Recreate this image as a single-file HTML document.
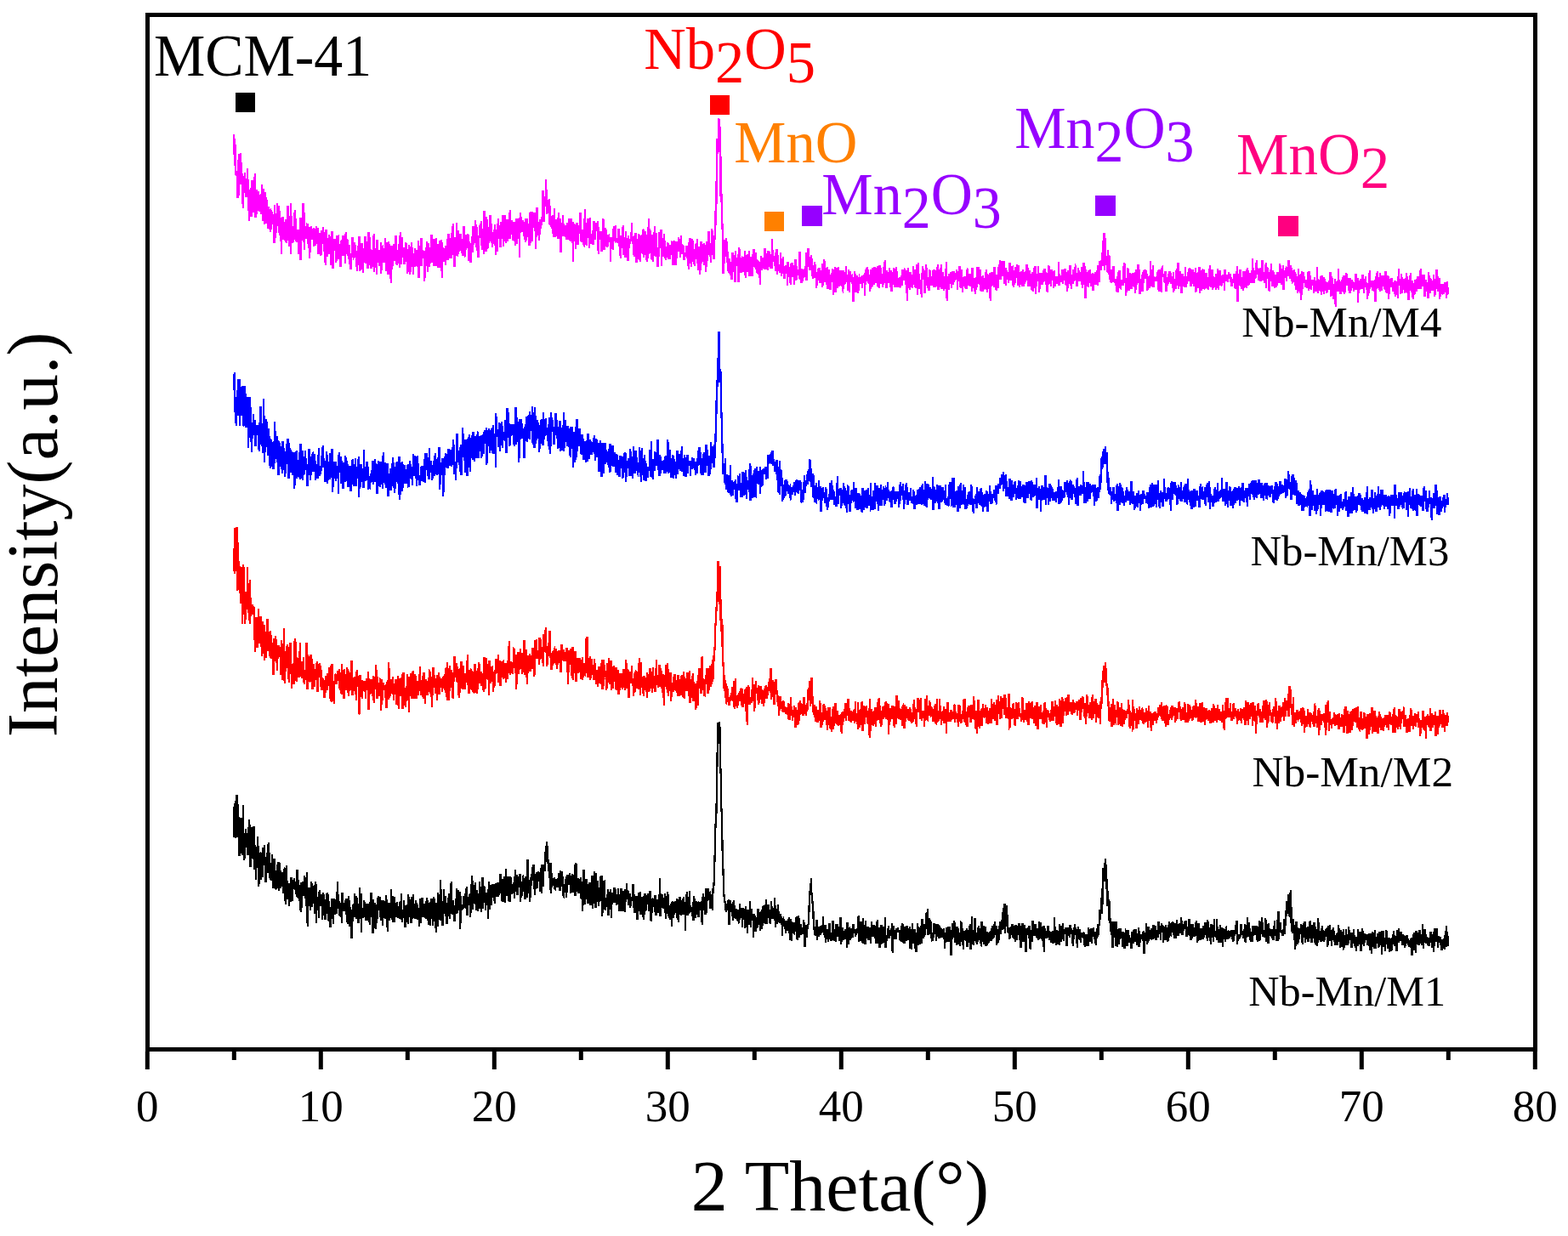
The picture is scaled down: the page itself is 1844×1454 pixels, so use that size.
<!DOCTYPE html>
<html><head><meta charset="utf-8"><title>XRD</title><style>html,body{margin:0;padding:0;background:#fff;}svg{display:block;}</style></head><body>
<svg width="1844" height="1454" viewBox="0 0 1844 1454">
<rect x="0" y="0" width="1844" height="1454" fill="#fff"/>
<polyline fill="none" stroke="#FF00FF" stroke-width="2.3" shape-rendering="crispEdges" points="275.3,158.0 275.7,184.5 276.1,194.8 276.5,192.9 276.9,169.7 277.3,205.5 277.7,201.2 278.2,203.1 278.6,205.5 279.0,213.1 279.4,233.4 279.8,188.2 280.2,200.7 280.6,230.2 281.0,181.5 281.4,210.2 281.8,195.3 282.2,207.7 282.6,217.1 283.1,179.8 283.5,196.2 283.9,190.9 284.3,210.7 284.7,204.4 285.1,240.2 285.5,207.4 285.9,244.6 286.3,211.9 286.7,223.1 287.1,220.1 287.5,220.2 287.9,203.0 288.4,226.2 288.8,227.4 289.2,225.6 289.6,231.9 290.0,210.3 290.4,218.7 290.8,213.6 291.2,198.2 291.6,230.2 292.0,215.4 292.4,224.3 292.8,259.8 293.3,229.8 293.7,228.4 294.1,243.2 294.5,246.1 294.9,254.9 295.3,220.6 295.7,255.2 296.1,227.2 296.5,212.5 296.9,216.3 297.3,246.4 297.7,241.8 298.1,249.7 298.6,218.2 299.0,227.0 299.4,215.1 299.8,204.5 300.2,233.0 300.6,256.3 301.0,250.0 301.4,223.5 301.8,251.7 302.2,227.4 302.6,240.6 303.0,248.4 303.5,231.4 303.9,225.1 304.3,247.4 304.7,236.2 305.1,231.5 305.5,248.8 305.9,237.3 306.3,246.3 306.7,227.8 307.1,252.2 307.5,229.2 307.9,237.6 308.3,217.3 308.8,260.3 309.2,245.9 309.6,251.6 310.0,221.8 310.4,248.3 310.8,241.1 311.2,263.8 311.6,225.7 312.0,252.9 312.4,263.1 312.8,232.4 313.2,250.9 313.7,234.8 314.1,250.9 314.5,255.4 314.9,269.4 315.3,254.0 315.7,242.7 316.1,260.6 316.5,253.1 316.9,268.4 317.3,245.7 317.7,272.8 318.1,257.2 318.5,258.6 319.0,269.5 319.4,248.9 319.8,249.6 320.2,263.9 320.6,256.2 321.0,258.4 321.4,252.6 321.8,254.3 322.2,270.6 322.6,285.8 323.0,240.9 323.4,280.4 323.9,270.2 324.3,276.8 324.7,263.2 325.1,251.1 325.5,258.6 325.9,249.1 326.3,239.3 326.7,261.0 327.1,265.8 327.5,258.7 327.9,265.3 328.3,242.2 328.7,277.2 329.2,261.2 329.6,264.1 330.0,273.3 330.4,256.4 330.8,298.6 331.2,280.9 331.6,280.8 332.0,266.7 332.4,255.4 332.8,271.6 333.2,255.6 333.6,268.5 334.1,268.7 334.5,282.0 334.9,271.7 335.3,268.1 335.7,284.5 336.1,265.0 336.5,259.7 336.9,260.2 337.3,286.1 337.7,267.7 338.1,259.9 338.5,242.1 338.9,254.2 339.4,272.1 339.8,275.8 340.2,290.0 340.6,259.5 341.0,275.2 341.4,285.7 341.8,239.5 342.2,299.1 342.6,254.8 343.0,254.9 343.4,281.8 343.8,275.3 344.3,285.8 344.7,278.7 345.1,274.4 345.5,269.0 345.9,260.9 346.3,278.5 346.7,246.6 347.1,269.0 347.5,281.5 347.9,257.0 348.3,282.5 348.7,284.5 349.1,273.1 349.6,270.4 350.0,279.5 350.4,280.8 350.8,269.7 351.2,299.0 351.6,292.4 352.0,286.0 352.4,291.1 352.8,290.1 353.2,256.3 353.6,305.8 354.0,255.9 354.5,276.8 354.9,260.4 355.3,282.4 355.7,280.1 356.1,277.7 356.5,239.0 356.9,285.0 357.3,278.3 357.7,249.7 358.1,294.2 358.5,273.7 358.9,266.3 359.3,281.3 359.8,269.4 360.2,281.1 360.6,271.9 361.0,265.5 361.4,262.6 361.8,286.9 362.2,278.4 362.6,268.0 363.0,270.4 363.4,266.9 363.8,304.4 364.2,282.9 364.7,280.7 365.1,297.3 365.5,271.1 365.9,265.9 366.3,273.4 366.7,281.9 367.1,277.6 367.5,276.1 367.9,282.4 368.3,275.5 368.7,267.8 369.1,290.3 369.5,278.3 370.0,278.3 370.4,288.3 370.8,287.4 371.2,269.1 371.6,274.0 372.0,266.3 372.4,268.8 372.8,287.2 373.2,277.9 373.6,272.7 374.0,268.2 374.4,299.4 374.9,279.5 375.3,287.5 375.7,283.9 376.1,273.7 376.5,290.3 376.9,286.9 377.3,301.0 377.7,292.8 378.1,271.1 378.5,284.5 378.9,284.9 379.3,285.4 379.7,271.9 380.2,267.0 380.6,285.3 381.0,291.0 381.4,273.2 381.8,309.0 382.2,295.1 382.6,282.0 383.0,311.7 383.4,270.3 383.8,276.4 384.2,275.8 384.6,302.1 385.1,280.0 385.5,297.3 385.9,291.8 386.3,282.3 386.7,290.7 387.1,275.8 387.5,299.2 387.9,278.4 388.3,279.8 388.7,297.8 389.1,284.7 389.5,311.7 389.9,306.3 390.4,271.8 390.8,292.5 391.2,289.3 391.6,315.5 392.0,285.0 392.4,284.3 392.8,289.2 393.2,289.2 393.6,281.5 394.0,294.8 394.4,286.0 394.8,282.6 395.3,309.3 395.7,294.1 396.1,280.7 396.5,277.1 396.9,289.0 397.3,279.0 397.7,278.5 398.1,305.4 398.5,291.6 398.9,287.1 399.3,295.5 399.7,287.4 400.1,294.6 400.6,313.9 401.0,293.6 401.4,287.4 401.8,281.6 402.2,301.4 402.6,292.6 403.0,299.1 403.4,276.9 403.8,290.6 404.2,296.1 404.6,301.0 405.0,298.1 405.5,292.4 405.9,309.6 406.3,295.4 406.7,272.8 407.1,281.8 407.5,295.5 407.9,298.7 408.3,281.5 408.7,283.0 409.1,300.6 409.5,299.6 409.9,300.9 410.3,304.8 410.8,297.7 411.2,288.5 411.6,311.4 412.0,309.0 412.4,316.7 412.8,303.1 413.2,299.7 413.6,301.0 414.0,302.2 414.4,278.6 414.8,297.4 415.2,295.3 415.7,303.5 416.1,302.9 416.5,296.1 416.9,294.8 417.3,285.0 417.7,302.9 418.1,294.7 418.5,296.1 418.9,312.0 419.3,311.7 419.7,296.7 420.1,319.0 420.5,308.2 421.0,300.8 421.4,290.3 421.8,290.4 422.2,310.6 422.6,278.5 423.0,319.1 423.4,307.8 423.8,296.2 424.2,318.0 424.6,302.7 425.0,286.1 425.4,292.5 425.9,287.7 426.3,286.4 426.7,321.4 427.1,300.9 427.5,297.7 427.9,308.5 428.3,306.1 428.7,292.0 429.1,288.5 429.5,277.7 429.9,309.8 430.3,296.7 430.7,309.5 431.2,299.7 431.6,284.3 432.0,292.6 432.4,316.1 432.8,292.7 433.2,305.1 433.6,273.2 434.0,290.8 434.4,310.4 434.8,278.6 435.2,311.6 435.6,294.3 436.1,293.1 436.5,316.0 436.9,294.4 437.3,312.4 437.7,296.0 438.1,304.7 438.5,312.2 438.9,312.8 439.3,298.0 439.7,275.4 440.1,320.2 440.5,294.7 440.9,315.2 441.4,292.0 441.8,296.2 442.2,302.2 442.6,300.7 443.0,322.9 443.4,281.9 443.8,295.0 444.2,304.2 444.6,306.0 445.0,301.5 445.4,303.3 445.8,312.5 446.3,295.0 446.7,294.9 447.1,299.9 447.5,308.8 447.9,285.0 448.3,322.0 448.7,297.0 449.1,293.9 449.5,297.1 449.9,288.7 450.3,290.5 450.7,297.3 451.1,306.1 451.6,309.0 452.0,296.5 452.4,297.5 452.8,305.9 453.2,279.7 453.6,298.9 454.0,312.5 454.4,319.1 454.8,298.5 455.2,285.4 455.6,294.0 456.0,314.6 456.5,323.3 456.9,298.9 457.3,284.0 457.7,302.4 458.1,309.4 458.5,310.8 458.9,304.9 459.3,328.1 459.7,300.7 460.1,332.6 460.5,288.8 460.9,317.1 461.3,313.2 461.8,309.9 462.2,292.2 462.6,299.2 463.0,287.5 463.4,301.2 463.8,303.9 464.2,307.1 464.6,287.2 465.0,292.6 465.4,276.6 465.8,301.4 466.2,289.1 466.7,312.3 467.1,294.5 467.5,306.2 467.9,296.3 468.3,300.2 468.7,298.2 469.1,287.2 469.5,310.0 469.9,290.7 470.3,314.6 470.7,273.0 471.1,294.8 471.5,309.6 472.0,309.8 472.4,278.6 472.8,302.4 473.2,302.2 473.6,303.2 474.0,295.9 474.4,291.4 474.8,302.2 475.2,306.3 475.6,311.0 476.0,299.1 476.4,290.8 476.9,308.1 477.3,284.7 477.7,292.1 478.1,292.8 478.5,299.8 478.9,301.8 479.3,321.9 479.7,307.0 480.1,310.5 480.5,295.5 480.9,288.0 481.3,295.8 481.7,294.2 482.2,322.9 482.6,316.2 483.0,309.4 483.4,299.0 483.8,285.5 484.2,296.3 484.6,292.8 485.0,291.3 485.4,304.4 485.8,319.2 486.2,322.5 486.6,297.6 487.1,300.8 487.5,303.2 487.9,292.2 488.3,314.4 488.7,305.4 489.1,300.6 489.5,305.7 489.9,294.4 490.3,297.0 490.7,313.6 491.1,310.5 491.5,301.3 491.9,283.5 492.4,327.0 492.8,304.6 493.2,310.1 493.6,288.7 494.0,306.0 494.4,306.2 494.8,303.1 495.2,312.7 495.6,280.2 496.0,313.0 496.4,295.3 496.8,294.0 497.3,299.3 497.7,304.2 498.1,301.7 498.5,295.2 498.9,306.0 499.3,331.1 499.7,306.9 500.1,295.3 500.5,312.9 500.9,309.3 501.3,290.7 501.7,313.2 502.1,284.1 502.6,304.7 503.0,320.0 503.4,285.9 503.8,294.0 504.2,290.1 504.6,314.0 505.0,291.1 505.4,297.8 505.8,303.3 506.2,309.6 506.6,306.5 507.0,288.0 507.5,276.1 507.9,308.9 508.3,298.7 508.7,305.1 509.1,291.2 509.5,297.8 509.9,313.2 510.3,281.5 510.7,295.6 511.1,280.6 511.5,312.5 511.9,299.6 512.3,287.2 512.8,279.6 513.2,298.8 513.6,299.4 514.0,295.9 514.4,312.6 514.8,286.8 515.2,306.3 515.6,314.5 516.0,291.3 516.4,307.4 516.8,314.7 517.2,282.7 517.7,290.8 518.1,283.8 518.5,303.5 518.9,318.6 519.3,282.2 519.7,297.9 520.1,327.4 520.5,290.9 520.9,304.7 521.3,304.3 521.7,292.1 522.1,307.8 522.5,301.8 523.0,296.5 523.4,294.6 523.8,311.9 524.2,299.2 524.6,289.1 525.0,291.7 525.4,300.4 525.8,301.5 526.2,280.7 526.6,305.8 527.0,282.0 527.4,274.8 527.9,290.7 528.3,297.6 528.7,304.1 529.1,280.1 529.5,288.2 529.9,303.3 530.3,290.9 530.7,303.6 531.1,297.9 531.5,273.8 531.9,281.2 532.3,299.8 532.7,263.0 533.2,299.0 533.6,287.7 534.0,279.5 534.4,314.3 534.8,279.2 535.2,281.7 535.6,285.3 536.0,285.0 536.4,294.5 536.8,292.9 537.2,261.7 537.6,301.1 538.1,300.0 538.5,298.2 538.9,293.2 539.3,270.8 539.7,296.0 540.1,282.4 540.5,275.5 540.9,287.8 541.3,294.5 541.7,276.0 542.1,275.1 542.5,293.5 542.9,298.2 543.4,280.6 543.8,288.9 544.2,286.6 544.6,301.2 545.0,289.4 545.4,266.2 545.8,276.8 546.2,299.7 546.6,301.0 547.0,300.5 547.4,283.4 547.8,275.8 548.3,293.5 548.7,284.0 549.1,282.6 549.5,277.6 549.9,288.9 550.3,275.0 550.7,280.3 551.1,306.5 551.5,283.7 551.9,298.2 552.3,286.8 552.7,288.9 553.1,286.2 553.6,308.8 554.0,288.0 554.4,286.9 554.8,285.6 555.2,278.1 555.6,296.7 556.0,274.3 556.4,266.3 556.8,285.9 557.2,288.0 557.6,269.6 558.0,285.8 558.5,282.4 558.9,264.6 559.3,258.7 559.7,286.0 560.1,282.1 560.5,291.2 560.9,266.9 561.3,294.8 561.7,282.9 562.1,286.5 562.5,302.9 562.9,281.0 563.3,279.2 563.8,276.2 564.2,264.8 564.6,279.8 565.0,264.3 565.4,268.6 565.8,260.3 566.2,288.9 566.6,278.9 567.0,293.5 567.4,273.6 567.8,275.4 568.2,271.7 568.7,269.0 569.1,298.7 569.5,248.1 569.9,293.3 570.3,292.1 570.7,273.8 571.1,280.4 571.5,296.1 571.9,278.7 572.3,255.5 572.7,270.5 573.1,292.5 573.5,267.2 574.0,291.6 574.4,273.0 574.8,285.8 575.2,271.8 575.6,269.8 576.0,273.8 576.4,253.5 576.8,283.5 577.2,252.9 577.6,276.1 578.0,264.3 578.4,280.4 578.9,290.5 579.3,276.5 579.7,272.7 580.1,279.2 580.5,281.1 580.9,285.5 581.3,270.3 581.7,288.5 582.1,263.9 582.5,273.4 582.9,299.9 583.3,277.3 583.7,283.1 584.2,279.3 584.6,277.9 585.0,296.3 585.4,274.9 585.8,257.0 586.2,271.7 586.6,276.1 587.0,267.5 587.4,267.1 587.8,287.5 588.2,279.6 588.6,291.0 589.1,276.0 589.5,260.6 589.9,270.3 590.3,269.4 590.7,268.8 591.1,280.8 591.5,252.6 591.9,270.5 592.3,289.5 592.7,259.3 593.1,280.0 593.5,271.9 593.9,253.1 594.4,261.1 594.8,286.3 595.2,263.6 595.6,271.9 596.0,270.1 596.4,258.3 596.8,283.6 597.2,281.1 597.6,275.2 598.0,268.9 598.4,261.2 598.8,259.8 599.3,280.6 599.7,247.1 600.1,281.0 600.5,273.8 600.9,275.2 601.3,269.9 601.7,258.8 602.1,260.2 602.5,268.0 602.9,274.5 603.3,283.3 603.7,272.6 604.1,275.4 604.6,260.6 605.0,278.9 605.4,274.9 605.8,289.3 606.2,280.0 606.6,269.6 607.0,256.8 607.4,286.5 607.8,258.9 608.2,272.5 608.6,280.2 609.0,277.8 609.5,256.9 609.9,257.9 610.3,281.4 610.7,276.2 611.1,302.7 611.5,259.7 611.9,250.2 612.3,255.1 612.7,258.5 613.1,263.6 613.5,271.4 613.9,271.4 614.3,264.8 614.8,259.5 615.2,271.1 615.6,262.2 616.0,278.1 616.4,263.9 616.8,260.9 617.2,280.9 617.6,280.9 618.0,285.4 618.4,257.2 618.8,278.5 619.2,282.9 619.7,270.1 620.1,257.3 620.5,265.9 620.9,274.2 621.3,268.7 621.7,268.6 622.1,278.1 622.5,288.7 622.9,284.4 623.3,257.4 623.7,249.2 624.1,285.7 624.5,282.8 625.0,266.4 625.4,249.3 625.8,283.6 626.2,261.7 626.6,258.3 627.0,264.8 627.4,268.2 627.8,249.7 628.2,253.1 628.6,266.8 629.0,267.6 629.4,250.2 629.9,292.5 630.3,279.8 630.7,273.0 631.1,274.0 631.5,244.0 631.9,267.7 632.3,272.6 632.7,267.8 633.1,270.1 633.5,272.6 633.9,282.7 634.3,277.3 634.7,258.9 635.2,276.0 635.6,258.0 636.0,264.3 636.4,264.3 636.8,259.0 637.2,255.3 637.6,258.6 638.0,257.2 638.4,223.6 638.8,247.7 639.2,237.4 639.6,261.4 640.1,243.7 640.5,231.2 640.9,243.2 641.3,237.9 641.7,241.6 642.1,210.8 642.5,230.2 642.9,223.2 643.3,251.8 643.7,245.0 644.1,235.1 644.5,238.6 644.9,240.7 645.4,238.3 645.8,235.6 646.2,234.2 646.6,264.1 647.0,242.1 647.4,260.5 647.8,267.0 648.2,265.5 648.6,260.2 649.0,268.6 649.4,256.7 649.8,253.2 650.3,275.0 650.7,272.6 651.1,278.7 651.5,266.6 651.9,245.2 652.3,261.8 652.7,259.6 653.1,278.5 653.5,258.1 653.9,277.9 654.3,270.3 654.7,271.0 655.1,270.7 655.6,274.7 656.0,255.9 656.4,281.2 656.8,250.0 657.2,260.0 657.6,259.8 658.0,276.2 658.4,258.8 658.8,287.4 659.2,257.3 659.6,297.4 660.0,275.4 660.5,277.9 660.9,272.4 661.3,278.4 661.7,260.4 662.1,253.1 662.5,278.2 662.9,275.9 663.3,266.7 663.7,265.7 664.1,266.8 664.5,270.5 664.9,278.7 665.3,265.0 665.8,272.4 666.2,282.3 666.6,266.9 667.0,275.7 667.4,262.3 667.8,269.8 668.2,266.3 668.6,282.3 669.0,265.3 669.4,256.6 669.8,272.1 670.2,263.5 670.7,284.4 671.1,274.1 671.5,264.7 671.9,257.2 672.3,269.9 672.7,267.2 673.1,268.2 673.5,270.9 673.9,307.6 674.3,261.2 674.7,272.4 675.1,279.3 675.5,283.6 676.0,268.7 676.4,273.6 676.8,267.6 677.2,293.2 677.6,263.7 678.0,273.8 678.4,262.4 678.8,278.9 679.2,263.0 679.6,288.3 680.0,264.7 680.4,269.7 680.9,270.1 681.3,274.5 681.7,264.1 682.1,251.3 682.5,250.3 682.9,268.5 683.3,283.4 683.7,283.5 684.1,276.6 684.5,282.6 684.9,271.6 685.3,270.2 685.7,277.7 686.2,287.3 686.6,287.8 687.0,277.1 687.4,257.3 687.8,265.7 688.2,245.8 688.6,284.2 689.0,272.0 689.4,287.4 689.8,287.6 690.2,270.9 690.6,280.3 691.1,272.4 691.5,256.7 691.9,278.0 692.3,275.4 692.7,275.7 693.1,291.6 693.5,263.1 693.9,256.5 694.3,284.1 694.7,287.2 695.1,281.0 695.5,275.3 695.9,277.4 696.4,277.0 696.8,275.9 697.2,271.2 697.6,288.2 698.0,268.6 698.4,260.2 698.8,275.1 699.2,267.1 699.6,264.9 700.0,281.5 700.4,262.2 700.8,264.4 701.3,268.6 701.7,265.6 702.1,270.8 702.5,271.7 702.9,261.6 703.3,260.6 703.7,298.7 704.1,278.2 704.5,271.6 704.9,281.9 705.3,278.6 705.7,277.9 706.1,272.4 706.6,273.7 707.0,271.8 707.4,295.5 707.8,273.7 708.2,282.1 708.6,283.0 709.0,256.9 709.4,290.0 709.8,280.2 710.2,258.1 710.6,294.2 711.0,288.7 711.5,281.4 711.9,271.1 712.3,268.4 712.7,276.8 713.1,273.6 713.5,289.9 713.9,286.0 714.3,291.2 714.7,281.6 715.1,277.8 715.5,277.0 715.9,276.7 716.3,278.2 716.8,284.0 717.2,282.7 717.6,280.4 718.0,307.6 718.4,282.2 718.8,284.8 719.2,279.0 719.6,292.6 720.0,291.2 720.4,282.9 720.8,293.5 721.2,289.2 721.7,268.0 722.1,268.5 722.5,272.0 722.9,284.2 723.3,274.6 723.7,265.3 724.1,276.3 724.5,282.9 724.9,282.5 725.3,285.1 725.7,281.9 726.1,285.8 726.5,281.8 727.0,275.2 727.4,269.3 727.8,283.6 728.2,290.4 728.6,277.7 729.0,278.4 729.4,293.8 729.8,304.0 730.2,301.1 730.6,279.1 731.0,277.2 731.4,282.3 731.9,287.4 732.3,289.2 732.7,265.2 733.1,299.8 733.5,295.5 733.9,281.0 734.3,291.9 734.7,278.9 735.1,285.5 735.5,302.6 735.9,271.9 736.3,280.5 736.7,281.2 737.2,283.0 737.6,289.9 738.0,285.6 738.4,307.0 738.8,277.0 739.2,295.6 739.6,283.0 740.0,291.6 740.4,285.8 740.8,283.9 741.2,280.8 741.6,284.4 742.1,276.0 742.5,280.8 742.9,262.4 743.3,284.4 743.7,277.9 744.1,284.6 744.5,278.4 744.9,299.8 745.3,286.0 745.7,286.6 746.1,302.1 746.5,276.9 746.9,290.2 747.4,273.6 747.8,279.1 748.2,280.1 748.6,308.6 749.0,280.9 749.4,297.2 749.8,295.2 750.2,305.3 750.6,286.8 751.0,274.8 751.4,276.4 751.8,306.0 752.3,296.9 752.7,306.6 753.1,307.7 753.5,293.9 753.9,289.8 754.3,296.7 754.7,275.7 755.1,286.5 755.5,289.9 755.9,298.7 756.3,270.9 756.7,269.7 757.1,303.3 757.6,296.6 758.0,285.3 758.4,284.2 758.8,289.9 759.2,272.0 759.6,280.7 760.0,301.2 760.4,301.3 760.8,308.4 761.2,295.4 761.6,303.8 762.0,273.9 762.5,274.3 762.9,257.0 763.3,273.7 763.7,268.8 764.1,297.2 764.5,298.1 764.9,274.1 765.3,271.3 765.7,300.9 766.1,304.7 766.5,276.1 766.9,292.9 767.3,306.3 767.8,293.4 768.2,307.9 768.6,291.2 769.0,292.9 769.4,286.0 769.8,265.9 770.2,284.2 770.6,278.8 771.0,302.2 771.4,274.2 771.8,288.8 772.2,290.9 772.7,297.0 773.1,291.3 773.5,314.1 773.9,296.4 774.3,293.2 774.7,293.0 775.1,301.9 775.5,273.1 775.9,282.1 776.3,291.2 776.7,282.0 777.1,292.3 777.5,270.0 778.0,312.7 778.4,294.5 778.8,292.2 779.2,279.6 779.6,300.4 780.0,301.9 780.4,285.7 780.8,290.6 781.2,275.2 781.6,294.2 782.0,292.4 782.4,303.7 782.9,297.5 783.3,305.6 783.7,290.3 784.1,294.3 784.5,290.1 784.9,292.3 785.3,284.9 785.7,291.1 786.1,285.7 786.5,304.8 786.9,297.0 787.3,294.5 787.7,288.1 788.2,304.6 788.6,294.1 789.0,299.0 789.4,287.6 789.8,296.5 790.2,285.4 790.6,285.8 791.0,286.9 791.4,312.0 791.8,294.7 792.2,309.8 792.6,283.1 793.1,297.4 793.5,287.3 793.9,297.2 794.3,311.9 794.7,310.6 795.1,284.5 795.5,302.3 795.9,303.5 796.3,292.1 796.7,289.4 797.1,284.1 797.5,295.9 797.9,278.6 798.4,291.3 798.8,295.1 799.2,285.9 799.6,280.8 800.0,302.6 800.4,292.0 800.8,276.7 801.2,291.5 801.6,297.9 802.0,287.3 802.4,298.9 802.8,296.5 803.3,298.4 803.7,290.4 804.1,288.7 804.5,306.0 804.9,297.5 805.3,299.5 805.7,301.7 806.1,298.9 806.5,299.3 806.9,298.7 807.3,295.7 807.7,288.6 808.1,304.0 808.6,298.4 809.0,291.9 809.4,304.9 809.8,316.6 810.2,285.2 810.6,298.1 811.0,310.3 811.4,280.4 811.8,296.1 812.2,295.2 812.6,289.5 813.0,314.2 813.5,305.3 813.9,295.3 814.3,280.8 814.7,297.8 815.1,286.6 815.5,301.8 815.9,292.7 816.3,299.6 816.7,312.6 817.1,305.0 817.5,293.5 817.9,295.1 818.3,286.9 818.8,305.0 819.2,286.5 819.6,290.2 820.0,280.6 820.4,297.3 820.8,317.6 821.2,291.3 821.6,291.4 822.0,290.3 822.4,297.3 822.8,300.3 823.2,322.9 823.7,309.4 824.1,298.2 824.5,284.4 824.9,310.1 825.3,300.7 825.7,287.4 826.1,298.5 826.5,295.9 826.9,307.6 827.3,299.8 827.7,286.5 828.1,298.5 828.5,311.9 829.0,298.7 829.4,290.1 829.8,288.2 830.2,319.6 830.6,307.5 831.0,284.0 831.4,299.8 831.8,307.4 832.2,302.5 832.6,288.1 833.0,291.9 833.4,271.9 833.9,290.2 834.3,290.9 834.7,301.5 835.1,289.7 835.5,286.4 835.9,309.4 836.3,302.7 836.7,285.8 837.1,269.0 837.5,272.7 837.9,289.5 838.3,290.3 838.7,288.2 839.2,297.3 839.6,305.2 840.0,291.1 840.4,281.2 840.8,274.8 841.2,248.2 841.6,264.9 842.0,239.8 842.4,239.6 842.8,199.9 843.2,194.7 843.6,163.1 844.1,165.1 844.5,179.1 844.9,140.5 845.3,140.2 845.7,140.4 846.1,155.8 846.5,148.6 846.9,167.6 847.3,172.6 847.7,237.5 848.1,214.6 848.5,235.4 848.9,238.7 849.4,265.5 849.8,272.3 850.2,263.1 850.6,321.5 851.0,291.2 851.4,295.0 851.8,309.7 852.2,281.6 852.6,302.3 853.0,291.6 853.4,298.0 853.8,300.8 854.3,280.5 854.7,300.4 855.1,308.8 855.5,296.1 855.9,308.1 856.3,303.7 856.7,320.5 857.1,305.1 857.5,310.0 857.9,307.7 858.3,304.3 858.7,323.9 859.1,311.6 859.6,310.8 860.0,315.0 860.4,328.9 860.8,299.1 861.2,321.8 861.6,297.5 862.0,306.7 862.4,315.3 862.8,320.3 863.2,299.8 863.6,320.2 864.0,314.9 864.5,331.5 864.9,295.5 865.3,313.7 865.7,303.9 866.1,304.9 866.5,308.5 866.9,303.4 867.3,313.3 867.7,309.7 868.1,298.7 868.5,331.5 868.9,309.2 869.3,291.1 869.8,306.3 870.2,309.3 870.6,306.0 871.0,306.1 871.4,321.2 871.8,303.4 872.2,304.5 872.6,303.7 873.0,305.2 873.4,302.4 873.8,310.2 874.2,319.7 874.7,310.4 875.1,310.6 875.5,304.6 875.9,304.2 876.3,295.1 876.7,327.0 877.1,306.8 877.5,300.1 877.9,309.7 878.3,307.2 878.7,320.3 879.1,313.0 879.5,298.9 880.0,304.3 880.4,300.9 880.8,307.6 881.2,294.6 881.6,325.3 882.0,312.9 882.4,311.2 882.8,312.0 883.2,315.3 883.6,301.7 884.0,310.7 884.4,324.7 884.9,323.0 885.3,299.4 885.7,305.3 886.1,306.9 886.5,292.7 886.9,304.0 887.3,309.5 887.7,314.5 888.1,308.3 888.5,296.6 888.9,307.7 889.3,302.7 889.7,318.7 890.2,318.0 890.6,305.6 891.0,321.9 891.4,307.2 891.8,313.0 892.2,323.3 892.6,316.5 893.0,308.4 893.4,311.9 893.8,334.6 894.2,308.6 894.6,314.1 895.1,301.2 895.5,315.5 895.9,306.5 896.3,318.1 896.7,302.7 897.1,316.1 897.5,310.5 897.9,313.0 898.3,314.3 898.7,316.5 899.1,301.6 899.5,292.4 899.9,307.6 900.4,314.8 900.8,298.1 901.2,317.2 901.6,299.5 902.0,308.4 902.4,307.0 902.8,307.1 903.2,318.3 903.6,295.3 904.0,296.8 904.4,300.6 904.8,306.7 905.3,296.5 905.7,315.8 906.1,304.0 906.5,303.1 906.9,299.4 907.3,311.7 907.7,315.7 908.1,281.2 908.5,308.0 908.9,293.7 909.3,307.2 909.7,305.5 910.1,306.8 910.6,303.5 911.0,300.8 911.4,312.5 911.8,297.4 912.2,319.3 912.6,313.4 913.0,296.0 913.4,293.5 913.8,323.1 914.2,308.2 914.6,300.5 915.0,318.7 915.5,312.1 915.9,316.0 916.3,312.4 916.7,313.7 917.1,318.8 917.5,321.3 917.9,297.5 918.3,314.0 918.7,321.5 919.1,324.8 919.5,313.0 919.9,315.7 920.3,309.8 920.8,301.9 921.2,312.3 921.6,322.1 922.0,317.0 922.4,327.8 922.8,312.9 923.2,322.2 923.6,316.7 924.0,322.0 924.4,312.0 924.8,317.4 925.2,318.1 925.7,320.8 926.1,335.6 926.5,308.1 926.9,326.4 927.3,313.1 927.7,320.0 928.1,316.8 928.5,319.0 928.9,332.4 929.3,316.7 929.7,334.5 930.1,309.8 930.5,319.9 931.0,315.9 931.4,309.4 931.8,322.4 932.2,313.7 932.6,326.3 933.0,312.5 933.4,321.5 933.8,321.6 934.2,335.0 934.6,323.2 935.0,314.2 935.4,305.3 935.9,318.4 936.3,330.0 936.7,324.3 937.1,312.8 937.5,320.8 937.9,324.4 938.3,317.3 938.7,320.1 939.1,318.7 939.5,320.4 939.9,328.3 940.3,298.4 940.7,296.3 941.2,328.9 941.6,316.0 942.0,329.6 942.4,332.7 942.8,316.0 943.2,318.1 943.6,329.1 944.0,329.4 944.4,323.0 944.8,326.8 945.2,317.0 945.6,323.4 946.1,315.9 946.5,325.9 946.9,312.9 947.3,318.5 947.7,320.1 948.1,297.3 948.5,329.9 948.9,301.0 949.3,311.3 949.7,309.1 950.1,309.9 950.5,291.7 950.9,314.4 951.4,311.0 951.8,309.1 952.2,310.6 952.6,318.2 953.0,304.5 953.4,302.1 953.8,317.2 954.2,300.4 954.6,308.5 955.0,305.5 955.4,325.4 955.8,316.5 956.3,327.5 956.7,325.2 957.1,312.2 957.5,321.6 957.9,314.3 958.3,308.0 958.7,324.5 959.1,315.6 959.5,323.9 959.9,323.4 960.3,338.6 960.7,322.2 961.1,320.5 961.6,324.5 962.0,316.3 962.4,327.0 962.8,330.3 963.2,321.2 963.6,315.2 964.0,319.1 964.4,332.8 964.8,319.5 965.2,325.5 965.6,319.1 966.0,318.8 966.5,331.9 966.9,310.5 967.3,337.9 967.7,328.1 968.1,332.6 968.5,320.9 968.9,316.0 969.3,304.6 969.7,320.6 970.1,331.5 970.5,328.1 970.9,329.1 971.3,317.7 971.8,320.6 972.2,335.2 972.6,314.6 973.0,315.9 973.4,340.2 973.8,331.9 974.2,334.5 974.6,323.5 975.0,317.5 975.4,325.0 975.8,329.0 976.2,337.3 976.7,341.0 977.1,323.3 977.5,331.9 977.9,320.9 978.3,322.6 978.7,323.6 979.1,316.3 979.5,317.4 979.9,347.0 980.3,318.4 980.7,341.2 981.1,321.8 981.5,330.7 982.0,314.1 982.4,344.2 982.8,331.8 983.2,315.1 983.6,327.1 984.0,333.6 984.4,315.3 984.8,339.2 985.2,324.8 985.6,326.8 986.0,314.2 986.4,324.4 986.9,337.2 987.3,327.3 987.7,322.2 988.1,318.2 988.5,321.1 988.9,336.2 989.3,325.4 989.7,318.1 990.1,336.8 990.5,327.0 990.9,341.4 991.3,342.1 991.7,329.6 992.2,318.2 992.6,322.0 993.0,335.1 993.4,333.8 993.8,326.3 994.2,333.8 994.6,327.8 995.0,312.8 995.4,332.1 995.8,326.0 996.2,327.5 996.6,323.3 997.1,342.2 997.5,328.7 997.9,317.5 998.3,326.0 998.7,343.5 999.1,324.3 999.5,319.5 999.9,328.8 1000.3,331.1 1000.7,331.0 1001.1,322.8 1001.5,325.8 1001.9,325.2 1002.4,334.1 1002.8,326.3 1003.2,332.4 1003.6,355.0 1004.0,330.1 1004.4,329.8 1004.8,329.2 1005.2,319.1 1005.6,336.3 1006.0,322.5 1006.4,343.5 1006.8,323.7 1007.3,342.2 1007.7,324.5 1008.1,335.8 1008.5,326.6 1008.9,341.4 1009.3,345.1 1009.7,328.6 1010.1,327.7 1010.5,326.3 1010.9,327.9 1011.3,329.5 1011.7,332.3 1012.1,334.3 1012.6,325.6 1013.0,329.4 1013.4,327.0 1013.8,324.0 1014.2,338.8 1014.6,324.7 1015.0,327.2 1015.4,327.3 1015.8,326.8 1016.2,322.9 1016.6,327.7 1017.0,347.5 1017.5,321.9 1017.9,321.3 1018.3,334.8 1018.7,315.2 1019.1,331.1 1019.5,320.6 1019.9,318.7 1020.3,313.7 1020.7,333.3 1021.1,317.2 1021.5,328.8 1021.9,324.1 1022.3,334.4 1022.8,323.5 1023.2,343.2 1023.6,334.9 1024.0,340.1 1024.4,317.1 1024.8,331.4 1025.2,338.4 1025.6,334.0 1026.0,316.5 1026.4,315.3 1026.8,320.8 1027.2,321.0 1027.7,334.8 1028.1,330.5 1028.5,313.6 1028.9,330.7 1029.3,331.3 1029.7,332.5 1030.1,324.4 1030.5,319.1 1030.9,317.1 1031.3,329.9 1031.7,313.5 1032.1,318.7 1032.5,336.2 1033.0,336.6 1033.4,333.0 1033.8,322.5 1034.2,338.8 1034.6,311.7 1035.0,317.7 1035.4,325.1 1035.8,331.9 1036.2,314.9 1036.6,334.3 1037.0,325.2 1037.4,325.6 1037.9,322.5 1038.3,338.1 1038.7,320.3 1039.1,314.0 1039.5,330.5 1039.9,333.0 1040.3,329.3 1040.7,306.3 1041.1,331.9 1041.5,323.4 1041.9,318.3 1042.3,333.3 1042.7,339.2 1043.2,318.4 1043.6,327.1 1044.0,320.2 1044.4,328.5 1044.8,326.5 1045.2,333.4 1045.6,323.6 1046.0,314.9 1046.4,331.4 1046.8,330.0 1047.2,338.3 1047.6,317.6 1048.1,328.1 1048.5,342.5 1048.9,326.1 1049.3,335.1 1049.7,331.1 1050.1,332.9 1050.5,321.8 1050.9,318.2 1051.3,315.5 1051.7,320.8 1052.1,332.0 1052.5,338.2 1052.9,322.5 1053.4,329.9 1053.8,334.7 1054.2,313.7 1054.6,325.5 1055.0,338.2 1055.4,331.4 1055.8,328.2 1056.2,330.2 1056.6,327.0 1057.0,338.4 1057.4,331.7 1057.8,326.2 1058.3,337.4 1058.7,338.3 1059.1,331.0 1059.5,332.9 1059.9,324.9 1060.3,324.5 1060.7,333.2 1061.1,335.9 1061.5,317.1 1061.9,329.6 1062.3,324.0 1062.7,321.8 1063.1,318.1 1063.6,317.3 1064.0,318.9 1064.4,329.1 1064.8,330.9 1065.2,334.4 1065.6,322.6 1066.0,318.2 1066.4,325.6 1066.8,354.4 1067.2,324.3 1067.6,318.4 1068.0,315.0 1068.5,329.3 1068.9,339.0 1069.3,324.7 1069.7,341.1 1070.1,322.2 1070.5,319.8 1070.9,325.1 1071.3,338.0 1071.7,324.5 1072.1,323.4 1072.5,327.4 1072.9,338.9 1073.3,331.7 1073.8,330.5 1074.2,312.8 1074.6,325.5 1075.0,330.9 1075.4,334.0 1075.8,334.6 1076.2,316.7 1076.6,337.7 1077.0,321.2 1077.4,339.4 1077.8,310.6 1078.2,334.0 1078.7,329.1 1079.1,347.0 1079.5,327.6 1079.9,309.0 1080.3,332.7 1080.7,324.4 1081.1,322.0 1081.5,340.1 1081.9,335.0 1082.3,330.3 1082.7,329.2 1083.1,332.2 1083.5,344.5 1084.0,350.4 1084.4,325.2 1084.8,318.7 1085.2,313.4 1085.6,319.1 1086.0,329.4 1086.4,318.1 1086.8,327.0 1087.2,325.7 1087.6,345.0 1088.0,327.8 1088.4,332.3 1088.9,336.3 1089.3,311.0 1089.7,336.4 1090.1,329.6 1090.5,333.1 1090.9,325.7 1091.3,338.7 1091.7,325.9 1092.1,330.5 1092.5,342.3 1092.9,339.9 1093.3,317.3 1093.7,322.8 1094.2,327.6 1094.6,325.3 1095.0,327.9 1095.4,335.6 1095.8,333.8 1096.2,333.1 1096.6,336.0 1097.0,318.0 1097.4,323.5 1097.8,338.3 1098.2,319.3 1098.6,316.7 1099.1,323.6 1099.5,317.6 1099.9,323.9 1100.3,337.6 1100.7,328.2 1101.1,327.5 1101.5,318.9 1101.9,315.9 1102.3,337.4 1102.7,310.6 1103.1,317.9 1103.5,341.1 1103.9,327.0 1104.4,317.0 1104.8,338.2 1105.2,324.0 1105.6,327.7 1106.0,336.6 1106.4,322.4 1106.8,310.8 1107.2,327.6 1107.6,339.5 1108.0,330.7 1108.4,330.9 1108.8,320.2 1109.3,329.7 1109.7,341.5 1110.1,338.2 1110.5,326.3 1110.9,337.1 1111.3,325.1 1111.7,340.0 1112.1,316.1 1112.5,328.5 1112.9,307.8 1113.3,324.6 1113.7,353.9 1114.1,325.4 1114.6,340.2 1115.0,331.9 1115.4,340.5 1115.8,323.1 1116.2,323.3 1116.6,326.6 1117.0,328.0 1117.4,327.7 1117.8,331.7 1118.2,320.5 1118.6,332.7 1119.0,338.6 1119.5,320.3 1119.9,319.0 1120.3,334.4 1120.7,329.0 1121.1,335.1 1121.5,318.8 1121.9,324.3 1122.3,331.6 1122.7,322.4 1123.1,330.2 1123.5,328.4 1123.9,321.1 1124.3,325.2 1124.8,319.9 1125.2,317.5 1125.6,322.2 1126.0,341.0 1126.4,327.4 1126.8,330.9 1127.2,323.3 1127.6,324.5 1128.0,328.3 1128.4,312.7 1128.8,315.5 1129.2,319.0 1129.7,339.1 1130.1,334.0 1130.5,317.5 1130.9,322.5 1131.3,333.8 1131.7,325.8 1132.1,343.5 1132.5,332.4 1132.9,326.3 1133.3,331.7 1133.7,336.9 1134.1,332.0 1134.5,325.4 1135.0,338.1 1135.4,338.3 1135.8,331.3 1136.2,338.3 1136.6,338.4 1137.0,335.9 1137.4,318.6 1137.8,315.6 1138.2,331.1 1138.6,335.9 1139.0,329.5 1139.4,322.2 1139.9,332.9 1140.3,321.7 1140.7,323.5 1141.1,330.0 1141.5,335.8 1141.9,335.9 1142.3,327.9 1142.7,330.0 1143.1,342.8 1143.5,315.1 1143.9,332.5 1144.3,335.6 1144.7,338.7 1145.2,331.4 1145.6,327.4 1146.0,342.9 1146.4,328.5 1146.8,331.1 1147.2,346.0 1147.6,333.9 1148.0,328.9 1148.4,326.6 1148.8,337.9 1149.2,313.6 1149.6,326.5 1150.1,331.0 1150.5,332.8 1150.9,313.9 1151.3,327.3 1151.7,334.5 1152.1,322.2 1152.5,323.9 1152.9,317.4 1153.3,341.4 1153.7,342.3 1154.1,342.3 1154.5,325.3 1154.9,331.7 1155.4,335.8 1155.8,342.5 1156.2,323.9 1156.6,339.2 1157.0,334.8 1157.4,339.2 1157.8,338.5 1158.2,327.3 1158.6,334.5 1159.0,327.4 1159.4,319.6 1159.8,333.1 1160.3,317.1 1160.7,343.5 1161.1,337.3 1161.5,327.9 1161.9,336.1 1162.3,328.3 1162.7,332.7 1163.1,322.6 1163.5,339.5 1163.9,321.2 1164.3,324.0 1164.7,353.5 1165.1,336.9 1165.6,324.2 1166.0,337.1 1166.4,319.7 1166.8,329.3 1167.2,322.7 1167.6,324.3 1168.0,329.6 1168.4,334.1 1168.8,337.7 1169.2,327.0 1169.6,314.0 1170.0,330.3 1170.5,328.7 1170.9,338.1 1171.3,329.7 1171.7,342.4 1172.1,334.7 1172.5,323.3 1172.9,328.5 1173.3,323.9 1173.7,339.4 1174.1,313.9 1174.5,320.2 1174.9,326.6 1175.3,311.3 1175.8,327.9 1176.2,305.6 1176.6,328.8 1177.0,321.5 1177.4,316.4 1177.8,317.4 1178.2,307.1 1178.6,324.8 1179.0,323.8 1179.4,307.3 1179.8,320.4 1180.2,316.6 1180.7,317.5 1181.1,307.2 1181.5,333.5 1181.9,327.8 1182.3,314.7 1182.7,320.3 1183.1,336.4 1183.5,321.1 1183.9,320.6 1184.3,326.2 1184.7,328.8 1185.1,322.6 1185.5,324.6 1186.0,333.0 1186.4,320.8 1186.8,320.1 1187.2,325.7 1187.6,309.1 1188.0,317.1 1188.4,329.5 1188.8,319.5 1189.2,329.1 1189.6,324.3 1190.0,326.8 1190.4,314.3 1190.9,314.1 1191.3,313.7 1191.7,337.5 1192.1,324.4 1192.5,329.2 1192.9,333.9 1193.3,334.8 1193.7,322.7 1194.1,314.2 1194.5,321.7 1194.9,325.7 1195.3,323.9 1195.7,326.4 1196.2,311.3 1196.6,321.8 1197.0,317.5 1197.4,336.0 1197.8,319.0 1198.2,311.9 1198.6,330.3 1199.0,338.2 1199.4,334.6 1199.8,333.9 1200.2,332.3 1200.6,327.9 1201.1,326.3 1201.5,318.6 1201.9,330.0 1202.3,336.7 1202.7,335.4 1203.1,317.2 1203.5,336.6 1203.9,325.8 1204.3,331.2 1204.7,333.6 1205.1,319.8 1205.5,325.5 1205.9,332.4 1206.4,319.0 1206.8,322.9 1207.2,329.8 1207.6,311.2 1208.0,313.9 1208.4,322.5 1208.8,315.4 1209.2,320.9 1209.6,337.4 1210.0,330.1 1210.4,334.3 1210.8,318.4 1211.3,333.5 1211.7,325.9 1212.1,337.1 1212.5,322.5 1212.9,329.7 1213.3,331.0 1213.7,342.2 1214.1,331.4 1214.5,320.2 1214.9,329.2 1215.3,342.8 1215.7,321.4 1216.1,314.8 1216.6,322.2 1217.0,334.2 1217.4,313.4 1217.8,318.5 1218.2,345.8 1218.6,324.7 1219.0,325.2 1219.4,328.9 1219.8,328.5 1220.2,321.6 1220.6,324.7 1221.0,313.4 1221.5,331.0 1221.9,328.4 1222.3,344.3 1222.7,321.2 1223.1,322.8 1223.5,321.3 1223.9,324.3 1224.3,332.1 1224.7,335.3 1225.1,323.7 1225.5,325.9 1225.9,321.3 1226.3,334.6 1226.8,318.2 1227.2,320.4 1227.6,326.0 1228.0,327.5 1228.4,316.0 1228.8,322.1 1229.2,324.5 1229.6,331.1 1230.0,321.0 1230.4,321.4 1230.8,341.9 1231.2,334.5 1231.7,343.5 1232.1,340.7 1232.5,332.0 1232.9,334.6 1233.3,312.3 1233.7,316.6 1234.1,324.0 1234.5,333.6 1234.9,327.6 1235.3,321.5 1235.7,316.6 1236.1,337.3 1236.5,317.5 1237.0,327.7 1237.4,327.0 1237.8,323.9 1238.2,327.5 1238.6,328.2 1239.0,339.2 1239.4,318.9 1239.8,324.0 1240.2,318.0 1240.6,337.3 1241.0,332.5 1241.4,328.6 1241.9,327.6 1242.3,324.8 1242.7,329.7 1243.1,333.8 1243.5,332.6 1243.9,326.8 1244.3,333.8 1244.7,326.2 1245.1,307.9 1245.5,335.8 1245.9,323.1 1246.3,322.0 1246.7,330.9 1247.2,326.2 1247.6,323.8 1248.0,325.5 1248.4,331.8 1248.8,326.9 1249.2,325.3 1249.6,317.1 1250.0,334.2 1250.4,316.8 1250.8,320.2 1251.2,329.6 1251.6,322.8 1252.1,329.0 1252.5,316.5 1252.9,324.7 1253.3,331.5 1253.7,335.6 1254.1,323.2 1254.5,327.5 1254.9,329.1 1255.3,342.8 1255.7,317.6 1256.1,338.4 1256.5,318.3 1256.9,327.9 1257.4,334.3 1257.8,315.1 1258.2,329.9 1258.6,312.1 1259.0,330.3 1259.4,326.5 1259.8,340.1 1260.2,327.8 1260.6,329.5 1261.0,323.3 1261.4,334.4 1261.8,320.3 1262.3,317.3 1262.7,324.8 1263.1,329.9 1263.5,329.6 1263.9,324.4 1264.3,321.7 1264.7,312.9 1265.1,313.6 1265.5,324.1 1265.9,330.2 1266.3,337.2 1266.7,333.7 1267.1,331.1 1267.6,322.6 1268.0,314.7 1268.4,323.4 1268.8,320.4 1269.2,321.1 1269.6,330.6 1270.0,321.5 1270.4,322.3 1270.8,326.5 1271.2,328.0 1271.6,327.3 1272.0,334.9 1272.5,314.1 1272.9,339.2 1273.3,322.8 1273.7,317.6 1274.1,334.9 1274.5,308.9 1274.9,327.7 1275.3,308.8 1275.7,334.7 1276.1,320.8 1276.5,350.7 1276.9,316.8 1277.3,339.3 1277.8,324.4 1278.2,325.2 1278.6,321.3 1279.0,320.8 1279.4,323.3 1279.8,337.9 1280.2,332.4 1280.6,331.8 1281.0,318.1 1281.4,327.6 1281.8,332.4 1282.2,317.4 1282.7,333.1 1283.1,337.1 1283.5,329.2 1283.9,327.7 1284.3,331.2 1284.7,320.9 1285.1,335.5 1285.5,342.3 1285.9,326.1 1286.3,329.2 1286.7,323.8 1287.1,323.7 1287.5,322.9 1288.0,320.3 1288.4,335.2 1288.8,324.3 1289.2,325.4 1289.6,327.2 1290.0,317.9 1290.4,333.6 1290.8,332.0 1291.2,335.5 1291.6,311.9 1292.0,324.5 1292.4,332.4 1292.9,306.6 1293.3,314.5 1293.7,307.4 1294.1,316.1 1294.5,316.6 1294.9,313.3 1295.3,306.1 1295.7,311.5 1296.1,297.5 1296.5,313.1 1296.9,301.2 1297.3,283.3 1297.7,297.1 1298.2,300.8 1298.6,274.4 1299.0,317.6 1299.4,290.3 1299.8,279.7 1300.2,306.2 1300.6,311.4 1301.0,308.1 1301.4,302.9 1301.8,300.8 1302.2,319.9 1302.6,312.8 1303.1,293.7 1303.5,319.9 1303.9,323.0 1304.3,300.2 1304.7,303.4 1305.1,329.3 1305.5,319.8 1305.9,317.0 1306.3,319.2 1306.7,333.4 1307.1,323.1 1307.5,317.2 1307.9,331.8 1308.4,326.4 1308.8,329.1 1309.2,329.6 1309.6,312.6 1310.0,329.3 1310.4,328.8 1310.8,332.1 1311.2,332.2 1311.6,332.0 1312.0,330.5 1312.4,336.3 1312.8,331.0 1313.3,342.8 1313.7,326.5 1314.1,326.3 1314.5,344.0 1314.9,332.8 1315.3,329.3 1315.7,319.1 1316.1,333.5 1316.5,318.5 1316.9,324.8 1317.3,328.3 1317.7,340.4 1318.1,337.8 1318.6,332.7 1319.0,335.1 1319.4,329.1 1319.8,336.3 1320.2,330.2 1320.6,334.9 1321.0,334.8 1321.4,313.1 1321.8,316.8 1322.2,309.5 1322.6,310.9 1323.0,326.4 1323.5,328.7 1323.9,339.0 1324.3,347.8 1324.7,326.6 1325.1,340.6 1325.5,341.6 1325.9,335.5 1326.3,315.5 1326.7,320.9 1327.1,322.0 1327.5,333.4 1327.9,341.5 1328.3,320.7 1328.8,325.1 1329.2,329.5 1329.6,333.5 1330.0,323.9 1330.4,339.7 1330.8,333.9 1331.2,340.2 1331.6,322.5 1332.0,337.1 1332.4,321.2 1332.8,336.3 1333.2,334.5 1333.7,336.6 1334.1,336.9 1334.5,335.7 1334.9,327.2 1335.3,345.1 1335.7,317.0 1336.1,340.8 1336.5,331.6 1336.9,327.5 1337.3,321.4 1337.7,325.9 1338.1,325.8 1338.5,310.7 1339.0,332.9 1339.4,316.8 1339.8,323.0 1340.2,316.9 1340.6,346.3 1341.0,330.0 1341.4,334.0 1341.8,331.0 1342.2,331.1 1342.6,329.2 1343.0,322.6 1343.4,343.4 1343.9,335.1 1344.3,320.4 1344.7,332.8 1345.1,324.2 1345.5,319.3 1345.9,317.1 1346.3,326.1 1346.7,317.4 1347.1,322.5 1347.5,328.3 1347.9,318.4 1348.3,326.2 1348.7,322.1 1349.2,342.3 1349.6,328.3 1350.0,340.6 1350.4,338.1 1350.8,336.8 1351.2,324.6 1351.6,327.4 1352.0,339.0 1352.4,337.1 1352.8,321.9 1353.2,307.4 1353.6,329.9 1354.1,323.8 1354.5,331.7 1354.9,337.0 1355.3,335.0 1355.7,326.1 1356.1,312.5 1356.5,338.3 1356.9,333.8 1357.3,325.5 1357.7,330.1 1358.1,329.6 1358.5,328.2 1358.9,328.0 1359.4,331.3 1359.8,325.2 1360.2,328.2 1360.6,330.5 1361.0,321.8 1361.4,324.0 1361.8,317.7 1362.2,340.5 1362.6,325.7 1363.0,342.6 1363.4,316.9 1363.8,336.6 1364.3,338.5 1364.7,334.3 1365.1,334.9 1365.5,342.6 1365.9,343.8 1366.3,320.4 1366.7,314.2 1367.1,313.9 1367.5,325.2 1367.9,323.9 1368.3,325.0 1368.7,324.6 1369.1,329.2 1369.6,328.5 1370.0,332.6 1370.4,319.0 1370.8,327.5 1371.2,332.4 1371.6,343.2 1372.0,333.3 1372.4,326.5 1372.8,332.8 1373.2,336.0 1373.6,330.4 1374.0,327.7 1374.5,324.9 1374.9,318.7 1375.3,332.1 1375.7,318.9 1376.1,330.4 1376.5,321.6 1376.9,323.4 1377.3,331.2 1377.7,334.3 1378.1,330.2 1378.5,327.4 1378.9,330.0 1379.3,339.4 1379.8,320.0 1380.2,344.0 1380.6,338.2 1381.0,328.3 1381.4,338.6 1381.8,330.1 1382.2,329.9 1382.6,339.8 1383.0,336.0 1383.4,317.9 1383.8,328.0 1384.2,335.8 1384.7,314.6 1385.1,327.0 1385.5,308.8 1385.9,340.0 1386.3,330.0 1386.7,332.8 1387.1,333.3 1387.5,334.7 1387.9,319.2 1388.3,336.8 1388.7,322.8 1389.1,326.8 1389.5,344.8 1390.0,322.2 1390.4,333.0 1390.8,337.1 1391.2,322.0 1391.6,329.8 1392.0,328.8 1392.4,332.0 1392.8,337.8 1393.2,334.1 1393.6,333.5 1394.0,314.3 1394.4,328.3 1394.9,338.4 1395.3,327.2 1395.7,327.8 1396.1,334.1 1396.5,327.8 1396.9,328.1 1397.3,330.7 1397.7,318.9 1398.1,330.7 1398.5,315.8 1398.9,324.6 1399.3,315.3 1399.7,320.8 1400.2,322.0 1400.6,337.0 1401.0,336.2 1401.4,327.0 1401.8,325.9 1402.2,334.2 1402.6,316.9 1403.0,332.7 1403.4,324.1 1403.8,336.6 1404.2,334.5 1404.6,326.1 1405.1,330.6 1405.5,324.5 1405.9,314.6 1406.3,344.3 1406.7,335.2 1407.1,333.6 1407.5,325.2 1407.9,325.7 1408.3,321.4 1408.7,338.8 1409.1,320.5 1409.5,325.5 1409.9,324.1 1410.4,314.5 1410.8,318.5 1411.2,345.2 1411.6,334.5 1412.0,321.6 1412.4,323.7 1412.8,342.0 1413.2,329.3 1413.6,318.2 1414.0,317.8 1414.4,338.8 1414.8,332.5 1415.3,340.2 1415.7,326.8 1416.1,317.2 1416.5,325.7 1416.9,334.3 1417.3,338.2 1417.7,337.7 1418.1,336.2 1418.5,320.7 1418.9,336.8 1419.3,329.0 1419.7,327.0 1420.1,327.3 1420.6,339.7 1421.0,340.6 1421.4,329.8 1421.8,337.4 1422.2,316.5 1422.6,328.2 1423.0,311.8 1423.4,331.9 1423.8,337.3 1424.2,337.3 1424.6,335.8 1425.0,336.4 1425.5,316.8 1425.9,325.5 1426.3,341.1 1426.7,325.9 1427.1,324.7 1427.5,336.6 1427.9,336.5 1428.3,327.9 1428.7,325.8 1429.1,331.6 1429.5,335.8 1429.9,322.5 1430.3,341.2 1430.8,326.9 1431.2,324.1 1431.6,333.2 1432.0,315.6 1432.4,336.1 1432.8,341.0 1433.2,333.3 1433.6,326.1 1434.0,327.8 1434.4,318.1 1434.8,326.1 1435.2,332.6 1435.7,336.0 1436.1,327.3 1436.5,334.0 1436.9,335.4 1437.3,335.3 1437.7,322.7 1438.1,329.6 1438.5,323.8 1438.9,327.3 1439.3,327.5 1439.7,330.6 1440.1,342.2 1440.5,316.6 1441.0,329.8 1441.4,329.7 1441.8,323.6 1442.2,325.0 1442.6,326.6 1443.0,331.3 1443.4,326.9 1443.8,325.7 1444.2,332.0 1444.6,323.4 1445.0,320.5 1445.4,327.4 1445.9,323.8 1446.3,325.7 1446.7,327.8 1447.1,322.0 1447.5,332.4 1447.9,326.3 1448.3,333.4 1448.7,336.7 1449.1,332.7 1449.5,330.5 1449.9,331.3 1450.3,332.2 1450.7,332.0 1451.2,326.5 1451.6,322.1 1452.0,328.5 1452.4,338.2 1452.8,339.9 1453.2,334.7 1453.6,335.6 1454.0,321.0 1454.4,329.1 1454.8,312.9 1455.2,316.5 1455.6,355.3 1456.1,332.3 1456.5,329.8 1456.9,322.0 1457.3,336.3 1457.7,332.4 1458.1,331.3 1458.5,316.9 1458.9,323.7 1459.3,337.1 1459.7,326.4 1460.1,339.9 1460.5,325.9 1460.9,329.3 1461.4,326.9 1461.8,341.9 1462.2,318.6 1462.6,337.9 1463.0,337.6 1463.4,327.3 1463.8,338.2 1464.2,331.2 1464.6,320.7 1465.0,321.0 1465.4,319.1 1465.8,322.4 1466.3,339.1 1466.7,314.9 1467.1,318.0 1467.5,318.9 1467.9,327.9 1468.3,335.5 1468.7,330.8 1469.1,334.5 1469.5,320.9 1469.9,325.7 1470.3,329.9 1470.7,323.7 1471.1,323.6 1471.6,333.3 1472.0,320.2 1472.4,325.9 1472.8,314.5 1473.2,303.8 1473.6,330.4 1474.0,321.4 1474.4,332.5 1474.8,326.1 1475.2,327.1 1475.6,326.8 1476.0,317.8 1476.5,326.5 1476.9,311.6 1477.3,322.4 1477.7,308.0 1478.1,306.4 1478.5,319.6 1478.9,323.0 1479.3,315.4 1479.7,318.1 1480.1,330.1 1480.5,318.3 1480.9,325.4 1481.3,324.4 1481.8,316.1 1482.2,316.3 1482.6,330.8 1483.0,320.5 1483.4,323.1 1483.8,326.7 1484.2,323.2 1484.6,306.1 1485.0,330.2 1485.4,326.9 1485.8,321.8 1486.2,325.9 1486.7,329.3 1487.1,333.1 1487.5,322.9 1487.9,315.2 1488.3,328.8 1488.7,309.5 1489.1,338.5 1489.5,322.4 1489.9,314.0 1490.3,323.5 1490.7,315.2 1491.1,328.1 1491.5,320.2 1492.0,325.6 1492.4,338.9 1492.8,343.1 1493.2,328.8 1493.6,321.9 1494.0,329.5 1494.4,330.4 1494.8,310.3 1495.2,318.9 1495.6,324.7 1496.0,337.3 1496.4,332.4 1496.9,336.5 1497.3,318.1 1497.7,326.9 1498.1,324.1 1498.5,329.4 1498.9,339.4 1499.3,333.7 1499.7,323.1 1500.1,330.3 1500.5,337.6 1500.9,333.4 1501.3,326.7 1501.7,335.7 1502.2,320.6 1502.6,322.1 1503.0,333.1 1503.4,329.3 1503.8,319.7 1504.2,328.0 1504.6,329.2 1505.0,310.0 1505.4,332.6 1505.8,321.8 1506.2,311.7 1506.6,322.2 1507.1,325.8 1507.5,334.8 1507.9,317.3 1508.3,316.5 1508.7,328.0 1509.1,312.2 1509.5,341.0 1509.9,319.0 1510.3,327.7 1510.7,320.9 1511.1,327.3 1511.5,318.6 1511.9,316.2 1512.4,315.4 1512.8,330.8 1513.2,321.6 1513.6,314.9 1514.0,316.9 1514.4,324.3 1514.8,324.3 1515.2,311.2 1515.6,305.7 1516.0,321.9 1516.4,321.6 1516.8,321.8 1517.3,328.0 1517.7,311.9 1518.1,319.8 1518.5,322.4 1518.9,322.1 1519.3,314.6 1519.7,332.2 1520.1,331.7 1520.5,328.9 1520.9,329.3 1521.3,327.5 1521.7,316.6 1522.1,324.8 1522.6,320.1 1523.0,336.2 1523.4,322.4 1523.8,323.5 1524.2,340.7 1524.6,326.7 1525.0,338.8 1525.4,324.6 1525.8,345.1 1526.2,339.6 1526.6,326.3 1527.0,315.9 1527.5,340.4 1527.9,334.0 1528.3,323.0 1528.7,344.9 1529.1,332.1 1529.5,336.3 1529.9,344.2 1530.3,353.2 1530.7,318.9 1531.1,344.7 1531.5,328.2 1531.9,339.7 1532.3,321.5 1532.8,321.3 1533.2,328.4 1533.6,328.1 1534.0,324.9 1534.4,333.2 1534.8,331.7 1535.2,332.4 1535.6,338.1 1536.0,336.6 1536.4,329.3 1536.8,330.2 1537.2,335.9 1537.7,339.1 1538.1,324.4 1538.5,320.2 1538.9,342.3 1539.3,325.0 1539.7,318.7 1540.1,337.7 1540.5,334.7 1540.9,324.4 1541.3,331.0 1541.7,340.7 1542.1,331.7 1542.5,336.1 1543.0,329.2 1543.4,335.8 1543.8,330.7 1544.2,335.2 1544.6,329.2 1545.0,345.1 1545.4,336.3 1545.8,338.0 1546.2,325.9 1546.6,334.6 1547.0,331.3 1547.4,342.7 1547.9,335.1 1548.3,337.5 1548.7,334.7 1549.1,313.9 1549.5,335.1 1549.9,344.7 1550.3,327.9 1550.7,334.1 1551.1,335.1 1551.5,330.8 1551.9,340.8 1552.3,336.7 1552.7,342.7 1553.2,325.0 1553.6,333.9 1554.0,347.4 1554.4,324.4 1554.8,333.6 1555.2,334.7 1555.6,333.1 1556.0,342.5 1556.4,328.1 1556.8,325.8 1557.2,346.2 1557.6,337.3 1558.1,328.0 1558.5,334.7 1558.9,330.8 1559.3,334.3 1559.7,334.1 1560.1,344.6 1560.5,339.6 1560.9,344.2 1561.3,338.4 1561.7,331.8 1562.1,338.8 1562.5,333.8 1562.9,341.2 1563.4,335.6 1563.8,326.7 1564.2,333.1 1564.6,319.7 1565.0,349.2 1565.4,345.7 1565.8,329.3 1566.2,325.4 1566.6,345.3 1567.0,326.7 1567.4,338.8 1567.8,352.3 1568.3,335.3 1568.7,338.8 1569.1,343.3 1569.5,337.6 1569.9,328.0 1570.3,335.1 1570.7,360.7 1571.1,337.5 1571.5,337.3 1571.9,335.6 1572.3,336.0 1572.7,330.3 1573.1,335.9 1573.6,343.2 1574.0,316.4 1574.4,335.1 1574.8,335.7 1575.2,333.1 1575.6,331.5 1576.0,332.3 1576.4,346.3 1576.8,332.3 1577.2,336.3 1577.6,335.0 1578.0,329.1 1578.5,343.3 1578.9,326.1 1579.3,342.6 1579.7,342.9 1580.1,336.8 1580.5,323.9 1580.9,346.4 1581.3,338.6 1581.7,341.5 1582.1,341.9 1582.5,331.7 1582.9,333.2 1583.3,321.1 1583.8,330.0 1584.2,335.7 1584.6,333.6 1585.0,328.8 1585.4,329.5 1585.8,337.1 1586.2,339.3 1586.6,338.6 1587.0,344.6 1587.4,327.0 1587.8,344.9 1588.2,332.8 1588.7,339.3 1589.1,339.8 1589.5,338.6 1589.9,329.1 1590.3,330.9 1590.7,333.9 1591.1,339.1 1591.5,331.9 1591.9,333.6 1592.3,342.6 1592.7,334.6 1593.1,336.1 1593.5,332.0 1594.0,337.2 1594.4,322.1 1594.8,341.1 1595.2,333.0 1595.6,333.1 1596.0,339.0 1596.4,327.1 1596.8,345.3 1597.2,355.5 1597.6,329.8 1598.0,344.2 1598.4,336.0 1598.9,340.8 1599.3,335.3 1599.7,336.7 1600.1,332.1 1600.5,328.3 1600.9,334.1 1601.3,334.6 1601.7,340.4 1602.1,328.5 1602.5,323.2 1602.9,330.3 1603.3,327.4 1603.7,337.3 1604.2,344.6 1604.6,328.1 1605.0,332.1 1605.4,332.7 1605.8,325.3 1606.2,330.5 1606.6,333.4 1607.0,335.2 1607.4,340.9 1607.8,333.1 1608.2,351.8 1608.6,343.7 1609.1,337.8 1609.5,343.4 1609.9,343.9 1610.3,345.1 1610.7,318.1 1611.1,339.6 1611.5,331.8 1611.9,332.7 1612.3,336.9 1612.7,335.8 1613.1,337.3 1613.5,330.4 1613.9,338.0 1614.4,340.8 1614.8,341.0 1615.2,332.0 1615.6,335.8 1616.0,337.9 1616.4,330.9 1616.8,329.0 1617.2,341.0 1617.6,354.6 1618.0,325.3 1618.4,339.5 1618.8,336.8 1619.3,338.1 1619.7,319.1 1620.1,334.0 1620.5,336.8 1620.9,336.0 1621.3,326.5 1621.7,338.8 1622.1,340.9 1622.5,326.7 1622.9,342.8 1623.3,321.3 1623.7,336.4 1624.1,334.5 1624.6,341.8 1625.0,335.1 1625.4,329.3 1625.8,336.6 1626.2,329.4 1626.6,324.2 1627.0,329.2 1627.4,330.8 1627.8,334.4 1628.2,339.3 1628.6,339.6 1629.0,328.9 1629.5,318.8 1629.9,335.6 1630.3,337.3 1630.7,344.9 1631.1,335.0 1631.5,325.9 1631.9,328.9 1632.3,323.8 1632.7,329.7 1633.1,351.7 1633.5,343.8 1633.9,334.5 1634.3,337.7 1634.8,335.4 1635.2,329.3 1635.6,328.2 1636.0,333.2 1636.4,326.7 1636.8,338.1 1637.2,335.8 1637.6,336.6 1638.0,334.2 1638.4,342.7 1638.8,340.2 1639.2,339.1 1639.7,331.3 1640.1,346.4 1640.5,330.5 1640.9,341.3 1641.3,349.1 1641.7,336.9 1642.1,334.6 1642.5,331.3 1642.9,346.5 1643.3,339.0 1643.7,334.0 1644.1,350.7 1644.5,329.3 1645.0,316.0 1645.4,335.8 1645.8,327.9 1646.2,330.6 1646.6,332.7 1647.0,346.0 1647.4,340.1 1647.8,322.5 1648.2,324.3 1648.6,345.2 1649.0,325.9 1649.4,333.7 1649.9,340.9 1650.3,330.4 1650.7,328.4 1651.1,333.4 1651.5,330.1 1651.9,336.9 1652.3,345.0 1652.7,337.2 1653.1,332.2 1653.5,326.7 1653.9,328.9 1654.3,320.9 1654.7,345.1 1655.2,338.0 1655.6,344.1 1656.0,333.3 1656.4,353.4 1656.8,344.7 1657.2,333.1 1657.6,329.7 1658.0,323.8 1658.4,328.4 1658.8,337.0 1659.2,321.3 1659.6,341.4 1660.1,344.1 1660.5,337.7 1660.9,335.0 1661.3,329.9 1661.7,352.0 1662.1,333.3 1662.5,346.1 1662.9,339.4 1663.3,346.5 1663.7,344.2 1664.1,329.2 1664.5,338.9 1664.9,334.4 1665.4,342.7 1665.8,328.1 1666.2,334.7 1666.6,331.6 1667.0,337.4 1667.4,324.8 1667.8,337.5 1668.2,331.4 1668.6,339.8 1669.0,332.0 1669.4,332.6 1669.8,335.1 1670.3,334.4 1670.7,316.3 1671.1,340.2 1671.5,335.4 1671.9,333.4 1672.3,336.5 1672.7,330.2 1673.1,336.9 1673.5,323.3 1673.9,327.5 1674.3,335.7 1674.7,323.2 1675.1,336.0 1675.6,348.6 1676.0,345.6 1676.4,342.2 1676.8,331.0 1677.2,329.6 1677.6,336.0 1678.0,342.3 1678.4,338.3 1678.8,334.9 1679.2,334.9 1679.6,350.5 1680.0,319.6 1680.5,325.7 1680.9,342.5 1681.3,338.6 1681.7,326.9 1682.1,344.7 1682.5,327.9 1682.9,335.6 1683.3,335.4 1683.7,337.7 1684.1,334.8 1684.5,342.1 1684.9,334.2 1685.3,331.3 1685.8,330.7 1686.2,323.2 1686.6,333.5 1687.0,348.5 1687.4,335.4 1687.8,346.7 1688.2,330.8 1688.6,338.8 1689.0,338.6 1689.4,316.8 1689.8,328.1 1690.2,326.6 1690.7,339.0 1691.1,325.2 1691.5,343.2 1691.9,336.4 1692.3,330.0 1692.7,327.3 1693.1,352.2 1693.5,341.8 1693.9,336.3 1694.3,348.6 1694.7,334.7 1695.1,341.3 1695.5,334.4 1696.0,341.6 1696.4,340.6 1696.8,345.5 1697.2,345.2 1697.6,337.5 1698.0,334.0 1698.4,338.2 1698.8,342.5 1699.2,341.6 1699.6,331.7 1700.0,338.6 1700.4,337.2 1700.9,347.6 1701.3,350.5 1701.7,331.3 1702.1,333.0 1702.5,346.3 1702.9,337.9 1703.3,339.7"/>
<polyline fill="none" stroke="#0000FF" stroke-width="2.3" shape-rendering="crispEdges" points="275.3,458.7 275.7,437.8 276.1,482.2 276.5,484.6 276.9,467.0 277.3,478.4 277.7,500.8 278.2,490.0 278.6,484.2 279.0,484.0 279.4,458.6 279.8,488.8 280.2,446.2 280.6,467.9 281.0,466.3 281.4,445.6 281.8,472.1 282.2,500.6 282.6,468.8 283.1,455.1 283.5,473.2 283.9,488.6 284.3,478.3 284.7,475.5 285.1,453.6 285.5,484.3 285.9,484.5 286.3,498.5 286.7,501.4 287.1,489.5 287.5,453.8 287.9,457.8 288.4,463.8 288.8,486.1 289.2,470.2 289.6,503.3 290.0,487.9 290.4,490.8 290.8,497.8 291.2,492.7 291.6,467.3 292.0,527.1 292.4,513.3 292.8,515.3 293.3,482.4 293.7,467.1 294.1,473.4 294.5,481.2 294.9,510.8 295.3,511.9 295.7,520.9 296.1,531.6 296.5,508.5 296.9,506.7 297.3,496.9 297.7,498.0 298.1,486.7 298.6,511.5 299.0,509.3 299.4,499.4 299.8,494.1 300.2,512.8 300.6,525.3 301.0,508.3 301.4,511.6 301.8,500.2 302.2,504.9 302.6,504.3 303.0,505.1 303.5,501.1 303.9,515.5 304.3,528.7 304.7,497.2 305.1,530.7 305.5,505.6 305.9,506.4 306.3,481.5 306.7,478.1 307.1,522.9 307.5,497.6 307.9,524.5 308.3,514.3 308.8,517.4 309.2,532.9 309.6,513.6 310.0,469.4 310.4,491.1 310.8,529.4 311.2,544.0 311.6,515.3 312.0,507.3 312.4,498.2 312.8,525.5 313.2,493.5 313.7,501.6 314.1,521.2 314.5,521.2 314.9,516.7 315.3,535.5 315.7,504.1 316.1,505.4 316.5,516.5 316.9,523.7 317.3,518.6 317.7,551.1 318.1,516.0 318.5,533.5 319.0,517.2 319.4,530.1 319.8,520.2 320.2,521.4 320.6,549.4 321.0,523.1 321.4,551.5 321.8,518.6 322.2,522.7 322.6,544.6 323.0,496.4 323.4,507.8 323.9,531.1 324.3,537.7 324.7,539.4 325.1,527.7 325.5,513.0 325.9,544.1 326.3,539.3 326.7,518.3 327.1,535.2 327.5,558.9 327.9,536.5 328.3,519.2 328.7,529.9 329.2,531.1 329.6,541.0 330.0,549.0 330.4,524.6 330.8,528.8 331.2,551.7 331.6,548.3 332.0,557.0 332.4,519.5 332.8,526.6 333.2,553.3 333.6,527.4 334.1,544.9 334.5,540.2 334.9,531.2 335.3,561.1 335.7,541.7 336.1,535.4 336.5,540.3 336.9,546.1 337.3,522.1 337.7,531.8 338.1,526.5 338.5,515.9 338.9,557.0 339.4,563.2 339.8,560.2 340.2,521.2 340.6,550.1 341.0,553.9 341.4,537.6 341.8,556.0 342.2,530.7 342.6,531.4 343.0,534.7 343.4,536.3 343.8,532.7 344.3,558.6 344.7,532.2 345.1,540.3 345.5,538.2 345.9,575.2 346.3,535.0 346.7,552.9 347.1,570.5 347.5,531.7 347.9,536.4 348.3,543.0 348.7,530.3 349.1,563.3 349.6,541.5 350.0,561.2 350.4,554.6 350.8,548.2 351.2,560.2 351.6,544.2 352.0,561.6 352.4,531.6 352.8,538.9 353.2,563.7 353.6,521.9 354.0,554.5 354.5,543.4 354.9,541.8 355.3,539.9 355.7,564.9 356.1,529.6 356.5,559.3 356.9,554.9 357.3,543.6 357.7,547.9 358.1,557.8 358.5,541.6 358.9,530.2 359.3,552.6 359.8,538.6 360.2,544.0 360.6,549.8 361.0,558.2 361.4,571.5 361.8,553.4 362.2,550.6 362.6,559.3 363.0,552.7 363.4,528.5 363.8,541.9 364.2,534.1 364.7,557.8 365.1,564.8 365.5,553.6 365.9,536.8 366.3,559.0 366.7,537.6 367.1,552.4 367.5,534.8 367.9,532.6 368.3,532.4 368.7,549.6 369.1,541.4 369.5,554.6 370.0,533.8 370.4,555.3 370.8,542.0 371.2,564.5 371.6,561.7 372.0,546.9 372.4,550.8 372.8,552.4 373.2,555.1 373.6,546.3 374.0,562.6 374.4,543.6 374.9,526.8 375.3,552.6 375.7,548.5 376.1,559.7 376.5,557.0 376.9,551.5 377.3,551.4 377.7,551.7 378.1,542.6 378.5,536.1 378.9,540.9 379.3,549.6 379.7,524.2 380.2,545.8 380.6,539.5 381.0,550.1 381.4,541.8 381.8,552.1 382.2,548.9 382.6,566.7 383.0,547.8 383.4,549.1 383.8,552.4 384.2,531.2 384.6,539.9 385.1,569.0 385.5,558.5 385.9,553.7 386.3,565.2 386.7,550.9 387.1,550.2 387.5,549.7 387.9,532.9 388.3,564.0 388.7,551.2 389.1,552.4 389.5,549.7 389.9,546.4 390.4,528.0 390.8,555.4 391.2,578.5 391.6,565.0 392.0,550.6 392.4,543.4 392.8,554.2 393.2,558.1 393.6,552.6 394.0,563.4 394.4,543.4 394.8,566.1 395.3,555.9 395.7,548.0 396.1,551.0 396.5,558.1 396.9,562.8 397.3,555.1 397.7,560.8 398.1,581.0 398.5,536.2 398.9,532.2 399.3,555.4 399.7,543.8 400.1,555.7 400.6,536.7 401.0,556.0 401.4,569.1 401.8,566.9 402.2,542.5 402.6,551.3 403.0,564.5 403.4,574.9 403.8,544.2 404.2,545.4 404.6,567.2 405.0,550.9 405.5,543.6 405.9,566.6 406.3,536.4 406.7,547.5 407.1,565.8 407.5,548.2 407.9,563.7 408.3,541.7 408.7,563.9 409.1,560.7 409.5,573.4 409.9,552.8 410.3,551.7 410.8,554.6 411.2,567.4 411.6,547.6 412.0,554.3 412.4,577.6 412.8,564.7 413.2,564.2 413.6,550.4 414.0,565.8 414.4,543.4 414.8,539.9 415.2,546.0 415.7,572.3 416.1,558.5 416.5,546.4 416.9,552.8 417.3,561.9 417.7,570.0 418.1,538.9 418.5,571.9 418.9,567.5 419.3,549.5 419.7,552.8 420.1,562.8 420.5,554.2 421.0,559.0 421.4,545.7 421.8,537.3 422.2,584.6 422.6,559.5 423.0,560.2 423.4,563.4 423.8,572.6 424.2,568.2 424.6,546.4 425.0,556.7 425.4,558.7 425.9,566.5 426.3,551.3 426.7,562.3 427.1,560.6 427.5,573.5 427.9,529.2 428.3,559.1 428.7,562.0 429.1,565.8 429.5,558.2 429.9,549.1 430.3,565.8 430.7,562.5 431.2,549.1 431.6,543.3 432.0,564.7 432.4,548.9 432.8,565.8 433.2,575.5 433.6,560.9 434.0,561.2 434.4,560.1 434.8,574.1 435.2,574.4 435.6,559.7 436.1,567.1 436.5,559.3 436.9,553.3 437.3,567.4 437.7,557.9 438.1,549.5 438.5,542.3 438.9,570.1 439.3,548.3 439.7,546.7 440.1,556.1 440.5,567.4 440.9,539.9 441.4,566.3 441.8,563.6 442.2,545.7 442.6,546.6 443.0,557.4 443.4,580.9 443.8,556.6 444.2,571.5 444.6,570.0 445.0,541.8 445.4,559.5 445.8,570.6 446.3,554.0 446.7,573.3 447.1,547.6 447.5,543.3 447.9,554.8 448.3,567.1 448.7,555.5 449.1,570.1 449.5,542.6 449.9,553.4 450.3,575.2 450.7,532.5 451.1,563.4 451.6,550.0 452.0,551.7 452.4,556.3 452.8,543.6 453.2,570.4 453.6,566.6 454.0,573.7 454.4,561.9 454.8,549.5 455.2,567.3 455.6,545.1 456.0,549.8 456.5,583.5 456.9,572.1 457.3,565.0 457.7,576.6 458.1,556.7 458.5,566.5 458.9,550.8 459.3,556.2 459.7,560.9 460.1,576.6 460.5,552.0 460.9,571.7 461.3,559.7 461.8,540.0 462.2,538.0 462.6,551.8 463.0,571.7 463.4,562.5 463.8,580.0 464.2,561.5 464.6,575.4 465.0,562.2 465.4,549.1 465.8,567.3 466.2,550.8 466.7,543.3 467.1,550.7 467.5,554.7 467.9,561.8 468.3,568.6 468.7,565.8 469.1,582.4 469.5,536.8 469.9,556.8 470.3,587.9 470.7,555.2 471.1,544.5 471.5,550.1 472.0,547.6 472.4,553.0 472.8,578.0 473.2,542.7 473.6,550.6 474.0,574.4 474.4,561.7 474.8,562.0 475.2,554.0 475.6,568.8 476.0,546.6 476.4,568.9 476.9,559.4 477.3,555.9 477.7,551.9 478.1,568.6 478.5,561.6 478.9,553.3 479.3,559.0 479.7,545.8 480.1,572.1 480.5,573.2 480.9,570.3 481.3,560.7 481.7,563.2 482.2,542.0 482.6,553.1 483.0,554.5 483.4,555.7 483.8,564.2 484.2,552.1 484.6,548.6 485.0,570.5 485.4,553.3 485.8,549.5 486.2,533.9 486.6,541.2 487.1,553.9 487.5,559.5 487.9,536.2 488.3,556.0 488.7,559.9 489.1,550.3 489.5,556.6 489.9,571.8 490.3,547.3 490.7,536.5 491.1,551.3 491.5,545.5 491.9,554.8 492.4,563.2 492.8,565.2 493.2,558.7 493.6,570.8 494.0,559.0 494.4,566.4 494.8,558.6 495.2,557.7 495.6,548.7 496.0,554.4 496.4,547.7 496.8,550.8 497.3,554.8 497.7,567.0 498.1,550.9 498.5,560.7 498.9,539.6 499.3,550.2 499.7,567.8 500.1,557.1 500.5,532.6 500.9,552.7 501.3,550.1 501.7,539.3 502.1,532.8 502.6,541.8 503.0,540.3 503.4,560.4 503.8,558.7 504.2,559.3 504.6,564.2 505.0,527.2 505.4,548.6 505.8,555.5 506.2,543.9 506.6,544.3 507.0,542.2 507.5,553.1 507.9,550.4 508.3,564.9 508.7,555.3 509.1,553.1 509.5,550.3 509.9,541.6 510.3,551.7 510.7,559.6 511.1,555.4 511.5,537.9 511.9,532.7 512.3,557.7 512.8,551.8 513.2,552.8 513.6,539.7 514.0,557.7 514.4,557.4 514.8,546.1 515.2,555.4 515.6,538.4 516.0,547.7 516.4,525.8 516.8,545.1 517.2,576.2 517.7,556.1 518.1,567.6 518.5,554.5 518.9,550.6 519.3,550.3 519.7,543.1 520.1,555.8 520.5,539.0 520.9,547.8 521.3,584.2 521.7,552.7 522.1,541.4 522.5,558.8 523.0,551.5 523.4,543.4 523.8,533.5 524.2,544.2 524.6,540.9 525.0,546.3 525.4,549.9 525.8,548.7 526.2,534.5 526.6,550.9 527.0,549.5 527.4,527.9 527.9,548.1 528.3,543.2 528.7,548.3 529.1,531.3 529.5,539.8 529.9,540.6 530.3,529.0 530.7,548.7 531.1,539.2 531.5,546.9 531.9,530.8 532.3,526.1 532.7,528.6 533.2,516.7 533.6,532.6 534.0,545.8 534.4,557.7 534.8,554.4 535.2,555.9 535.6,555.6 536.0,565.2 536.4,542.6 536.8,551.1 537.2,547.5 537.6,510.0 538.1,541.5 538.5,540.1 538.9,543.6 539.3,533.0 539.7,530.2 540.1,532.5 540.5,546.7 540.9,543.4 541.3,555.0 541.7,522.8 542.1,550.3 542.5,559.1 542.9,526.1 543.4,537.4 543.8,517.6 544.2,503.3 544.6,519.5 545.0,535.5 545.4,537.3 545.8,529.9 546.2,541.7 546.6,538.1 547.0,555.9 547.4,516.8 547.8,522.8 548.3,525.9 548.7,524.9 549.1,526.7 549.5,560.1 549.9,527.6 550.3,539.3 550.7,514.5 551.1,522.8 551.5,541.0 551.9,542.4 552.3,511.3 552.7,555.1 553.1,535.0 553.6,520.6 554.0,535.1 554.4,521.7 554.8,511.8 555.2,531.1 555.6,538.6 556.0,541.3 556.4,508.4 556.8,516.7 557.2,525.5 557.6,540.3 558.0,543.1 558.5,522.5 558.9,512.6 559.3,533.7 559.7,521.0 560.1,531.7 560.5,539.0 560.9,533.6 561.3,513.9 561.7,511.1 562.1,507.6 562.5,534.5 562.9,539.0 563.3,512.7 563.8,518.5 564.2,513.4 564.6,522.8 565.0,514.0 565.4,513.8 565.8,539.0 566.2,534.8 566.6,523.9 567.0,537.1 567.4,515.9 567.8,528.6 568.2,511.5 568.7,513.5 569.1,534.1 569.5,507.7 569.9,517.0 570.3,507.6 570.7,506.5 571.1,521.4 571.5,521.8 571.9,502.6 572.3,546.7 572.7,538.8 573.1,509.2 573.5,524.9 574.0,521.7 574.4,512.0 574.8,503.8 575.2,519.4 575.6,516.9 576.0,533.3 576.4,520.6 576.8,506.3 577.2,510.1 577.6,517.9 578.0,529.7 578.4,503.7 578.9,520.7 579.3,533.2 579.7,499.9 580.1,534.3 580.5,510.4 580.9,516.2 581.3,510.3 581.7,521.0 582.1,522.4 582.5,522.6 582.9,549.8 583.3,486.0 583.7,509.6 584.2,499.7 584.6,512.9 585.0,506.7 585.4,512.0 585.8,514.6 586.2,507.7 586.6,525.8 587.0,496.8 587.4,508.0 587.8,514.6 588.2,530.6 588.6,497.9 589.1,499.0 589.5,520.1 589.9,514.6 590.3,496.3 590.7,527.3 591.1,516.4 591.5,509.2 591.9,509.1 592.3,514.2 592.7,508.5 593.1,516.7 593.5,516.7 593.9,499.5 594.4,493.8 594.8,531.4 595.2,506.0 595.6,532.8 596.0,514.0 596.4,480.2 596.8,515.3 597.2,501.5 597.6,485.1 598.0,511.6 598.4,498.3 598.8,508.9 599.3,525.0 599.7,520.6 600.1,511.8 600.5,512.0 600.9,512.0 601.3,502.9 601.7,498.7 602.1,505.1 602.5,512.1 602.9,500.7 603.3,507.2 603.7,510.2 604.1,498.8 604.6,522.2 605.0,524.9 605.4,511.8 605.8,498.3 606.2,486.3 606.6,479.5 607.0,523.1 607.4,511.6 607.8,502.0 608.2,491.3 608.6,506.8 609.0,519.9 609.5,512.4 609.9,496.3 610.3,544.4 610.7,514.8 611.1,493.4 611.5,512.9 611.9,513.1 612.3,516.9 612.7,512.5 613.1,493.4 613.5,512.6 613.9,498.4 614.3,509.5 614.8,507.3 615.2,515.8 615.6,510.5 616.0,503.8 616.4,539.1 616.8,503.6 617.2,503.2 617.6,512.9 618.0,513.2 618.4,519.1 618.8,490.0 619.2,500.5 619.7,520.3 620.1,510.3 620.5,510.4 620.9,489.9 621.3,489.7 621.7,496.8 622.1,509.3 622.5,515.8 622.9,517.1 623.3,483.8 623.7,505.4 624.1,507.1 624.5,501.2 625.0,501.3 625.4,493.2 625.8,501.6 626.2,477.6 626.6,521.0 627.0,508.0 627.4,523.2 627.8,495.8 628.2,484.9 628.6,526.9 629.0,479.4 629.4,490.6 629.9,514.3 630.3,522.1 630.7,496.9 631.1,502.6 631.5,501.9 631.9,511.4 632.3,494.3 632.7,512.1 633.1,515.5 633.5,503.6 633.9,506.0 634.3,532.3 634.7,508.5 635.2,499.8 635.6,517.7 636.0,519.2 636.4,496.3 636.8,493.0 637.2,521.9 637.6,519.2 638.0,520.3 638.4,524.3 638.8,491.0 639.2,485.2 639.6,516.6 640.1,515.9 640.5,506.6 640.9,513.3 641.3,495.6 641.7,492.5 642.1,503.3 642.5,509.6 642.9,511.9 643.3,503.2 643.7,511.7 644.1,518.9 644.5,510.3 644.9,498.8 645.4,524.7 645.8,490.9 646.2,507.2 646.6,527.4 647.0,534.1 647.4,524.3 647.8,500.2 648.2,484.6 648.6,500.0 649.0,505.3 649.4,507.5 649.8,494.4 650.3,500.4 650.7,509.4 651.1,507.8 651.5,522.6 651.9,514.4 652.3,514.8 652.7,501.8 653.1,509.3 653.5,485.8 653.9,504.0 654.3,490.4 654.7,511.1 655.1,516.1 655.6,511.4 656.0,527.9 656.4,502.5 656.8,509.5 657.2,504.4 657.6,507.4 658.0,526.8 658.4,495.5 658.8,531.1 659.2,527.9 659.6,519.2 660.0,508.4 660.5,515.5 660.9,508.3 661.3,530.2 661.7,500.2 662.1,502.1 662.5,514.1 662.9,484.8 663.3,531.0 663.7,510.4 664.1,523.1 664.5,516.5 664.9,494.2 665.3,515.3 665.8,519.8 666.2,501.4 666.6,503.6 667.0,503.2 667.4,524.6 667.8,501.3 668.2,505.4 668.6,515.1 669.0,517.6 669.4,509.4 669.8,534.5 670.2,535.2 670.7,502.3 671.1,537.7 671.5,522.5 671.9,524.9 672.3,526.5 672.7,501.8 673.1,503.2 673.5,523.5 673.9,509.8 674.3,550.0 674.7,513.3 675.1,529.5 675.5,507.7 676.0,543.7 676.4,540.7 676.8,502.3 677.2,523.7 677.6,520.9 678.0,537.7 678.4,492.7 678.8,516.6 679.2,530.6 679.6,516.5 680.0,513.1 680.4,503.8 680.9,524.8 681.3,518.4 681.7,504.3 682.1,522.7 682.5,513.2 682.9,524.8 683.3,530.2 683.7,534.6 684.1,526.5 684.5,511.1 684.9,520.5 685.3,518.9 685.7,535.1 686.2,515.6 686.6,541.3 687.0,523.8 687.4,532.1 687.8,519.6 688.2,539.0 688.6,518.6 689.0,544.2 689.4,530.7 689.8,535.1 690.2,532.9 690.6,517.6 691.1,542.9 691.5,509.8 691.9,528.6 692.3,536.7 692.7,539.7 693.1,521.1 693.5,523.0 693.9,526.2 694.3,517.5 694.7,526.4 695.1,519.3 695.5,535.1 695.9,527.7 696.4,520.9 696.8,522.0 697.2,532.2 697.6,521.6 698.0,515.5 698.4,519.0 698.8,534.2 699.2,511.7 699.6,533.1 700.0,541.6 700.4,525.6 700.8,529.4 701.3,516.5 701.7,522.4 702.1,527.2 702.5,537.6 702.9,529.8 703.3,521.8 703.7,528.6 704.1,521.4 704.5,554.5 704.9,528.5 705.3,552.8 705.7,518.4 706.1,525.5 706.6,552.6 707.0,533.8 707.4,561.0 707.8,546.6 708.2,553.2 708.6,520.8 709.0,540.4 709.4,534.8 709.8,556.6 710.2,534.1 710.6,539.4 711.0,530.4 711.5,521.2 711.9,546.3 712.3,535.7 712.7,543.6 713.1,529.1 713.5,539.3 713.9,530.7 714.3,534.5 714.7,542.2 715.1,534.6 715.5,546.7 715.9,528.1 716.3,536.4 716.8,555.5 717.2,533.2 717.6,521.8 718.0,555.2 718.4,540.1 718.8,530.5 719.2,529.2 719.6,548.2 720.0,529.6 720.4,523.6 720.8,549.2 721.2,545.0 721.7,549.2 722.1,536.8 722.5,547.2 722.9,532.4 723.3,539.2 723.7,545.3 724.1,546.2 724.5,555.9 724.9,552.7 725.3,534.5 725.7,538.5 726.1,552.7 726.5,559.1 727.0,551.0 727.4,541.4 727.8,548.6 728.2,558.7 728.6,561.0 729.0,540.3 729.4,536.1 729.8,547.1 730.2,540.1 730.6,546.7 731.0,537.3 731.4,550.2 731.9,552.3 732.3,562.6 732.7,560.4 733.1,549.3 733.5,537.5 733.9,556.1 734.3,540.1 734.7,531.8 735.1,543.7 735.5,532.6 735.9,566.5 736.3,558.1 736.7,560.8 737.2,541.7 737.6,544.9 738.0,548.3 738.4,541.8 738.8,546.4 739.2,550.6 739.6,538.7 740.0,545.6 740.4,559.6 740.8,548.0 741.2,527.7 741.6,536.6 742.1,539.1 742.5,541.6 742.9,548.5 743.3,537.0 743.7,562.9 744.1,544.3 744.5,551.7 744.9,537.4 745.3,524.9 745.7,551.6 746.1,555.0 746.5,557.1 746.9,545.6 747.4,548.7 747.8,538.0 748.2,530.0 748.6,547.5 749.0,552.0 749.4,551.6 749.8,555.7 750.2,557.0 750.6,555.1 751.0,554.7 751.4,549.5 751.8,540.9 752.3,526.2 752.7,549.0 753.1,561.2 753.5,552.0 753.9,567.3 754.3,554.5 754.7,526.7 755.1,559.0 755.5,538.7 755.9,547.4 756.3,544.2 756.7,548.1 757.1,565.4 757.6,561.0 758.0,534.6 758.4,553.2 758.8,541.6 759.2,562.1 759.6,565.5 760.0,545.3 760.4,559.7 760.8,560.9 761.2,557.8 761.6,561.7 762.0,549.1 762.5,554.1 762.9,550.1 763.3,551.3 763.7,550.4 764.1,528.8 764.5,548.4 764.9,561.0 765.3,536.6 765.7,544.6 766.1,519.0 766.5,552.5 766.9,549.7 767.3,557.6 767.8,563.9 768.2,539.8 768.6,541.1 769.0,553.6 769.4,543.0 769.8,554.4 770.2,530.8 770.6,544.7 771.0,536.4 771.4,531.6 771.8,548.4 772.2,535.6 772.7,540.6 773.1,541.3 773.5,517.3 773.9,552.8 774.3,549.0 774.7,547.6 775.1,542.2 775.5,559.6 775.9,548.7 776.3,534.7 776.7,549.4 777.1,557.1 777.5,544.3 778.0,544.8 778.4,550.0 778.8,553.0 779.2,549.9 779.6,541.9 780.0,552.0 780.4,543.1 780.8,542.6 781.2,557.4 781.6,542.0 782.0,536.9 782.4,550.6 782.9,535.9 783.3,556.6 783.7,546.1 784.1,555.4 784.5,545.3 784.9,535.0 785.3,516.9 785.7,536.0 786.1,556.6 786.5,540.4 786.9,554.1 787.3,556.2 787.7,528.8 788.2,541.3 788.6,544.2 789.0,560.0 789.4,561.5 789.8,538.6 790.2,552.5 790.6,549.4 791.0,535.2 791.4,557.2 791.8,563.3 792.2,536.0 792.6,553.1 793.1,539.8 793.5,557.4 793.9,557.8 794.3,543.5 794.7,545.3 795.1,563.1 795.5,545.3 795.9,557.9 796.3,530.1 796.7,532.8 797.1,557.9 797.5,549.8 797.9,544.4 798.4,536.5 798.8,549.4 799.2,534.1 799.6,545.6 800.0,553.7 800.4,544.3 800.8,531.5 801.2,530.5 801.6,542.4 802.0,524.8 802.4,554.5 802.8,539.8 803.3,540.5 803.7,543.1 804.1,539.0 804.5,559.7 804.9,540.1 805.3,534.6 805.7,557.0 806.1,539.6 806.5,561.1 806.9,553.6 807.3,542.3 807.7,547.5 808.1,536.5 808.6,535.5 809.0,557.4 809.4,543.0 809.8,544.8 810.2,541.8 810.6,547.7 811.0,543.7 811.4,547.1 811.8,547.1 812.2,559.6 812.6,542.0 813.0,545.7 813.5,548.0 813.9,537.7 814.3,551.5 814.7,545.6 815.1,541.1 815.5,539.1 815.9,545.7 816.3,548.6 816.7,550.4 817.1,553.3 817.5,543.3 817.9,559.1 818.3,547.4 818.8,556.7 819.2,543.1 819.6,556.8 820.0,546.6 820.4,539.0 820.8,541.8 821.2,547.7 821.6,529.7 822.0,547.2 822.4,526.1 822.8,546.3 823.2,536.4 823.7,532.4 824.1,538.3 824.5,555.5 824.9,559.2 825.3,539.5 825.7,556.2 826.1,545.3 826.5,558.5 826.9,542.9 827.3,548.6 827.7,532.0 828.1,553.2 828.5,549.4 829.0,552.3 829.4,556.2 829.8,538.0 830.2,545.2 830.6,523.4 831.0,532.4 831.4,529.2 831.8,548.4 832.2,546.2 832.6,544.6 833.0,542.5 833.4,560.1 833.9,549.2 834.3,536.1 834.7,557.3 835.1,557.3 835.5,549.3 835.9,520.1 836.3,532.5 836.7,545.4 837.1,537.8 837.5,525.5 837.9,541.6 838.3,532.9 838.7,541.5 839.2,540.2 839.6,549.5 840.0,524.1 840.4,538.7 840.8,513.7 841.2,525.9 841.6,511.7 842.0,500.3 842.4,485.2 842.8,463.0 843.2,460.3 843.6,448.1 844.1,443.1 844.5,423.5 844.9,417.4 845.3,396.4 845.7,389.8 846.1,416.4 846.5,449.6 846.9,433.8 847.3,439.6 847.7,436.9 848.1,486.6 848.5,485.3 848.9,502.7 849.4,523.7 849.8,537.4 850.2,557.3 850.6,557.3 851.0,557.0 851.4,553.7 851.8,545.2 852.2,555.7 852.6,568.2 853.0,539.3 853.4,560.1 853.8,575.5 854.3,570.2 854.7,559.6 855.1,559.4 855.5,568.7 855.9,560.9 856.3,568.6 856.7,579.6 857.1,561.6 857.5,559.0 857.9,574.5 858.3,568.2 858.7,557.9 859.1,547.2 859.6,582.0 860.0,583.6 860.4,565.3 860.8,571.5 861.2,569.2 861.6,571.9 862.0,583.3 862.4,572.5 862.8,567.5 863.2,571.8 863.6,570.6 864.0,575.9 864.5,567.2 864.9,563.8 865.3,587.1 865.7,576.9 866.1,578.1 866.5,590.5 866.9,570.9 867.3,569.0 867.7,574.3 868.1,561.9 868.5,562.5 868.9,561.6 869.3,576.6 869.8,556.9 870.2,571.6 870.6,570.0 871.0,584.7 871.4,567.8 871.8,579.6 872.2,578.7 872.6,577.9 873.0,584.5 873.4,555.1 873.8,575.0 874.2,567.9 874.7,567.8 875.1,582.8 875.5,565.8 875.9,564.7 876.3,581.6 876.7,552.8 877.1,582.4 877.5,560.8 877.9,586.9 878.3,563.2 878.7,575.1 879.1,572.6 879.5,570.7 880.0,574.4 880.4,569.4 880.8,579.3 881.2,574.9 881.6,553.3 882.0,545.0 882.4,589.2 882.8,548.0 883.2,568.9 883.6,562.7 884.0,562.2 884.4,559.7 884.9,586.4 885.3,576.1 885.7,557.5 886.1,573.3 886.5,568.9 886.9,584.7 887.3,567.7 887.7,551.5 888.1,582.0 888.5,582.8 888.9,583.4 889.3,573.3 889.7,549.2 890.2,556.1 890.6,562.8 891.0,566.8 891.4,561.3 891.8,569.9 892.2,554.5 892.6,559.2 893.0,556.8 893.4,561.9 893.8,549.1 894.2,581.1 894.6,553.5 895.1,556.4 895.5,566.1 895.9,554.3 896.3,569.7 896.7,569.0 897.1,569.3 897.5,552.6 897.9,551.0 898.3,554.5 898.7,552.7 899.1,556.1 899.5,557.6 899.9,554.1 900.4,549.1 900.8,563.1 901.2,563.0 901.6,558.5 902.0,555.2 902.4,553.0 902.8,563.0 903.2,541.8 903.6,534.6 904.0,543.5 904.4,544.1 904.8,540.7 905.3,540.6 905.7,540.3 906.1,545.0 906.5,535.3 906.9,532.2 907.3,540.8 907.7,546.4 908.1,540.3 908.5,530.5 908.9,542.5 909.3,538.2 909.7,548.4 910.1,540.6 910.6,545.5 911.0,555.3 911.4,549.2 911.8,548.3 912.2,547.8 912.6,544.1 913.0,557.8 913.4,541.3 913.8,549.4 914.2,547.3 914.6,562.0 915.0,579.3 915.5,548.9 915.9,567.4 916.3,562.0 916.7,581.7 917.1,542.4 917.5,557.6 917.9,571.6 918.3,567.5 918.7,572.0 919.1,552.9 919.5,566.9 919.9,564.4 920.3,589.5 920.8,574.6 921.2,575.4 921.6,569.8 922.0,585.6 922.4,574.0 922.8,576.5 923.2,565.0 923.6,582.3 924.0,582.0 924.4,564.4 924.8,567.0 925.2,577.3 925.7,572.5 926.1,566.2 926.5,575.7 926.9,580.5 927.3,574.4 927.7,570.6 928.1,578.1 928.5,572.9 928.9,572.2 929.3,578.7 929.7,587.3 930.1,586.9 930.5,577.2 931.0,573.0 931.4,576.0 931.8,578.2 932.2,581.7 932.6,574.1 933.0,575.6 933.4,578.8 933.8,567.3 934.2,575.7 934.6,578.5 935.0,582.9 935.4,578.6 935.9,571.1 936.3,565.5 936.7,569.0 937.1,564.0 937.5,566.0 937.9,569.3 938.3,571.0 938.7,580.6 939.1,573.8 939.5,574.4 939.9,577.4 940.3,569.1 940.7,565.0 941.2,570.5 941.6,567.2 942.0,589.5 942.4,589.5 942.8,576.1 943.2,580.1 943.6,590.0 944.0,589.7 944.4,586.5 944.8,584.0 945.2,587.5 945.6,567.9 946.1,559.2 946.5,569.4 946.9,579.7 947.3,566.9 947.7,569.7 948.1,571.9 948.5,569.4 948.9,558.2 949.3,563.2 949.7,570.4 950.1,564.8 950.5,556.4 950.9,552.1 951.4,564.7 951.8,565.0 952.2,539.7 952.6,542.9 953.0,544.5 953.4,555.9 953.8,552.4 954.2,552.2 954.6,572.8 955.0,565.6 955.4,557.3 955.8,568.0 956.3,569.7 956.7,586.4 957.1,559.2 957.5,577.1 957.9,580.7 958.3,590.7 958.7,581.3 959.1,588.6 959.5,589.3 959.9,568.3 960.3,578.3 960.7,578.0 961.1,584.4 961.6,572.6 962.0,587.1 962.4,581.1 962.8,585.8 963.2,564.8 963.6,586.9 964.0,586.6 964.4,572.3 964.8,582.3 965.2,588.9 965.6,602.0 966.0,579.0 966.5,584.9 966.9,577.4 967.3,589.1 967.7,572.7 968.1,579.2 968.5,585.5 968.9,584.5 969.3,581.3 969.7,581.2 970.1,578.7 970.5,592.1 970.9,584.5 971.3,572.9 971.8,588.5 972.2,589.0 972.6,595.7 973.0,599.6 973.4,585.1 973.8,596.8 974.2,587.6 974.6,590.4 975.0,581.4 975.4,585.1 975.8,582.4 976.2,568.2 976.7,582.8 977.1,572.3 977.5,587.7 977.9,564.6 978.3,586.5 978.7,570.7 979.1,577.6 979.5,582.9 979.9,588.3 980.3,576.4 980.7,584.2 981.1,593.7 981.5,584.2 982.0,589.5 982.4,584.7 982.8,595.0 983.2,592.0 983.6,595.6 984.0,584.5 984.4,583.4 984.8,560.5 985.2,575.5 985.6,576.1 986.0,592.8 986.4,581.2 986.9,576.2 987.3,582.7 987.7,578.8 988.1,575.5 988.5,574.3 988.9,593.0 989.3,597.5 989.7,583.9 990.1,587.4 990.5,592.2 990.9,581.2 991.3,587.5 991.7,574.1 992.2,568.0 992.6,578.1 993.0,594.0 993.4,583.7 993.8,573.9 994.2,588.3 994.6,595.0 995.0,577.1 995.4,589.9 995.8,603.2 996.2,582.0 996.6,586.1 997.1,578.9 997.5,572.9 997.9,573.5 998.3,593.1 998.7,589.2 999.1,583.4 999.5,601.9 999.9,582.3 1000.3,586.5 1000.7,591.9 1001.1,580.0 1001.5,576.9 1001.9,581.0 1002.4,576.2 1002.8,586.5 1003.2,587.3 1003.6,580.3 1004.0,567.5 1004.4,580.4 1004.8,574.0 1005.2,581.3 1005.6,587.7 1006.0,597.8 1006.4,596.6 1006.8,573.9 1007.3,586.5 1007.7,580.5 1008.1,587.0 1008.5,600.3 1008.9,591.2 1009.3,589.1 1009.7,581.9 1010.1,580.0 1010.5,583.2 1010.9,590.9 1011.3,599.1 1011.7,590.9 1012.1,584.5 1012.6,585.4 1013.0,592.3 1013.4,600.4 1013.8,603.1 1014.2,578.1 1014.6,574.0 1015.0,593.8 1015.4,593.2 1015.8,595.0 1016.2,600.4 1016.6,584.4 1017.0,593.0 1017.5,577.0 1017.9,596.6 1018.3,584.9 1018.7,584.6 1019.1,576.3 1019.5,597.5 1019.9,593.7 1020.3,591.1 1020.7,574.2 1021.1,579.1 1021.5,594.5 1021.9,584.2 1022.3,586.9 1022.8,588.2 1023.2,581.7 1023.6,594.4 1024.0,568.3 1024.4,598.8 1024.8,598.3 1025.2,589.0 1025.6,591.5 1026.0,583.9 1026.4,600.4 1026.8,579.9 1027.2,576.8 1027.7,588.4 1028.1,580.4 1028.5,582.0 1028.9,598.5 1029.3,567.6 1029.7,590.4 1030.1,575.5 1030.5,585.9 1030.9,588.4 1031.3,587.0 1031.7,571.2 1032.1,584.7 1032.5,589.1 1033.0,600.6 1033.4,586.8 1033.8,573.9 1034.2,577.2 1034.6,576.1 1035.0,594.7 1035.4,590.7 1035.8,570.0 1036.2,579.1 1036.6,595.1 1037.0,576.2 1037.4,588.2 1037.9,580.8 1038.3,585.5 1038.7,579.5 1039.1,571.8 1039.5,575.2 1039.9,587.0 1040.3,595.2 1040.7,581.7 1041.1,586.9 1041.5,587.7 1041.9,574.0 1042.3,574.7 1042.7,588.6 1043.2,586.9 1043.6,576.3 1044.0,567.3 1044.4,577.3 1044.8,577.6 1045.2,586.2 1045.6,579.1 1046.0,581.6 1046.4,590.0 1046.8,586.5 1047.2,578.5 1047.6,591.4 1048.1,586.4 1048.5,596.6 1048.9,577.0 1049.3,583.7 1049.7,578.9 1050.1,572.7 1050.5,573.7 1050.9,583.6 1051.3,587.4 1051.7,578.4 1052.1,580.8 1052.5,592.9 1052.9,581.2 1053.4,578.6 1053.8,589.8 1054.2,578.1 1054.6,587.0 1055.0,578.5 1055.4,582.6 1055.8,580.0 1056.2,577.8 1056.6,583.3 1057.0,597.2 1057.4,588.0 1057.8,582.1 1058.3,593.1 1058.7,567.1 1059.1,583.5 1059.5,576.1 1059.9,572.5 1060.3,577.7 1060.7,581.0 1061.1,573.4 1061.5,583.3 1061.9,568.9 1062.3,586.6 1062.7,586.6 1063.1,599.1 1063.6,587.7 1064.0,579.1 1064.4,577.7 1064.8,585.8 1065.2,585.8 1065.6,570.7 1066.0,568.0 1066.4,588.3 1066.8,585.5 1067.2,572.6 1067.6,593.6 1068.0,584.3 1068.5,579.2 1068.9,580.3 1069.3,586.6 1069.7,581.0 1070.1,580.6 1070.5,589.4 1070.9,573.9 1071.3,584.5 1071.7,584.6 1072.1,591.9 1072.5,585.7 1072.9,589.5 1073.3,590.5 1073.8,592.6 1074.2,576.5 1074.6,580.7 1075.0,581.6 1075.4,598.9 1075.8,592.0 1076.2,587.1 1076.6,587.8 1077.0,583.5 1077.4,594.1 1077.8,581.8 1078.2,589.3 1078.7,586.1 1079.1,576.0 1079.5,592.8 1079.9,588.2 1080.3,583.6 1080.7,575.4 1081.1,589.1 1081.5,578.0 1081.9,573.4 1082.3,592.9 1082.7,582.6 1083.1,585.5 1083.5,589.1 1084.0,594.4 1084.4,574.2 1084.8,569.0 1085.2,591.8 1085.6,579.9 1086.0,584.7 1086.4,589.5 1086.8,595.2 1087.2,576.8 1087.6,578.8 1088.0,565.9 1088.4,585.2 1088.9,582.6 1089.3,583.2 1089.7,597.4 1090.1,573.6 1090.5,569.6 1090.9,574.4 1091.3,588.0 1091.7,569.9 1092.1,573.6 1092.5,586.1 1092.9,573.0 1093.3,576.3 1093.7,573.0 1094.2,586.9 1094.6,575.9 1095.0,588.2 1095.4,577.0 1095.8,584.0 1096.2,575.0 1096.6,588.3 1097.0,561.3 1097.4,599.5 1097.8,584.8 1098.2,571.8 1098.6,575.4 1099.1,581.1 1099.5,582.9 1099.9,576.1 1100.3,591.9 1100.7,581.0 1101.1,576.1 1101.5,582.5 1101.9,590.0 1102.3,570.5 1102.7,575.5 1103.1,591.8 1103.5,585.5 1103.9,583.2 1104.4,598.7 1104.8,596.1 1105.2,572.6 1105.6,570.9 1106.0,586.4 1106.4,590.7 1106.8,580.9 1107.2,586.7 1107.6,577.3 1108.0,589.7 1108.4,572.8 1108.8,585.2 1109.3,588.4 1109.7,581.5 1110.1,583.4 1110.5,583.7 1110.9,590.9 1111.3,577.3 1111.7,593.4 1112.1,570.4 1112.5,593.9 1112.9,586.4 1113.3,590.8 1113.7,593.5 1114.1,587.4 1114.6,594.8 1115.0,589.3 1115.4,584.5 1115.8,592.5 1116.2,595.4 1116.6,569.8 1117.0,586.0 1117.4,567.1 1117.8,585.1 1118.2,584.8 1118.6,584.1 1119.0,594.4 1119.5,594.0 1119.9,591.6 1120.3,562.5 1120.7,596.9 1121.1,579.8 1121.5,562.5 1121.9,586.4 1122.3,583.3 1122.7,582.1 1123.1,597.4 1123.5,583.1 1123.9,577.7 1124.3,593.2 1124.8,577.2 1125.2,593.9 1125.6,577.5 1126.0,591.4 1126.4,601.6 1126.8,593.9 1127.2,580.2 1127.6,572.5 1128.0,582.3 1128.4,573.0 1128.8,597.9 1129.2,594.6 1129.7,568.0 1130.1,582.7 1130.5,590.5 1130.9,594.2 1131.3,576.8 1131.7,586.9 1132.1,577.1 1132.5,583.6 1132.9,593.1 1133.3,570.1 1133.7,586.7 1134.1,593.5 1134.5,572.9 1135.0,579.7 1135.4,599.3 1135.8,586.9 1136.2,594.6 1136.6,592.1 1137.0,598.0 1137.4,595.0 1137.8,587.5 1138.2,581.7 1138.6,593.1 1139.0,579.3 1139.4,581.9 1139.9,583.5 1140.3,584.6 1140.7,577.7 1141.1,586.4 1141.5,593.7 1141.9,573.4 1142.3,570.0 1142.7,582.0 1143.1,587.6 1143.5,590.5 1143.9,589.5 1144.3,586.3 1144.7,603.6 1145.2,592.8 1145.6,588.0 1146.0,592.4 1146.4,589.7 1146.8,585.7 1147.2,589.6 1147.6,584.0 1148.0,583.7 1148.4,597.7 1148.8,573.2 1149.2,582.4 1149.6,581.4 1150.1,591.9 1150.5,577.9 1150.9,588.7 1151.3,589.6 1151.7,592.3 1152.1,593.8 1152.5,587.3 1152.9,581.9 1153.3,586.7 1153.7,573.9 1154.1,595.1 1154.5,579.0 1154.9,584.4 1155.4,583.1 1155.8,602.2 1156.2,581.8 1156.6,584.5 1157.0,596.9 1157.4,589.3 1157.8,581.0 1158.2,594.0 1158.6,584.2 1159.0,592.3 1159.4,596.4 1159.8,580.3 1160.3,577.3 1160.7,581.1 1161.1,590.5 1161.5,601.7 1161.9,590.5 1162.3,591.6 1162.7,582.4 1163.1,586.0 1163.5,588.0 1163.9,570.9 1164.3,582.3 1164.7,581.6 1165.1,585.9 1165.6,593.4 1166.0,586.6 1166.4,591.9 1166.8,589.5 1167.2,589.1 1167.6,581.2 1168.0,582.9 1168.4,584.4 1168.8,580.6 1169.2,585.8 1169.6,576.1 1170.0,589.1 1170.5,581.8 1170.9,570.6 1171.3,590.1 1171.7,591.2 1172.1,589.0 1172.5,572.9 1172.9,571.1 1173.3,575.5 1173.7,570.8 1174.1,581.3 1174.5,568.8 1174.9,570.2 1175.3,575.4 1175.8,570.0 1176.2,561.6 1176.6,571.1 1177.0,563.9 1177.4,569.6 1177.8,568.2 1178.2,567.1 1178.6,557.9 1179.0,560.4 1179.4,567.7 1179.8,555.2 1180.2,577.9 1180.7,568.1 1181.1,569.3 1181.5,560.6 1181.9,566.2 1182.3,566.5 1182.7,558.5 1183.1,563.9 1183.5,583.6 1183.9,566.4 1184.3,576.4 1184.7,583.6 1185.1,573.3 1185.5,579.8 1186.0,576.2 1186.4,575.2 1186.8,586.6 1187.2,576.3 1187.6,563.0 1188.0,570.6 1188.4,577.6 1188.8,585.1 1189.2,573.7 1189.6,589.3 1190.0,565.5 1190.4,574.6 1190.9,579.3 1191.3,576.4 1191.7,574.1 1192.1,585.3 1192.5,569.8 1192.9,574.3 1193.3,576.9 1193.7,566.2 1194.1,578.8 1194.5,580.6 1194.9,581.3 1195.3,587.7 1195.7,574.5 1196.2,585.7 1196.6,581.1 1197.0,575.1 1197.4,570.8 1197.8,587.1 1198.2,565.3 1198.6,584.9 1199.0,579.9 1199.4,587.4 1199.8,572.8 1200.2,566.4 1200.6,581.2 1201.1,583.3 1201.5,585.0 1201.9,579.6 1202.3,577.4 1202.7,577.1 1203.1,582.6 1203.5,570.0 1203.9,578.7 1204.3,581.2 1204.7,591.5 1205.1,576.6 1205.5,571.4 1205.9,591.9 1206.4,581.4 1206.8,586.4 1207.2,573.5 1207.6,567.1 1208.0,576.3 1208.4,582.6 1208.8,584.4 1209.2,586.1 1209.6,573.2 1210.0,579.4 1210.4,565.8 1210.8,570.0 1211.3,574.9 1211.7,577.7 1212.1,587.7 1212.5,583.1 1212.9,588.6 1213.3,564.9 1213.7,580.1 1214.1,569.3 1214.5,585.2 1214.9,575.4 1215.3,580.2 1215.7,584.2 1216.1,578.9 1216.6,570.2 1217.0,572.5 1217.4,570.1 1217.8,572.2 1218.2,574.1 1218.6,583.3 1219.0,562.2 1219.4,598.0 1219.8,577.4 1220.2,579.2 1220.6,573.7 1221.0,575.3 1221.5,575.9 1221.9,572.5 1222.3,587.7 1222.7,576.9 1223.1,578.9 1223.5,575.2 1223.9,601.9 1224.3,574.7 1224.7,583.3 1225.1,588.5 1225.5,571.1 1225.9,572.9 1226.3,571.1 1226.8,582.5 1227.2,583.6 1227.6,587.5 1228.0,572.8 1228.4,580.4 1228.8,576.3 1229.2,583.4 1229.6,558.7 1230.0,594.3 1230.4,574.7 1230.8,586.2 1231.2,572.6 1231.7,581.9 1232.1,575.5 1232.5,575.7 1232.9,591.4 1233.3,593.5 1233.7,571.8 1234.1,577.1 1234.5,568.8 1234.9,589.8 1235.3,586.5 1235.7,585.1 1236.1,570.6 1236.5,581.0 1237.0,576.6 1237.4,575.7 1237.8,579.7 1238.2,585.6 1238.6,588.5 1239.0,582.9 1239.4,588.8 1239.8,581.0 1240.2,578.8 1240.6,583.0 1241.0,580.6 1241.4,580.2 1241.9,590.7 1242.3,587.3 1242.7,580.8 1243.1,577.9 1243.5,583.8 1243.9,585.4 1244.3,577.6 1244.7,572.5 1245.1,564.5 1245.5,592.9 1245.9,579.8 1246.3,578.2 1246.7,586.3 1247.2,592.2 1247.6,571.6 1248.0,591.2 1248.4,588.8 1248.8,587.2 1249.2,576.2 1249.6,578.1 1250.0,582.9 1250.4,580.6 1250.8,578.8 1251.2,585.5 1251.6,582.9 1252.1,573.1 1252.5,566.7 1252.9,577.5 1253.3,577.8 1253.7,569.4 1254.1,570.7 1254.5,567.4 1254.9,576.0 1255.3,564.6 1255.7,584.2 1256.1,575.5 1256.5,578.8 1256.9,593.7 1257.4,578.7 1257.8,566.1 1258.2,586.0 1258.6,576.8 1259.0,566.5 1259.4,566.9 1259.8,575.8 1260.2,574.1 1260.6,588.0 1261.0,571.0 1261.4,580.9 1261.8,580.1 1262.3,569.9 1262.7,580.3 1263.1,575.8 1263.5,575.7 1263.9,577.1 1264.3,584.7 1264.7,580.5 1265.1,592.8 1265.5,576.2 1265.9,571.4 1266.3,582.6 1266.7,562.2 1267.1,591.1 1267.6,595.1 1268.0,589.2 1268.4,582.5 1268.8,576.5 1269.2,582.9 1269.6,572.3 1270.0,581.4 1270.4,579.5 1270.8,583.1 1271.2,569.9 1271.6,581.2 1272.0,575.8 1272.5,571.4 1272.9,572.9 1273.3,579.3 1273.7,581.2 1274.1,553.9 1274.5,573.4 1274.9,589.7 1275.3,592.2 1275.7,581.5 1276.1,576.8 1276.5,573.0 1276.9,591.9 1277.3,577.8 1277.8,584.3 1278.2,567.3 1278.6,573.0 1279.0,590.4 1279.4,584.4 1279.8,580.0 1280.2,566.6 1280.6,582.2 1281.0,582.8 1281.4,587.4 1281.8,568.9 1282.2,570.2 1282.7,579.4 1283.1,578.9 1283.5,576.5 1283.9,574.7 1284.3,571.4 1284.7,578.8 1285.1,570.3 1285.5,576.0 1285.9,583.6 1286.3,572.6 1286.7,577.2 1287.1,595.2 1287.5,569.9 1288.0,575.2 1288.4,580.7 1288.8,589.5 1289.2,585.3 1289.6,589.3 1290.0,585.6 1290.4,573.7 1290.8,574.6 1291.2,577.7 1291.6,579.3 1292.0,585.6 1292.4,572.7 1292.9,577.1 1293.3,579.4 1293.7,558.0 1294.1,570.8 1294.5,566.1 1294.9,559.4 1295.3,555.0 1295.7,537.4 1296.1,539.4 1296.5,547.4 1296.9,538.3 1297.3,549.5 1297.7,529.9 1298.2,528.1 1298.6,541.3 1299.0,531.7 1299.4,539.4 1299.8,526.3 1300.2,525.2 1300.6,546.1 1301.0,545.0 1301.4,531.9 1301.8,538.3 1302.2,567.8 1302.6,555.2 1303.1,577.2 1303.5,562.3 1303.9,564.7 1304.3,572.0 1304.7,582.0 1305.1,573.7 1305.5,574.0 1305.9,575.7 1306.3,576.5 1306.7,583.4 1307.1,592.6 1307.5,586.3 1307.9,578.2 1308.4,581.2 1308.8,577.9 1309.2,583.3 1309.6,572.9 1310.0,590.1 1310.4,585.3 1310.8,580.7 1311.2,583.5 1311.6,583.8 1312.0,585.4 1312.4,584.9 1312.8,591.6 1313.3,590.3 1313.7,568.9 1314.1,586.3 1314.5,601.1 1314.9,579.6 1315.3,587.2 1315.7,581.1 1316.1,572.1 1316.5,593.6 1316.9,589.9 1317.3,567.7 1317.7,582.5 1318.1,588.5 1318.6,589.2 1319.0,573.4 1319.4,589.8 1319.8,585.6 1320.2,573.9 1320.6,582.5 1321.0,589.5 1321.4,592.1 1321.8,583.3 1322.2,595.2 1322.6,584.7 1323.0,587.6 1323.5,590.9 1323.9,577.6 1324.3,585.4 1324.7,576.1 1325.1,573.2 1325.5,579.8 1325.9,579.1 1326.3,584.3 1326.7,588.9 1327.1,584.3 1327.5,579.7 1327.9,586.6 1328.3,577.6 1328.8,584.7 1329.2,594.0 1329.6,584.0 1330.0,569.0 1330.4,566.1 1330.8,591.6 1331.2,590.2 1331.6,584.6 1332.0,593.3 1332.4,588.2 1332.8,589.4 1333.2,578.3 1333.7,594.1 1334.1,599.6 1334.5,597.1 1334.9,586.7 1335.3,588.1 1335.7,594.5 1336.1,583.0 1336.5,592.5 1336.9,580.0 1337.3,596.2 1337.7,595.4 1338.1,596.8 1338.5,589.6 1339.0,576.9 1339.4,587.9 1339.8,587.6 1340.2,584.4 1340.6,585.2 1341.0,601.4 1341.4,588.7 1341.8,593.9 1342.2,590.2 1342.6,581.1 1343.0,588.5 1343.4,583.8 1343.9,592.6 1344.3,579.6 1344.7,576.8 1345.1,585.4 1345.5,587.1 1345.9,581.8 1346.3,582.1 1346.7,586.3 1347.1,585.0 1347.5,582.9 1347.9,591.8 1348.3,586.4 1348.7,592.1 1349.2,589.2 1349.6,579.3 1350.0,584.0 1350.4,592.5 1350.8,586.8 1351.2,598.1 1351.6,585.1 1352.0,583.3 1352.4,577.3 1352.8,570.4 1353.2,577.4 1353.6,597.2 1354.1,571.9 1354.5,596.2 1354.9,590.9 1355.3,568.1 1355.7,579.1 1356.1,593.3 1356.5,594.0 1356.9,590.3 1357.3,587.1 1357.7,592.7 1358.1,587.9 1358.5,570.2 1358.9,578.6 1359.4,571.8 1359.8,582.0 1360.2,596.6 1360.6,575.7 1361.0,569.8 1361.4,587.0 1361.8,565.2 1362.2,582.1 1362.6,585.1 1363.0,595.5 1363.4,586.8 1363.8,598.4 1364.3,579.6 1364.7,588.3 1365.1,576.7 1365.5,587.9 1365.9,591.1 1366.3,578.6 1366.7,583.9 1367.1,584.0 1367.5,596.2 1367.9,584.0 1368.3,581.5 1368.7,581.5 1369.1,563.3 1369.6,580.3 1370.0,587.1 1370.4,579.8 1370.8,581.1 1371.2,584.3 1371.6,590.3 1372.0,584.9 1372.4,584.4 1372.8,585.0 1373.2,575.6 1373.6,574.4 1374.0,574.4 1374.5,584.9 1374.9,574.5 1375.3,587.2 1375.7,576.0 1376.1,581.5 1376.5,590.4 1376.9,600.6 1377.3,585.6 1377.7,566.3 1378.1,580.0 1378.5,586.3 1378.9,587.8 1379.3,576.1 1379.8,566.8 1380.2,581.4 1380.6,576.5 1381.0,575.8 1381.4,568.7 1381.8,582.2 1382.2,567.0 1382.6,576.8 1383.0,579.4 1383.4,578.5 1383.8,581.1 1384.2,592.3 1384.7,593.4 1385.1,580.3 1385.5,574.9 1385.9,572.3 1386.3,572.8 1386.7,574.5 1387.1,586.7 1387.5,584.5 1387.9,573.3 1388.3,575.7 1388.7,590.3 1389.1,567.4 1389.5,584.4 1390.0,589.5 1390.4,577.2 1390.8,585.8 1391.2,585.0 1391.6,582.1 1392.0,572.6 1392.4,580.5 1392.8,571.6 1393.2,573.3 1393.6,590.8 1394.0,577.9 1394.4,568.8 1394.9,587.1 1395.3,590.3 1395.7,590.9 1396.1,586.5 1396.5,584.0 1396.9,563.0 1397.3,587.3 1397.7,575.6 1398.1,580.2 1398.5,587.5 1398.9,585.5 1399.3,583.0 1399.7,591.4 1400.2,594.9 1400.6,578.3 1401.0,577.0 1401.4,599.2 1401.8,589.9 1402.2,582.6 1402.6,577.1 1403.0,586.8 1403.4,597.1 1403.8,578.6 1404.2,588.4 1404.6,575.4 1405.1,591.1 1405.5,585.0 1405.9,596.0 1406.3,587.9 1406.7,585.0 1407.1,578.4 1407.5,577.1 1407.9,581.0 1408.3,588.5 1408.7,584.5 1409.1,586.0 1409.5,585.3 1409.9,590.5 1410.4,596.6 1410.8,585.6 1411.2,590.1 1411.6,572.5 1412.0,569.1 1412.4,576.4 1412.8,587.3 1413.2,575.1 1413.6,574.6 1414.0,588.4 1414.4,582.9 1414.8,582.2 1415.3,578.1 1415.7,588.2 1416.1,584.9 1416.5,583.0 1416.9,575.3 1417.3,573.4 1417.7,595.0 1418.1,578.3 1418.5,579.8 1418.9,578.2 1419.3,573.2 1419.7,573.8 1420.1,584.9 1420.6,567.6 1421.0,590.6 1421.4,571.6 1421.8,568.7 1422.2,566.5 1422.6,582.4 1423.0,598.7 1423.4,589.8 1423.8,586.8 1424.2,580.6 1424.6,588.2 1425.0,584.8 1425.5,584.3 1425.9,585.6 1426.3,595.8 1426.7,591.8 1427.1,595.7 1427.5,583.0 1427.9,592.0 1428.3,588.9 1428.7,573.5 1429.1,576.8 1429.5,589.6 1429.9,583.5 1430.3,590.7 1430.8,584.2 1431.2,582.9 1431.6,577.3 1432.0,568.4 1432.4,589.9 1432.8,579.0 1433.2,581.8 1433.6,578.0 1434.0,586.7 1434.4,580.4 1434.8,578.1 1435.2,578.3 1435.7,578.4 1436.1,582.3 1436.5,585.4 1436.9,562.5 1437.3,575.6 1437.7,580.4 1438.1,590.2 1438.5,588.1 1438.9,578.1 1439.3,575.1 1439.7,582.2 1440.1,575.4 1440.5,587.0 1441.0,595.0 1441.4,591.0 1441.8,589.6 1442.2,576.7 1442.6,567.4 1443.0,574.3 1443.4,586.0 1443.8,596.8 1444.2,591.1 1444.6,585.5 1445.0,576.8 1445.4,586.1 1445.9,577.4 1446.3,572.5 1446.7,576.6 1447.1,575.3 1447.5,594.6 1447.9,577.6 1448.3,590.3 1448.7,584.2 1449.1,582.9 1449.5,585.6 1449.9,585.2 1450.3,598.3 1450.7,575.0 1451.2,579.5 1451.6,585.5 1452.0,588.6 1452.4,573.4 1452.8,580.1 1453.2,592.4 1453.6,581.7 1454.0,580.9 1454.4,580.3 1454.8,577.4 1455.2,589.1 1455.6,574.3 1456.1,585.9 1456.5,584.9 1456.9,572.0 1457.3,585.8 1457.7,588.2 1458.1,595.4 1458.5,586.0 1458.9,581.9 1459.3,584.4 1459.7,572.7 1460.1,587.4 1460.5,587.7 1460.9,573.1 1461.4,567.7 1461.8,571.2 1462.2,578.8 1462.6,577.2 1463.0,590.5 1463.4,583.3 1463.8,578.0 1464.2,586.0 1464.6,581.9 1465.0,575.8 1465.4,574.1 1465.8,578.1 1466.3,590.6 1466.7,587.0 1467.1,595.6 1467.5,577.5 1467.9,584.3 1468.3,575.6 1468.7,575.8 1469.1,573.2 1469.5,569.3 1469.9,587.8 1470.3,577.8 1470.7,569.7 1471.1,569.0 1471.6,578.1 1472.0,580.0 1472.4,580.5 1472.8,570.1 1473.2,568.8 1473.6,564.9 1474.0,581.2 1474.4,577.3 1474.8,588.4 1475.2,575.1 1475.6,579.6 1476.0,573.2 1476.5,565.5 1476.9,585.1 1477.3,565.1 1477.7,582.4 1478.1,585.5 1478.5,568.7 1478.9,573.0 1479.3,575.2 1479.7,572.4 1480.1,582.0 1480.5,563.8 1480.9,565.6 1481.3,577.0 1481.8,568.9 1482.2,580.8 1482.6,568.6 1483.0,570.3 1483.4,585.9 1483.8,570.7 1484.2,568.3 1484.6,574.6 1485.0,576.6 1485.4,576.2 1485.8,574.8 1486.2,588.9 1486.7,569.3 1487.1,576.0 1487.5,581.3 1487.9,568.0 1488.3,583.3 1488.7,581.1 1489.1,568.9 1489.5,586.2 1489.9,586.4 1490.3,568.2 1490.7,582.9 1491.1,572.8 1491.5,576.5 1492.0,580.9 1492.4,581.3 1492.8,575.7 1493.2,571.6 1493.6,585.3 1494.0,572.9 1494.4,576.5 1494.8,573.2 1495.2,578.2 1495.6,571.3 1496.0,578.7 1496.4,578.3 1496.9,580.9 1497.3,582.4 1497.7,592.2 1498.1,577.6 1498.5,577.6 1498.9,574.7 1499.3,571.8 1499.7,588.4 1500.1,574.1 1500.5,566.7 1500.9,572.9 1501.3,584.2 1501.7,569.5 1502.2,588.9 1502.6,583.9 1503.0,579.0 1503.4,573.0 1503.8,573.1 1504.2,583.4 1504.6,580.3 1505.0,574.7 1505.4,566.0 1505.8,581.3 1506.2,567.5 1506.6,580.9 1507.1,575.0 1507.5,574.8 1507.9,574.8 1508.3,570.4 1508.7,574.8 1509.1,580.0 1509.5,576.4 1509.9,578.8 1510.3,573.2 1510.7,573.3 1511.1,566.2 1511.5,562.8 1511.9,585.5 1512.4,573.6 1512.8,579.1 1513.2,566.1 1513.6,582.2 1514.0,583.3 1514.4,564.3 1514.8,574.7 1515.2,554.1 1515.6,564.8 1516.0,567.8 1516.4,572.2 1516.8,575.4 1517.3,567.4 1517.7,573.9 1518.1,570.2 1518.5,587.6 1518.9,560.3 1519.3,570.2 1519.7,575.3 1520.1,576.2 1520.5,557.8 1520.9,570.0 1521.3,581.9 1521.7,580.8 1522.1,561.9 1522.6,576.4 1523.0,582.5 1523.4,580.1 1523.8,578.5 1524.2,565.1 1524.6,572.7 1525.0,579.5 1525.4,592.5 1525.8,578.3 1526.2,584.2 1526.6,577.4 1527.0,584.7 1527.5,594.6 1527.9,583.8 1528.3,584.4 1528.7,594.2 1529.1,579.2 1529.5,586.8 1529.9,581.2 1530.3,594.0 1530.7,585.2 1531.1,595.8 1531.5,601.1 1531.9,582.1 1532.3,597.7 1532.8,598.3 1533.2,587.2 1533.6,582.9 1534.0,597.0 1534.4,589.2 1534.8,586.2 1535.2,591.2 1535.6,587.6 1536.0,590.9 1536.4,596.4 1536.8,592.6 1537.2,584.0 1537.7,590.8 1538.1,582.2 1538.5,579.6 1538.9,590.6 1539.3,595.3 1539.7,575.5 1540.1,598.1 1540.5,606.7 1540.9,602.4 1541.3,565.4 1541.7,594.1 1542.1,590.8 1542.5,595.6 1543.0,599.7 1543.4,591.6 1543.8,577.5 1544.2,584.4 1544.6,590.5 1545.0,591.0 1545.4,595.0 1545.8,590.4 1546.2,600.7 1546.6,582.5 1547.0,585.2 1547.4,596.3 1547.9,592.6 1548.3,605.0 1548.7,582.5 1549.1,575.3 1549.5,587.2 1549.9,598.5 1550.3,583.9 1550.7,582.2 1551.1,594.4 1551.5,590.6 1551.9,591.4 1552.3,588.1 1552.7,579.4 1553.2,607.3 1553.6,584.6 1554.0,598.1 1554.4,577.0 1554.8,585.1 1555.2,577.4 1555.6,579.2 1556.0,578.1 1556.4,593.8 1556.8,588.4 1557.2,592.6 1557.6,592.5 1558.1,578.9 1558.5,587.1 1558.9,577.0 1559.3,601.7 1559.7,594.7 1560.1,588.2 1560.5,575.8 1560.9,597.7 1561.3,584.0 1561.7,579.9 1562.1,575.7 1562.5,601.7 1562.9,597.2 1563.4,585.8 1563.8,595.8 1564.2,575.7 1564.6,599.8 1565.0,591.3 1565.4,602.9 1565.8,593.9 1566.2,584.3 1566.6,577.5 1567.0,598.2 1567.4,581.0 1567.8,596.3 1568.3,597.9 1568.7,582.5 1569.1,594.7 1569.5,598.4 1569.9,591.4 1570.3,584.6 1570.7,575.5 1571.1,594.0 1571.5,587.4 1571.9,583.1 1572.3,585.0 1572.7,587.9 1573.1,607.1 1573.6,589.3 1574.0,597.9 1574.4,583.3 1574.8,601.6 1575.2,590.0 1575.6,593.0 1576.0,585.3 1576.4,586.0 1576.8,581.5 1577.2,596.1 1577.6,598.2 1578.0,595.8 1578.5,590.1 1578.9,591.6 1579.3,599.6 1579.7,590.0 1580.1,586.9 1580.5,591.7 1580.9,587.4 1581.3,596.1 1581.7,588.9 1582.1,581.1 1582.5,579.4 1582.9,578.5 1583.3,601.1 1583.8,590.1 1584.2,599.7 1584.6,600.9 1585.0,587.9 1585.4,608.1 1585.8,589.0 1586.2,593.4 1586.6,584.5 1587.0,593.3 1587.4,587.1 1587.8,594.6 1588.2,603.7 1588.7,595.0 1589.1,580.7 1589.5,579.3 1589.9,582.5 1590.3,604.1 1590.7,586.3 1591.1,573.3 1591.5,584.9 1591.9,592.5 1592.3,585.1 1592.7,597.6 1593.1,599.6 1593.5,585.0 1594.0,599.9 1594.4,584.3 1594.8,603.3 1595.2,586.4 1595.6,601.2 1596.0,589.7 1596.4,584.3 1596.8,589.7 1597.2,591.3 1597.6,582.6 1598.0,593.9 1598.4,581.5 1598.9,581.5 1599.3,590.4 1599.7,594.8 1600.1,582.4 1600.5,592.4 1600.9,600.0 1601.3,590.7 1601.7,586.1 1602.1,598.6 1602.5,602.3 1602.9,588.4 1603.3,592.1 1603.7,587.7 1604.2,594.3 1604.6,598.4 1605.0,584.8 1605.4,604.0 1605.8,590.7 1606.2,588.2 1606.6,593.8 1607.0,591.3 1607.4,591.3 1607.8,572.4 1608.2,605.0 1608.6,593.9 1609.1,590.8 1609.5,598.7 1609.9,588.8 1610.3,588.3 1610.7,600.0 1611.1,584.6 1611.5,589.9 1611.9,597.2 1612.3,591.7 1612.7,594.2 1613.1,581.6 1613.5,576.3 1613.9,596.0 1614.4,595.9 1614.8,600.2 1615.2,603.7 1615.6,591.0 1616.0,593.4 1616.4,598.6 1616.8,579.0 1617.2,589.8 1617.6,587.3 1618.0,592.7 1618.4,601.6 1618.8,589.8 1619.3,585.1 1619.7,583.4 1620.1,582.6 1620.5,590.2 1620.9,572.5 1621.3,597.0 1621.7,590.3 1622.1,587.9 1622.5,589.9 1622.9,587.7 1623.3,600.0 1623.7,579.2 1624.1,576.5 1624.6,593.1 1625.0,579.8 1625.4,591.9 1625.8,593.5 1626.2,576.3 1626.6,589.5 1627.0,595.2 1627.4,585.9 1627.8,582.6 1628.2,599.4 1628.6,582.0 1629.0,590.8 1629.5,595.5 1629.9,582.3 1630.3,594.3 1630.7,583.9 1631.1,592.8 1631.5,589.8 1631.9,598.8 1632.3,597.4 1632.7,597.7 1633.1,583.3 1633.5,591.5 1633.9,585.0 1634.3,607.0 1634.8,588.4 1635.2,589.2 1635.6,583.7 1636.0,589.1 1636.4,582.3 1636.8,592.7 1637.2,594.4 1637.6,582.1 1638.0,583.9 1638.4,594.8 1638.8,586.1 1639.2,593.1 1639.7,582.0 1640.1,610.1 1640.5,570.5 1640.9,590.5 1641.3,591.7 1641.7,595.3 1642.1,581.7 1642.5,587.6 1642.9,589.6 1643.3,586.4 1643.7,594.1 1644.1,587.3 1644.5,598.9 1645.0,585.4 1645.4,578.9 1645.8,596.1 1646.2,588.4 1646.6,584.3 1647.0,594.0 1647.4,590.6 1647.8,593.9 1648.2,579.1 1648.6,592.5 1649.0,596.4 1649.4,591.4 1649.9,582.7 1650.3,597.0 1650.7,596.7 1651.1,580.8 1651.5,580.1 1651.9,584.5 1652.3,591.4 1652.7,585.8 1653.1,585.0 1653.5,579.0 1653.9,592.0 1654.3,599.8 1654.7,588.5 1655.2,600.3 1655.6,586.3 1656.0,607.5 1656.4,578.5 1656.8,594.2 1657.2,585.9 1657.6,594.1 1658.0,574.5 1658.4,587.6 1658.8,597.8 1659.2,595.9 1659.6,595.6 1660.1,595.7 1660.5,584.3 1660.9,589.8 1661.3,598.7 1661.7,575.4 1662.1,599.4 1662.5,599.1 1662.9,587.5 1663.3,590.5 1663.7,592.2 1664.1,584.8 1664.5,582.5 1664.9,588.4 1665.4,601.0 1665.8,575.0 1666.2,594.2 1666.6,606.8 1667.0,590.7 1667.4,589.6 1667.8,582.9 1668.2,580.8 1668.6,584.3 1669.0,593.6 1669.4,582.7 1669.8,595.4 1670.3,583.9 1670.7,591.0 1671.1,596.0 1671.5,586.5 1671.9,593.9 1672.3,583.2 1672.7,584.9 1673.1,592.6 1673.5,601.1 1673.9,578.2 1674.3,594.4 1674.7,572.4 1675.1,585.6 1675.6,581.0 1676.0,585.6 1676.4,585.8 1676.8,577.5 1677.2,598.5 1677.6,593.5 1678.0,585.9 1678.4,601.9 1678.8,596.6 1679.2,592.7 1679.6,593.3 1680.0,586.3 1680.5,592.5 1680.9,577.2 1681.3,591.4 1681.7,591.4 1682.1,592.9 1682.5,587.9 1682.9,586.1 1683.3,586.1 1683.7,611.5 1684.1,599.3 1684.5,596.9 1684.9,585.8 1685.3,595.0 1685.8,589.5 1686.2,579.6 1686.6,598.2 1687.0,582.3 1687.4,586.1 1687.8,595.0 1688.2,590.8 1688.6,569.6 1689.0,579.0 1689.4,577.0 1689.8,604.9 1690.2,589.2 1690.7,587.2 1691.1,595.3 1691.5,591.8 1691.9,585.0 1692.3,603.7 1692.7,606.2 1693.1,594.5 1693.5,583.9 1693.9,596.7 1694.3,594.4 1694.7,597.3 1695.1,602.3 1695.5,594.9 1696.0,598.2 1696.4,595.5 1696.8,586.0 1697.2,586.2 1697.6,585.2 1698.0,588.8 1698.4,582.3 1698.8,591.6 1699.2,602.5 1699.6,589.0 1700.0,595.2 1700.4,588.3 1700.9,587.0 1701.3,591.9 1701.7,591.2 1702.1,579.7 1702.5,588.3 1702.9,588.5 1703.3,594.1"/>
<polyline fill="none" stroke="#FF0000" stroke-width="2.3" shape-rendering="crispEdges" points="275.3,645.0 275.7,675.1 276.1,655.5 276.5,621.2 276.9,632.5 277.3,661.1 277.7,647.6 278.2,672.3 278.6,619.6 279.0,694.5 279.4,693.7 279.8,638.4 280.2,662.0 280.6,659.9 281.0,667.2 281.4,693.8 281.8,670.6 282.2,665.9 282.6,696.4 283.1,709.5 283.5,680.6 283.9,695.2 284.3,667.1 284.7,710.6 285.1,734.2 285.5,706.9 285.9,697.0 286.3,664.5 286.7,695.2 287.1,666.8 287.5,716.0 287.9,734.1 288.4,728.5 288.8,708.7 289.2,715.1 289.6,696.4 290.0,712.5 290.4,713.4 290.8,710.3 291.2,667.1 291.6,716.6 292.0,720.6 292.4,701.8 292.8,722.2 293.3,729.6 293.7,682.5 294.1,733.5 294.5,711.8 294.9,702.7 295.3,725.1 295.7,711.4 296.1,718.0 296.5,710.9 296.9,717.9 297.3,711.0 297.7,722.5 298.1,716.2 298.6,713.8 299.0,753.1 299.4,738.3 299.8,745.8 300.2,767.2 300.6,751.9 301.0,742.7 301.4,726.5 301.8,756.4 302.2,752.3 302.6,761.6 303.0,744.5 303.5,741.5 303.9,715.8 304.3,756.9 304.7,725.4 305.1,741.9 305.5,757.4 305.9,751.4 306.3,749.4 306.7,758.2 307.1,724.9 307.5,753.1 307.9,771.9 308.3,770.8 308.8,731.1 309.2,768.5 309.6,761.2 310.0,740.2 310.4,735.0 310.8,753.7 311.2,777.2 311.6,764.0 312.0,742.9 312.4,759.1 312.8,773.6 313.2,756.9 313.7,751.7 314.1,765.9 314.5,728.2 314.9,766.2 315.3,739.6 315.7,759.0 316.1,766.0 316.5,758.8 316.9,750.1 317.3,755.8 317.7,773.9 318.1,742.1 318.5,749.2 319.0,767.4 319.4,774.8 319.8,763.0 320.2,755.7 320.6,774.1 321.0,758.3 321.4,794.4 321.8,784.0 322.2,792.4 322.6,751.1 323.0,758.3 323.4,761.6 323.9,747.7 324.3,758.4 324.7,780.2 325.1,751.9 325.5,762.7 325.9,789.0 326.3,772.0 326.7,775.1 327.1,768.4 327.5,759.4 327.9,763.6 328.3,773.0 328.7,761.1 329.2,770.6 329.6,763.8 330.0,769.5 330.4,793.5 330.8,780.3 331.2,753.3 331.6,769.6 332.0,799.0 332.4,799.1 332.8,757.0 333.2,780.3 333.6,774.5 334.1,739.1 334.5,779.4 334.9,803.9 335.3,765.9 335.7,772.2 336.1,790.3 336.5,770.9 336.9,771.3 337.3,781.9 337.7,758.1 338.1,785.7 338.5,760.6 338.9,780.1 339.4,791.2 339.8,803.2 340.2,769.5 340.6,783.9 341.0,784.4 341.4,756.1 341.8,780.1 342.2,784.9 342.6,789.5 343.0,809.5 343.4,783.9 343.8,781.8 344.3,781.7 344.7,782.8 345.1,789.8 345.5,805.0 345.9,769.2 346.3,784.1 346.7,751.2 347.1,761.2 347.5,786.3 347.9,755.4 348.3,788.9 348.7,802.0 349.1,773.0 349.6,775.1 350.0,785.0 350.4,778.0 350.8,784.4 351.2,775.8 351.6,797.1 352.0,789.7 352.4,784.8 352.8,755.7 353.2,776.5 353.6,786.7 354.0,795.6 354.5,777.6 354.9,794.6 355.3,798.0 355.7,778.9 356.1,796.7 356.5,784.8 356.9,772.8 357.3,787.0 357.7,805.0 358.1,793.1 358.5,788.4 358.9,799.3 359.3,797.9 359.8,791.3 360.2,764.9 360.6,756.2 361.0,768.1 361.4,810.8 361.8,798.6 362.2,769.6 362.6,800.0 363.0,771.9 363.4,792.7 363.8,802.3 364.2,789.1 364.7,801.2 365.1,802.3 365.5,769.7 365.9,790.4 366.3,797.7 366.7,785.3 367.1,774.7 367.5,810.6 367.9,795.6 368.3,785.2 368.7,781.5 369.1,792.4 369.5,808.1 370.0,787.4 370.4,800.1 370.8,797.9 371.2,791.7 371.6,794.8 372.0,795.8 372.4,783.4 372.8,777.7 373.2,804.2 373.6,813.6 374.0,803.1 374.4,785.8 374.9,796.8 375.3,790.1 375.7,779.7 376.1,784.5 376.5,790.0 376.9,803.7 377.3,783.4 377.7,811.1 378.1,797.8 378.5,812.1 378.9,809.7 379.3,800.2 379.7,799.5 380.2,802.0 380.6,801.9 381.0,807.0 381.4,820.6 381.8,806.4 382.2,817.8 382.6,810.4 383.0,794.8 383.4,805.2 383.8,807.0 384.2,809.8 384.6,794.9 385.1,812.3 385.5,792.5 385.9,797.5 386.3,807.4 386.7,801.7 387.1,789.7 387.5,784.8 387.9,793.8 388.3,791.8 388.7,825.0 389.1,787.9 389.5,783.6 389.9,825.8 390.4,780.8 390.8,793.4 391.2,806.2 391.6,800.7 392.0,804.2 392.4,818.5 392.8,827.7 393.2,803.4 393.6,805.1 394.0,797.4 394.4,794.9 394.8,796.0 395.3,803.6 395.7,795.5 396.1,804.5 396.5,795.8 396.9,788.8 397.3,797.3 397.7,798.2 398.1,795.4 398.5,796.3 398.9,807.3 399.3,786.6 399.7,811.8 400.1,794.7 400.6,800.1 401.0,815.8 401.4,812.3 401.8,781.2 402.2,805.9 402.6,817.3 403.0,791.4 403.4,797.1 403.8,817.5 404.2,787.9 404.6,822.4 405.0,787.5 405.5,794.5 405.9,796.5 406.3,797.8 406.7,811.5 407.1,807.6 407.5,804.9 407.9,805.4 408.3,784.7 408.7,795.8 409.1,815.2 409.5,789.5 409.9,818.9 410.3,801.0 410.8,791.4 411.2,811.9 411.6,811.6 412.0,795.6 412.4,796.7 412.8,793.4 413.2,796.1 413.6,777.0 414.0,795.5 414.4,817.6 414.8,797.5 415.2,807.7 415.7,812.7 416.1,805.3 416.5,797.9 416.9,797.3 417.3,797.2 417.7,807.2 418.1,799.3 418.5,812.1 418.9,823.8 419.3,809.5 419.7,787.7 420.1,807.7 420.5,801.6 421.0,799.3 421.4,795.6 421.8,800.9 422.2,840.3 422.6,839.4 423.0,824.0 423.4,793.9 423.8,806.1 424.2,816.5 424.6,800.5 425.0,811.4 425.4,817.0 425.9,822.1 426.3,809.6 426.7,808.3 427.1,801.9 427.5,800.8 427.9,806.1 428.3,803.3 428.7,813.5 429.1,808.3 429.5,802.2 429.9,821.5 430.3,801.1 430.7,811.7 431.2,810.6 431.6,798.4 432.0,805.0 432.4,807.8 432.8,798.8 433.2,790.4 433.6,835.0 434.0,798.1 434.4,801.8 434.8,802.5 435.2,805.4 435.6,815.3 436.1,814.7 436.5,799.1 436.9,809.8 437.3,813.5 437.7,803.9 438.1,818.7 438.5,809.2 438.9,816.7 439.3,794.9 439.7,826.6 440.1,805.0 440.5,795.8 440.9,797.3 441.4,798.7 441.8,811.2 442.2,782.4 442.6,797.1 443.0,820.4 443.4,822.2 443.8,796.5 444.2,810.4 444.6,811.5 445.0,806.6 445.4,803.1 445.8,818.8 446.3,806.8 446.7,812.3 447.1,819.0 447.5,799.7 447.9,800.2 448.3,835.7 448.7,799.4 449.1,823.5 449.5,824.3 449.9,812.2 450.3,807.7 450.7,810.4 451.1,803.0 451.6,811.7 452.0,809.1 452.4,805.7 452.8,807.6 453.2,821.1 453.6,812.0 454.0,809.5 454.4,833.4 454.8,811.8 455.2,819.0 455.6,802.3 456.0,800.4 456.5,817.5 456.9,822.9 457.3,778.7 457.7,819.7 458.1,820.8 458.5,812.4 458.9,819.2 459.3,800.2 459.7,816.2 460.1,799.4 460.5,809.1 460.9,807.5 461.3,813.4 461.8,796.5 462.2,814.5 462.6,815.5 463.0,824.3 463.4,804.9 463.8,816.9 464.2,804.0 464.6,817.0 465.0,804.1 465.4,799.3 465.8,804.6 466.2,828.6 466.7,827.5 467.1,812.2 467.5,812.6 467.9,815.6 468.3,794.8 468.7,833.5 469.1,800.9 469.5,797.9 469.9,809.4 470.3,800.6 470.7,814.9 471.1,818.6 471.5,807.7 472.0,813.2 472.4,804.6 472.8,792.6 473.2,797.4 473.6,833.5 474.0,810.1 474.4,790.9 474.8,798.8 475.2,801.8 475.6,819.5 476.0,812.5 476.4,827.3 476.9,832.4 477.3,818.0 477.7,817.3 478.1,825.0 478.5,806.7 478.9,808.2 479.3,792.7 479.7,819.8 480.1,801.4 480.5,814.1 480.9,837.8 481.3,796.0 481.7,805.4 482.2,799.4 482.6,798.0 483.0,818.5 483.4,792.5 483.8,813.7 484.2,811.2 484.6,822.0 485.0,790.3 485.4,796.1 485.8,821.0 486.2,789.4 486.6,811.7 487.1,822.2 487.5,792.6 487.9,797.6 488.3,819.2 488.7,795.1 489.1,818.5 489.5,822.3 489.9,809.5 490.3,808.1 490.7,808.5 491.1,801.4 491.5,817.8 491.9,816.8 492.4,808.7 492.8,812.1 493.2,793.1 493.6,797.9 494.0,784.5 494.4,801.9 494.8,818.0 495.2,811.3 495.6,802.5 496.0,803.8 496.4,803.6 496.8,819.8 497.3,795.0 497.7,821.6 498.1,813.9 498.5,791.5 498.9,814.9 499.3,816.3 499.7,803.5 500.1,828.2 500.5,799.1 500.9,803.7 501.3,810.4 501.7,813.7 502.1,806.0 502.6,818.2 503.0,801.1 503.4,813.6 503.8,806.1 504.2,808.0 504.6,796.7 505.0,806.3 505.4,790.5 505.8,791.2 506.2,805.5 506.6,816.4 507.0,795.7 507.5,812.3 507.9,832.0 508.3,813.1 508.7,813.8 509.1,805.2 509.5,785.2 509.9,802.0 510.3,807.4 510.7,794.1 511.1,808.6 511.5,798.2 511.9,815.8 512.3,807.5 512.8,809.1 513.2,810.7 513.6,804.4 514.0,823.8 514.4,793.7 514.8,796.8 515.2,805.3 515.6,807.3 516.0,790.9 516.4,816.7 516.8,803.4 517.2,812.7 517.7,799.1 518.1,799.8 518.5,808.5 518.9,800.4 519.3,797.8 519.7,808.4 520.1,813.7 520.5,802.4 520.9,809.6 521.3,796.0 521.7,809.2 522.1,795.1 522.5,808.1 523.0,793.0 523.4,806.9 523.8,814.9 524.2,805.1 524.6,785.7 525.0,819.8 525.4,796.5 525.8,779.1 526.2,823.7 526.6,796.2 527.0,810.5 527.4,805.6 527.9,823.8 528.3,820.3 528.7,783.3 529.1,807.3 529.5,790.4 529.9,801.1 530.3,799.7 530.7,799.8 531.1,788.1 531.5,808.5 531.9,810.4 532.3,810.1 532.7,822.0 533.2,799.0 533.6,790.9 534.0,801.8 534.4,772.4 534.8,797.4 535.2,786.6 535.6,787.5 536.0,785.3 536.4,786.0 536.8,802.3 537.2,780.4 537.6,788.0 538.1,799.5 538.5,795.6 538.9,813.1 539.3,799.3 539.7,820.5 540.1,807.7 540.5,786.7 540.9,796.5 541.3,815.4 541.7,783.5 542.1,787.4 542.5,777.8 542.9,796.9 543.4,808.6 543.8,810.5 544.2,796.0 544.6,783.2 545.0,800.6 545.4,796.2 545.8,806.8 546.2,800.6 546.6,811.3 547.0,791.7 547.4,798.6 547.8,796.9 548.3,793.2 548.7,803.2 549.1,779.3 549.5,781.4 549.9,770.5 550.3,798.6 550.7,806.9 551.1,802.8 551.5,815.8 551.9,799.5 552.3,788.2 552.7,802.0 553.1,800.4 553.6,800.4 554.0,810.5 554.4,789.0 554.8,789.5 555.2,797.8 555.6,811.6 556.0,789.9 556.4,813.1 556.8,813.5 557.2,794.2 557.6,791.5 558.0,797.4 558.5,781.2 558.9,815.4 559.3,800.3 559.7,810.4 560.1,791.2 560.5,800.3 560.9,796.4 561.3,816.0 561.7,786.2 562.1,811.4 562.5,798.4 562.9,797.5 563.3,778.6 563.8,796.1 564.2,793.0 564.6,803.9 565.0,792.0 565.4,790.5 565.8,807.4 566.2,799.7 566.6,792.3 567.0,799.3 567.4,802.8 567.8,795.0 568.2,795.9 568.7,813.6 569.1,796.2 569.5,772.7 569.9,805.7 570.3,810.9 570.7,807.7 571.1,806.7 571.5,773.7 571.9,786.1 572.3,796.7 572.7,797.4 573.1,795.1 573.5,781.1 574.0,787.5 574.4,790.9 574.8,805.1 575.2,818.1 575.6,777.2 576.0,795.2 576.4,783.9 576.8,804.4 577.2,796.5 577.6,798.7 578.0,794.5 578.4,785.9 578.9,785.4 579.3,789.7 579.7,802.9 580.1,814.3 580.5,803.7 580.9,789.8 581.3,809.3 581.7,795.6 582.1,792.2 582.5,792.2 582.9,780.8 583.3,774.7 583.7,782.7 584.2,788.0 584.6,792.0 585.0,776.2 585.4,787.3 585.8,769.8 586.2,803.2 586.6,782.7 587.0,777.2 587.4,795.8 587.8,788.7 588.2,776.7 588.6,806.8 589.1,778.5 589.5,792.4 589.9,781.1 590.3,795.6 590.7,795.5 591.1,779.2 591.5,778.8 591.9,799.3 592.3,789.0 592.7,796.3 593.1,789.9 593.5,798.0 593.9,792.5 594.4,780.5 594.8,802.8 595.2,785.1 595.6,786.6 596.0,788.3 596.4,798.6 596.8,776.6 597.2,785.4 597.6,783.3 598.0,781.7 598.4,772.6 598.8,754.2 599.3,775.4 599.7,794.1 600.1,782.0 600.5,778.3 600.9,780.6 601.3,792.0 601.7,780.9 602.1,778.8 602.5,787.4 602.9,793.4 603.3,785.8 603.7,783.7 604.1,763.1 604.6,763.4 605.0,781.3 605.4,774.6 605.8,774.4 606.2,782.8 606.6,787.8 607.0,810.7 607.4,769.9 607.8,781.9 608.2,805.1 608.6,771.2 609.0,785.8 609.5,767.5 609.9,792.5 610.3,771.1 610.7,785.4 611.1,787.7 611.5,773.9 611.9,762.9 612.3,769.5 612.7,780.0 613.1,784.1 613.5,786.6 613.9,768.3 614.3,792.8 614.8,783.0 615.2,777.6 615.6,770.8 616.0,766.7 616.4,753.4 616.8,771.0 617.2,776.0 617.6,793.5 618.0,784.9 618.4,763.9 618.8,783.6 619.2,764.8 619.7,799.2 620.1,805.0 620.5,780.7 620.9,770.8 621.3,791.5 621.7,781.4 622.1,782.4 622.5,779.5 622.9,769.2 623.3,783.4 623.7,789.8 624.1,778.6 624.5,772.5 625.0,772.0 625.4,783.7 625.8,786.9 626.2,772.6 626.6,762.1 627.0,779.7 627.4,771.7 627.8,777.2 628.2,796.1 628.6,789.7 629.0,753.4 629.4,764.4 629.9,774.7 630.3,755.7 630.7,752.4 631.1,769.2 631.5,768.0 631.9,769.4 632.3,775.4 632.7,764.6 633.1,769.6 633.5,770.0 633.9,782.4 634.3,749.6 634.7,775.7 635.2,750.2 635.6,754.0 636.0,773.8 636.4,773.9 636.8,773.4 637.2,768.9 637.6,770.3 638.0,761.2 638.4,771.3 638.8,784.0 639.2,746.5 639.6,766.1 640.1,760.7 640.5,751.6 640.9,765.3 641.3,767.1 641.7,738.1 642.1,743.7 642.5,768.1 642.9,766.1 643.3,783.9 643.7,764.3 644.1,782.0 644.5,764.4 644.9,756.3 645.4,771.7 645.8,765.3 646.2,768.2 646.6,742.1 647.0,773.8 647.4,768.3 647.8,772.3 648.2,774.4 648.6,788.1 649.0,769.3 649.4,768.7 649.8,780.6 650.3,782.7 650.7,774.1 651.1,767.4 651.5,765.5 651.9,763.9 652.3,763.2 652.7,780.2 653.1,765.7 653.5,777.8 653.9,762.6 654.3,781.9 654.7,770.8 655.1,786.6 655.6,778.4 656.0,776.1 656.4,765.6 656.8,766.8 657.2,768.8 657.6,770.5 658.0,765.0 658.4,779.1 658.8,779.9 659.2,770.5 659.6,790.9 660.0,773.6 660.5,758.1 660.9,771.3 661.3,774.8 661.7,770.4 662.1,777.0 662.5,764.2 662.9,772.7 663.3,773.2 663.7,778.1 664.1,769.2 664.5,767.3 664.9,774.0 665.3,778.0 665.8,772.0 666.2,773.3 666.6,762.4 667.0,791.3 667.4,764.6 667.8,804.5 668.2,774.4 668.6,790.9 669.0,772.1 669.4,782.2 669.8,779.2 670.2,774.1 670.7,764.6 671.1,773.0 671.5,763.1 671.9,794.1 672.3,768.3 672.7,797.7 673.1,776.9 673.5,760.7 673.9,800.2 674.3,791.6 674.7,776.0 675.1,774.2 675.5,773.8 676.0,791.7 676.4,766.2 676.8,775.3 677.2,792.0 677.6,802.2 678.0,774.8 678.4,776.3 678.8,773.7 679.2,791.8 679.6,773.6 680.0,779.7 680.4,787.4 680.9,789.5 681.3,791.3 681.7,774.5 682.1,784.6 682.5,787.2 682.9,792.3 683.3,799.3 683.7,793.9 684.1,776.4 684.5,786.8 684.9,773.0 685.3,799.7 685.7,783.0 686.2,783.7 686.6,788.7 687.0,779.9 687.4,793.2 687.8,793.6 688.2,788.5 688.6,786.6 689.0,751.4 689.4,782.0 689.8,792.0 690.2,789.5 690.6,749.4 691.1,793.6 691.5,796.8 691.9,779.4 692.3,776.9 692.7,787.6 693.1,775.8 693.5,775.6 693.9,772.5 694.3,800.1 694.7,787.4 695.1,780.2 695.5,775.0 695.9,793.6 696.4,782.7 696.8,784.1 697.2,786.2 697.6,783.9 698.0,792.1 698.4,799.5 698.8,774.7 699.2,778.5 699.6,793.4 700.0,779.9 700.4,788.9 700.8,804.9 701.3,795.5 701.7,801.8 702.1,802.9 702.5,802.6 702.9,794.2 703.3,807.6 703.7,785.8 704.1,786.0 704.5,798.8 704.9,783.9 705.3,794.1 705.7,787.8 706.1,804.2 706.6,799.6 707.0,805.2 707.4,788.8 707.8,775.6 708.2,806.6 708.6,811.2 709.0,786.0 709.4,783.3 709.8,776.0 710.2,807.0 710.6,781.9 711.0,797.4 711.5,797.5 711.9,789.0 712.3,792.8 712.7,790.2 713.1,803.4 713.5,809.8 713.9,809.2 714.3,780.4 714.7,782.4 715.1,790.4 715.5,799.7 715.9,803.2 716.3,774.0 716.8,797.0 717.2,804.7 717.6,796.3 718.0,794.9 718.4,777.3 718.8,811.5 719.2,801.6 719.6,792.7 720.0,791.5 720.4,805.3 720.8,809.7 721.2,794.8 721.7,783.2 722.1,802.4 722.5,789.9 722.9,795.8 723.3,794.4 723.7,786.1 724.1,810.7 724.5,784.9 724.9,812.1 725.3,788.9 725.7,795.5 726.1,797.9 726.5,802.3 727.0,788.0 727.4,817.0 727.8,796.9 728.2,815.6 728.6,807.8 729.0,799.0 729.4,791.7 729.8,804.0 730.2,803.9 730.6,791.7 731.0,798.4 731.4,806.7 731.9,810.8 732.3,798.8 732.7,798.2 733.1,791.6 733.5,787.2 733.9,809.2 734.3,802.0 734.7,797.0 735.1,812.1 735.5,808.6 735.9,782.6 736.3,776.2 736.7,800.4 737.2,793.8 737.6,808.8 738.0,787.2 738.4,805.9 738.8,805.2 739.2,788.1 739.6,820.9 740.0,791.8 740.4,800.5 740.8,794.9 741.2,795.3 741.6,790.1 742.1,792.1 742.5,803.8 742.9,782.8 743.3,798.1 743.7,799.6 744.1,800.2 744.5,799.7 744.9,819.3 745.3,800.0 745.7,798.6 746.1,792.5 746.5,813.4 746.9,812.9 747.4,790.3 747.8,789.6 748.2,789.7 748.6,809.7 749.0,802.3 749.4,807.4 749.8,790.4 750.2,799.5 750.6,800.2 751.0,811.1 751.4,792.1 751.8,773.7 752.3,797.5 752.7,811.2 753.1,818.2 753.5,779.3 753.9,805.6 754.3,808.7 754.7,802.7 755.1,796.3 755.5,805.5 755.9,800.4 756.3,816.3 756.7,794.8 757.1,819.3 757.6,801.0 758.0,795.5 758.4,811.7 758.8,801.6 759.2,810.0 759.6,807.0 760.0,797.1 760.4,799.1 760.8,821.3 761.2,790.8 761.6,805.8 762.0,813.6 762.5,808.6 762.9,814.3 763.3,793.5 763.7,809.9 764.1,813.0 764.5,785.7 764.9,806.6 765.3,797.6 765.7,795.8 766.1,810.0 766.5,805.5 766.9,815.2 767.3,806.3 767.8,784.6 768.2,796.3 768.6,805.7 769.0,809.6 769.4,796.3 769.8,807.6 770.2,795.5 770.6,814.3 771.0,804.7 771.4,806.1 771.8,776.2 772.2,802.7 772.7,803.9 773.1,794.6 773.5,796.4 773.9,809.0 774.3,795.7 774.7,803.8 775.1,781.9 775.5,807.9 775.9,783.0 776.3,782.9 776.7,801.9 777.1,793.9 777.5,789.0 778.0,805.1 778.4,798.5 778.8,815.3 779.2,802.7 779.6,813.2 780.0,793.2 780.4,804.2 780.8,830.3 781.2,806.8 781.6,794.4 782.0,797.8 782.4,798.9 782.9,807.5 783.3,782.3 783.7,810.7 784.1,806.0 784.5,799.6 784.9,810.6 785.3,779.9 785.7,819.4 786.1,804.2 786.5,812.1 786.9,794.1 787.3,806.9 787.7,803.1 788.2,812.7 788.6,791.0 789.0,824.5 789.4,806.6 789.8,819.5 790.2,805.6 790.6,804.5 791.0,804.7 791.4,813.8 791.8,810.8 792.2,795.6 792.6,798.7 793.1,809.0 793.5,793.2 793.9,808.8 794.3,797.8 794.7,813.4 795.1,809.1 795.5,809.6 795.9,802.3 796.3,815.1 796.7,801.8 797.1,818.7 797.5,793.6 797.9,807.8 798.4,800.5 798.8,819.3 799.2,812.6 799.6,812.7 800.0,799.2 800.4,804.9 800.8,795.3 801.2,797.6 801.6,818.3 802.0,794.4 802.4,808.7 802.8,814.2 803.3,811.9 803.7,821.0 804.1,789.6 804.5,815.5 804.9,821.8 805.3,796.0 805.7,805.2 806.1,803.0 806.5,798.6 806.9,812.5 807.3,798.1 807.7,808.3 808.1,810.3 808.6,790.7 809.0,797.7 809.4,803.2 809.8,818.5 810.2,805.2 810.6,808.0 811.0,789.5 811.4,827.2 811.8,808.2 812.2,813.1 812.6,819.1 813.0,811.6 813.5,800.5 813.9,798.4 814.3,821.1 814.7,792.4 815.1,816.9 815.5,825.1 815.9,802.7 816.3,803.3 816.7,813.9 817.1,813.2 817.5,810.1 817.9,835.2 818.3,804.2 818.8,820.7 819.2,833.0 819.6,810.4 820.0,801.4 820.4,830.2 820.8,804.8 821.2,819.9 821.6,794.2 822.0,810.0 822.4,786.3 822.8,792.2 823.2,793.1 823.7,804.3 824.1,812.5 824.5,816.1 824.9,800.7 825.3,787.6 825.7,771.8 826.1,806.5 826.5,800.6 826.9,798.5 827.3,812.4 827.7,811.3 828.1,818.7 828.5,817.6 829.0,818.0 829.4,803.7 829.8,796.1 830.2,794.0 830.6,800.3 831.0,805.2 831.4,785.9 831.8,799.4 832.2,804.7 832.6,815.5 833.0,798.0 833.4,797.6 833.9,796.7 834.3,812.4 834.7,783.0 835.1,806.4 835.5,786.7 835.9,796.1 836.3,807.8 836.7,793.5 837.1,795.3 837.5,784.7 837.9,776.1 838.3,802.3 838.7,782.7 839.2,783.2 839.6,771.9 840.0,769.3 840.4,764.2 840.8,760.3 841.2,737.2 841.6,733.5 842.0,732.9 842.4,717.8 842.8,711.8 843.2,696.8 843.6,698.0 844.1,684.7 844.5,659.7 844.9,669.1 845.3,684.9 845.7,710.5 846.1,674.8 846.5,666.4 846.9,702.4 847.3,729.5 847.7,705.3 848.1,720.9 848.5,731.6 848.9,759.0 849.4,735.3 849.8,774.0 850.2,775.5 850.6,783.0 851.0,789.0 851.4,804.0 851.8,812.6 852.2,793.9 852.6,808.2 853.0,821.3 853.4,803.6 853.8,826.4 854.3,827.0 854.7,819.7 855.1,806.6 855.5,812.1 855.9,816.9 856.3,825.9 856.7,822.3 857.1,822.2 857.5,829.5 857.9,822.2 858.3,820.8 858.7,822.8 859.1,824.7 859.6,818.6 860.0,814.8 860.4,819.7 860.8,824.1 861.2,808.2 861.6,819.5 862.0,817.3 862.4,810.1 862.8,832.4 863.2,819.2 863.6,801.4 864.0,834.0 864.5,826.8 864.9,797.9 865.3,828.5 865.7,827.1 866.1,823.1 866.5,831.0 866.9,818.2 867.3,832.6 867.7,817.0 868.1,824.5 868.5,820.9 868.9,823.9 869.3,821.4 869.8,813.5 870.2,825.2 870.6,819.9 871.0,825.4 871.4,810.2 871.8,830.1 872.2,810.8 872.6,810.9 873.0,817.0 873.4,832.4 873.8,823.4 874.2,821.7 874.7,825.7 875.1,816.3 875.5,822.6 875.9,828.2 876.3,821.5 876.7,810.3 877.1,836.9 877.5,822.9 877.9,807.6 878.3,814.5 878.7,852.5 879.1,824.0 879.5,812.3 880.0,805.8 880.4,808.3 880.8,820.5 881.2,829.3 881.6,827.1 882.0,822.6 882.4,823.9 882.8,822.3 883.2,819.9 883.6,827.2 884.0,817.1 884.4,825.3 884.9,797.3 885.3,803.2 885.7,823.6 886.1,816.8 886.5,804.8 886.9,833.2 887.3,836.7 887.7,817.5 888.1,819.3 888.5,809.4 888.9,800.9 889.3,814.6 889.7,808.8 890.2,815.5 890.6,813.6 891.0,811.5 891.4,815.9 891.8,828.9 892.2,805.8 892.6,816.0 893.0,826.7 893.4,819.7 893.8,816.4 894.2,813.0 894.6,807.0 895.1,808.6 895.5,822.7 895.9,811.4 896.3,828.1 896.7,824.4 897.1,819.5 897.5,824.2 897.9,813.5 898.3,831.2 898.7,810.5 899.1,820.7 899.5,815.3 899.9,814.3 900.4,807.3 900.8,815.0 901.2,805.9 901.6,822.0 902.0,812.9 902.4,818.0 902.8,808.4 903.2,810.8 903.6,811.0 904.0,804.9 904.4,809.5 904.8,798.5 905.3,802.9 905.7,814.7 906.1,796.1 906.5,786.2 906.9,810.5 907.3,823.1 907.7,804.8 908.1,808.2 908.5,808.5 908.9,819.0 909.3,800.3 909.7,811.2 910.1,811.7 910.6,828.5 911.0,815.1 911.4,810.5 911.8,806.6 912.2,806.3 912.6,799.5 913.0,805.6 913.4,813.1 913.8,818.8 914.2,811.9 914.6,826.0 915.0,820.1 915.5,823.6 915.9,842.1 916.3,819.7 916.7,828.4 917.1,835.7 917.5,819.1 917.9,822.5 918.3,828.5 918.7,828.6 919.1,831.4 919.5,831.8 919.9,836.6 920.3,827.1 920.8,824.0 921.2,832.6 921.6,838.4 922.0,825.1 922.4,836.3 922.8,834.4 923.2,832.4 923.6,832.5 924.0,839.4 924.4,838.5 924.8,840.0 925.2,832.4 925.7,837.3 926.1,838.6 926.5,837.0 926.9,827.4 927.3,845.8 927.7,845.0 928.1,835.9 928.5,847.0 928.9,828.4 929.3,836.8 929.7,828.0 930.1,820.4 930.5,836.6 931.0,831.9 931.4,835.4 931.8,844.9 932.2,848.1 932.6,838.8 933.0,840.4 933.4,843.8 933.8,838.9 934.2,830.2 934.6,841.2 935.0,838.2 935.4,856.4 935.9,832.1 936.3,846.6 936.7,847.0 937.1,835.0 937.5,852.3 937.9,849.8 938.3,851.4 938.7,850.7 939.1,840.2 939.5,827.4 939.9,847.7 940.3,843.6 940.7,824.9 941.2,824.9 941.6,830.2 942.0,833.1 942.4,830.2 942.8,827.9 943.2,829.7 943.6,839.2 944.0,841.9 944.4,831.3 944.8,841.8 945.2,827.4 945.6,819.7 946.1,837.4 946.5,831.7 946.9,829.1 947.3,832.4 947.7,840.9 948.1,841.9 948.5,830.1 948.9,827.4 949.3,836.8 949.7,826.3 950.1,817.4 950.5,811.6 950.9,811.0 951.4,809.5 951.8,808.9 952.2,801.1 952.6,822.6 953.0,831.1 953.4,811.7 953.8,805.9 954.2,821.2 954.6,797.5 955.0,811.0 955.4,820.4 955.8,832.8 956.3,838.3 956.7,832.3 957.1,841.0 957.5,828.8 957.9,830.9 958.3,835.4 958.7,844.8 959.1,838.7 959.5,848.6 959.9,831.4 960.3,843.6 960.7,848.1 961.1,834.6 961.6,850.1 962.0,840.2 962.4,835.2 962.8,846.4 963.2,837.8 963.6,847.5 964.0,824.5 964.4,841.0 964.8,848.6 965.2,827.1 965.6,856.2 966.0,838.0 966.5,853.3 966.9,838.1 967.3,848.8 967.7,847.9 968.1,845.5 968.5,828.6 968.9,846.5 969.3,827.6 969.7,843.8 970.1,843.2 970.5,839.1 970.9,841.2 971.3,833.5 971.8,851.8 972.2,840.5 972.6,851.7 973.0,859.2 973.4,849.9 973.8,853.1 974.2,834.3 974.6,832.3 975.0,847.9 975.4,832.3 975.8,852.2 976.2,839.7 976.7,858.2 977.1,844.3 977.5,844.5 977.9,860.7 978.3,851.1 978.7,849.0 979.1,851.4 979.5,837.0 979.9,831.1 980.3,857.5 980.7,837.0 981.1,841.8 981.5,831.8 982.0,848.4 982.4,826.8 982.8,841.9 983.2,848.6 983.6,850.5 984.0,850.8 984.4,839.5 984.8,846.2 985.2,835.6 985.6,848.4 986.0,853.7 986.4,842.0 986.9,852.5 987.3,845.7 987.7,840.6 988.1,845.3 988.5,841.7 988.9,841.2 989.3,840.9 989.7,863.1 990.1,838.2 990.5,842.6 990.9,852.5 991.3,836.8 991.7,841.1 992.2,848.6 992.6,838.7 993.0,842.2 993.4,837.2 993.8,837.8 994.2,835.6 994.6,827.2 995.0,848.1 995.4,840.7 995.8,837.6 996.2,831.9 996.6,836.3 997.1,837.8 997.5,821.8 997.9,848.0 998.3,839.7 998.7,832.7 999.1,838.3 999.5,839.6 999.9,845.1 1000.3,838.6 1000.7,849.9 1001.1,836.0 1001.5,847.5 1001.9,837.6 1002.4,838.9 1002.8,847.6 1003.2,845.0 1003.6,840.4 1004.0,846.1 1004.4,838.4 1004.8,833.7 1005.2,850.6 1005.6,841.9 1006.0,824.6 1006.4,842.9 1006.8,839.4 1007.3,848.9 1007.7,842.2 1008.1,852.3 1008.5,848.7 1008.9,826.0 1009.3,858.3 1009.7,846.1 1010.1,846.4 1010.5,855.8 1010.9,837.3 1011.3,842.0 1011.7,833.6 1012.1,853.2 1012.6,850.2 1013.0,851.9 1013.4,827.5 1013.8,824.8 1014.2,845.7 1014.6,859.6 1015.0,848.4 1015.4,842.5 1015.8,842.8 1016.2,830.5 1016.6,852.2 1017.0,840.1 1017.5,838.6 1017.9,841.3 1018.3,836.4 1018.7,830.5 1019.1,837.4 1019.5,844.2 1019.9,836.9 1020.3,837.7 1020.7,852.1 1021.1,850.7 1021.5,842.0 1021.9,843.9 1022.3,864.6 1022.8,822.2 1023.2,868.0 1023.6,848.5 1024.0,838.9 1024.4,836.9 1024.8,833.8 1025.2,835.3 1025.6,839.7 1026.0,853.3 1026.4,848.9 1026.8,841.8 1027.2,854.3 1027.7,836.1 1028.1,848.9 1028.5,840.6 1028.9,851.5 1029.3,831.6 1029.7,835.6 1030.1,854.7 1030.5,839.5 1030.9,847.4 1031.3,844.5 1031.7,847.4 1032.1,826.2 1032.5,829.1 1033.0,822.0 1033.4,840.3 1033.8,821.5 1034.2,846.5 1034.6,829.9 1035.0,831.0 1035.4,843.7 1035.8,854.6 1036.2,843.5 1036.6,836.2 1037.0,852.9 1037.4,837.7 1037.9,835.5 1038.3,831.4 1038.7,835.2 1039.1,846.2 1039.5,831.3 1039.9,841.8 1040.3,830.3 1040.7,844.2 1041.1,825.7 1041.5,841.1 1041.9,846.3 1042.3,825.5 1042.7,835.4 1043.2,832.3 1043.6,838.9 1044.0,847.1 1044.4,834.8 1044.8,828.2 1045.2,864.3 1045.6,837.8 1046.0,838.7 1046.4,842.0 1046.8,849.2 1047.2,833.2 1047.6,842.1 1048.1,840.3 1048.5,846.4 1048.9,833.2 1049.3,834.1 1049.7,830.1 1050.1,846.2 1050.5,838.8 1050.9,852.3 1051.3,831.3 1051.7,856.2 1052.1,831.3 1052.5,840.4 1052.9,849.7 1053.4,834.2 1053.8,845.5 1054.2,852.0 1054.6,818.5 1055.0,828.2 1055.4,839.0 1055.8,837.1 1056.2,842.4 1056.6,845.1 1057.0,823.8 1057.4,846.2 1057.8,843.5 1058.3,832.8 1058.7,844.0 1059.1,846.8 1059.5,835.3 1059.9,834.3 1060.3,842.3 1060.7,842.1 1061.1,854.2 1061.5,831.7 1061.9,830.8 1062.3,834.7 1062.7,851.8 1063.1,846.4 1063.6,856.5 1064.0,829.2 1064.4,833.5 1064.8,838.9 1065.2,848.8 1065.6,830.8 1066.0,840.9 1066.4,840.0 1066.8,838.2 1067.2,838.5 1067.6,845.0 1068.0,847.3 1068.5,834.3 1068.9,847.7 1069.3,846.2 1069.7,843.0 1070.1,832.2 1070.5,846.5 1070.9,833.8 1071.3,836.0 1071.7,850.6 1072.1,849.1 1072.5,845.8 1072.9,843.5 1073.3,850.3 1073.8,843.0 1074.2,847.1 1074.6,829.2 1075.0,822.8 1075.4,839.2 1075.8,837.7 1076.2,831.8 1076.6,846.1 1077.0,833.8 1077.4,846.2 1077.8,854.6 1078.2,835.5 1078.7,838.1 1079.1,835.2 1079.5,820.6 1079.9,835.6 1080.3,833.1 1080.7,834.2 1081.1,832.4 1081.5,832.9 1081.9,845.9 1082.3,835.7 1082.7,821.5 1083.1,845.2 1083.5,844.4 1084.0,848.0 1084.4,838.5 1084.8,836.5 1085.2,843.4 1085.6,842.7 1086.0,835.6 1086.4,841.3 1086.8,843.8 1087.2,855.2 1087.6,839.2 1088.0,841.3 1088.4,822.1 1088.9,831.6 1089.3,828.5 1089.7,825.5 1090.1,818.3 1090.5,846.6 1090.9,847.0 1091.3,837.5 1091.7,830.2 1092.1,832.8 1092.5,841.5 1092.9,834.7 1093.3,824.3 1093.7,833.2 1094.2,827.7 1094.6,835.2 1095.0,834.6 1095.4,841.8 1095.8,841.5 1096.2,831.7 1096.6,837.7 1097.0,834.0 1097.4,849.3 1097.8,843.9 1098.2,840.1 1098.6,838.4 1099.1,830.4 1099.5,832.8 1099.9,827.9 1100.3,850.0 1100.7,850.6 1101.1,848.2 1101.5,835.2 1101.9,822.2 1102.3,850.4 1102.7,842.3 1103.1,837.6 1103.5,835.7 1103.9,847.7 1104.4,838.9 1104.8,845.1 1105.2,821.7 1105.6,842.0 1106.0,833.9 1106.4,842.9 1106.8,847.1 1107.2,852.5 1107.6,837.0 1108.0,841.6 1108.4,847.9 1108.8,835.9 1109.3,842.9 1109.7,835.4 1110.1,831.4 1110.5,850.7 1110.9,836.5 1111.3,837.5 1111.7,844.0 1112.1,839.6 1112.5,834.0 1112.9,863.0 1113.3,850.0 1113.7,836.9 1114.1,844.8 1114.6,826.1 1115.0,828.0 1115.4,848.9 1115.8,847.2 1116.2,843.2 1116.6,840.0 1117.0,843.8 1117.4,838.1 1117.8,846.7 1118.2,849.0 1118.6,835.4 1119.0,847.3 1119.5,840.2 1119.9,838.9 1120.3,836.8 1120.7,845.6 1121.1,838.3 1121.5,842.3 1121.9,840.6 1122.3,829.7 1122.7,828.6 1123.1,849.9 1123.5,837.0 1123.9,845.9 1124.3,838.1 1124.8,846.0 1125.2,839.8 1125.6,843.8 1126.0,843.7 1126.4,848.8 1126.8,850.5 1127.2,855.1 1127.6,829.4 1128.0,848.5 1128.4,829.6 1128.8,836.9 1129.2,836.5 1129.7,846.3 1130.1,851.0 1130.5,840.9 1130.9,850.1 1131.3,841.4 1131.7,845.6 1132.1,835.7 1132.5,842.6 1132.9,838.5 1133.3,823.4 1133.7,845.8 1134.1,848.6 1134.5,822.5 1135.0,842.0 1135.4,844.9 1135.8,852.5 1136.2,836.7 1136.6,851.2 1137.0,845.5 1137.4,854.6 1137.8,839.4 1138.2,831.8 1138.6,843.0 1139.0,840.8 1139.4,830.4 1139.9,833.1 1140.3,844.1 1140.7,841.0 1141.1,845.3 1141.5,850.4 1141.9,836.8 1142.3,830.6 1142.7,829.2 1143.1,841.5 1143.5,845.8 1143.9,838.2 1144.3,839.9 1144.7,831.9 1145.2,819.4 1145.6,830.3 1146.0,845.6 1146.4,845.6 1146.8,836.2 1147.2,846.3 1147.6,856.7 1148.0,849.7 1148.4,846.1 1148.8,863.4 1149.2,836.0 1149.6,841.6 1150.1,848.0 1150.5,822.7 1150.9,829.7 1151.3,840.8 1151.7,857.0 1152.1,846.4 1152.5,840.7 1152.9,844.6 1153.3,837.0 1153.7,835.5 1154.1,834.0 1154.5,853.5 1154.9,839.7 1155.4,842.9 1155.8,828.1 1156.2,835.2 1156.6,833.0 1157.0,842.4 1157.4,843.7 1157.8,834.9 1158.2,840.6 1158.6,839.8 1159.0,829.1 1159.4,834.2 1159.8,842.0 1160.3,850.9 1160.7,835.3 1161.1,831.7 1161.5,846.5 1161.9,839.6 1162.3,851.6 1162.7,836.0 1163.1,851.0 1163.5,845.8 1163.9,833.2 1164.3,844.6 1164.7,840.7 1165.1,840.8 1165.6,850.5 1166.0,821.7 1166.4,828.5 1166.8,838.4 1167.2,829.1 1167.6,837.4 1168.0,830.2 1168.4,845.7 1168.8,826.5 1169.2,841.2 1169.6,843.0 1170.0,838.1 1170.5,847.6 1170.9,829.9 1171.3,828.9 1171.7,834.4 1172.1,822.7 1172.5,853.0 1172.9,829.4 1173.3,832.1 1173.7,823.6 1174.1,818.1 1174.5,838.7 1174.9,829.1 1175.3,825.0 1175.8,845.5 1176.2,833.0 1176.6,837.6 1177.0,819.4 1177.4,844.8 1177.8,826.4 1178.2,830.1 1178.6,832.1 1179.0,821.0 1179.4,827.4 1179.8,833.2 1180.2,822.6 1180.7,835.6 1181.1,841.1 1181.5,817.1 1181.9,833.0 1182.3,818.5 1182.7,832.1 1183.1,831.4 1183.5,844.5 1183.9,836.6 1184.3,839.8 1184.7,844.6 1185.1,837.3 1185.5,832.3 1186.0,846.0 1186.4,816.5 1186.8,827.8 1187.2,834.5 1187.6,855.5 1188.0,855.0 1188.4,835.5 1188.8,836.2 1189.2,832.6 1189.6,845.6 1190.0,834.3 1190.4,839.7 1190.9,835.3 1191.3,837.2 1191.7,827.0 1192.1,845.0 1192.5,833.6 1192.9,850.2 1193.3,845.5 1193.7,854.0 1194.1,845.7 1194.5,836.4 1194.9,832.1 1195.3,825.7 1195.7,834.6 1196.2,842.4 1196.6,846.0 1197.0,841.9 1197.4,843.0 1197.8,826.4 1198.2,829.9 1198.6,836.4 1199.0,837.8 1199.4,841.1 1199.8,842.0 1200.2,841.0 1200.6,838.9 1201.1,848.7 1201.5,845.6 1201.9,829.4 1202.3,820.4 1202.7,844.7 1203.1,820.6 1203.5,843.2 1203.9,850.2 1204.3,842.7 1204.7,835.0 1205.1,839.4 1205.5,845.1 1205.9,834.6 1206.4,846.6 1206.8,835.3 1207.2,830.6 1207.6,826.7 1208.0,832.7 1208.4,849.1 1208.8,835.6 1209.2,843.6 1209.6,853.4 1210.0,825.5 1210.4,832.9 1210.8,835.9 1211.3,841.3 1211.7,844.8 1212.1,826.7 1212.5,841.3 1212.9,829.7 1213.3,840.7 1213.7,824.9 1214.1,830.7 1214.5,845.5 1214.9,837.4 1215.3,839.6 1215.7,832.1 1216.1,851.3 1216.6,834.3 1217.0,830.5 1217.4,840.9 1217.8,854.1 1218.2,834.8 1218.6,836.7 1219.0,826.4 1219.4,835.1 1219.8,845.4 1220.2,825.6 1220.6,858.0 1221.0,849.2 1221.5,831.4 1221.9,837.1 1222.3,844.9 1222.7,840.5 1223.1,846.0 1223.5,839.1 1223.9,829.2 1224.3,841.7 1224.7,844.9 1225.1,841.1 1225.5,842.1 1225.9,851.4 1226.3,843.5 1226.8,836.3 1227.2,849.8 1227.6,851.6 1228.0,848.1 1228.4,826.7 1228.8,827.8 1229.2,847.3 1229.6,832.7 1230.0,848.9 1230.4,837.0 1230.8,856.1 1231.2,837.4 1231.7,837.5 1232.1,835.0 1232.5,837.5 1232.9,836.1 1233.3,842.0 1233.7,841.6 1234.1,839.0 1234.5,845.3 1234.9,845.2 1235.3,848.5 1235.7,847.2 1236.1,846.8 1236.5,834.6 1237.0,838.3 1237.4,825.1 1237.8,838.0 1238.2,838.1 1238.6,847.5 1239.0,836.8 1239.4,835.0 1239.8,837.5 1240.2,834.6 1240.6,832.6 1241.0,823.8 1241.4,835.0 1241.9,850.8 1242.3,842.2 1242.7,828.6 1243.1,853.4 1243.5,835.0 1243.9,834.8 1244.3,837.7 1244.7,846.1 1245.1,830.7 1245.5,851.6 1245.9,847.5 1246.3,821.8 1246.7,835.9 1247.2,843.0 1247.6,854.5 1248.0,841.8 1248.4,829.7 1248.8,822.0 1249.2,820.3 1249.6,851.0 1250.0,822.1 1250.4,837.4 1250.8,836.7 1251.2,842.0 1251.6,831.3 1252.1,834.5 1252.5,827.1 1252.9,821.5 1253.3,828.3 1253.7,823.1 1254.1,842.0 1254.5,838.3 1254.9,820.2 1255.3,830.7 1255.7,840.7 1256.1,827.4 1256.5,816.7 1256.9,830.8 1257.4,831.6 1257.8,829.4 1258.2,836.5 1258.6,831.6 1259.0,831.5 1259.4,825.7 1259.8,834.5 1260.2,840.1 1260.6,836.9 1261.0,841.2 1261.4,831.7 1261.8,830.5 1262.3,823.3 1262.7,839.0 1263.1,828.7 1263.5,837.8 1263.9,827.4 1264.3,836.8 1264.7,826.9 1265.1,829.9 1265.5,828.3 1265.9,825.0 1266.3,828.0 1266.7,827.5 1267.1,841.6 1267.6,828.7 1268.0,828.9 1268.4,830.5 1268.8,835.8 1269.2,823.2 1269.6,835.6 1270.0,830.2 1270.4,847.0 1270.8,830.3 1271.2,830.0 1271.6,820.7 1272.0,837.9 1272.5,826.5 1272.9,823.8 1273.3,819.0 1273.7,824.0 1274.1,834.2 1274.5,826.9 1274.9,841.4 1275.3,843.2 1275.7,827.6 1276.1,828.4 1276.5,840.4 1276.9,851.8 1277.3,840.5 1277.8,843.4 1278.2,816.6 1278.6,823.0 1279.0,832.9 1279.4,829.1 1279.8,831.6 1280.2,838.5 1280.6,831.3 1281.0,839.3 1281.4,845.3 1281.8,836.1 1282.2,830.2 1282.7,826.0 1283.1,832.0 1283.5,838.7 1283.9,834.5 1284.3,846.9 1284.7,817.4 1285.1,828.0 1285.5,845.2 1285.9,826.8 1286.3,825.2 1286.7,832.3 1287.1,836.7 1287.5,834.8 1288.0,833.2 1288.4,822.4 1288.8,849.9 1289.2,848.3 1289.6,827.4 1290.0,841.1 1290.4,835.7 1290.8,832.3 1291.2,843.6 1291.6,829.2 1292.0,833.1 1292.4,844.6 1292.9,840.3 1293.3,829.7 1293.7,838.7 1294.1,851.5 1294.5,825.6 1294.9,824.6 1295.3,829.5 1295.7,819.1 1296.1,819.7 1296.5,799.7 1296.9,809.3 1297.3,797.0 1297.7,788.1 1298.2,801.1 1298.6,783.4 1299.0,802.9 1299.4,789.3 1299.8,779.2 1300.2,784.9 1300.6,786.9 1301.0,794.6 1301.4,804.7 1301.8,807.6 1302.2,818.0 1302.6,808.9 1303.1,826.3 1303.5,826.4 1303.9,837.4 1304.3,836.2 1304.7,848.9 1305.1,832.0 1305.5,848.9 1305.9,835.7 1306.3,847.6 1306.7,844.3 1307.1,827.7 1307.5,854.6 1307.9,847.8 1308.4,832.8 1308.8,832.5 1309.2,821.9 1309.6,852.7 1310.0,836.2 1310.4,842.3 1310.8,828.9 1311.2,844.1 1311.6,849.5 1312.0,850.1 1312.4,842.7 1312.8,836.6 1313.3,841.5 1313.7,834.8 1314.1,827.3 1314.5,825.6 1314.9,843.1 1315.3,852.6 1315.7,842.8 1316.1,845.0 1316.5,842.2 1316.9,831.7 1317.3,852.2 1317.7,834.5 1318.1,853.5 1318.6,836.6 1319.0,827.5 1319.4,844.2 1319.8,833.9 1320.2,855.4 1320.6,840.8 1321.0,837.2 1321.4,846.1 1321.8,851.8 1322.2,835.0 1322.6,846.5 1323.0,837.0 1323.5,843.5 1323.9,837.9 1324.3,835.7 1324.7,841.3 1325.1,844.8 1325.5,836.0 1325.9,839.6 1326.3,835.7 1326.7,834.3 1327.1,823.4 1327.5,832.3 1327.9,851.7 1328.3,847.6 1328.8,857.0 1329.2,835.7 1329.6,846.6 1330.0,840.7 1330.4,847.0 1330.8,838.5 1331.2,852.6 1331.6,852.9 1332.0,822.7 1332.4,857.5 1332.8,856.9 1333.2,831.2 1333.7,844.5 1334.1,834.0 1334.5,841.4 1334.9,848.4 1335.3,843.6 1335.7,839.6 1336.1,843.1 1336.5,856.8 1336.9,834.0 1337.3,833.9 1337.7,847.4 1338.1,846.6 1338.5,844.0 1339.0,851.6 1339.4,841.6 1339.8,832.2 1340.2,830.8 1340.6,846.5 1341.0,843.3 1341.4,835.5 1341.8,841.7 1342.2,846.2 1342.6,846.7 1343.0,832.8 1343.4,833.9 1343.9,842.3 1344.3,843.2 1344.7,851.9 1345.1,841.6 1345.5,837.9 1345.9,842.6 1346.3,839.2 1346.7,850.3 1347.1,839.0 1347.5,848.1 1347.9,849.2 1348.3,833.2 1348.7,848.7 1349.2,843.0 1349.6,840.8 1350.0,856.3 1350.4,839.6 1350.8,842.8 1351.2,830.2 1351.6,848.4 1352.0,840.4 1352.4,837.5 1352.8,848.1 1353.2,855.5 1353.6,842.2 1354.1,859.6 1354.5,846.3 1354.9,839.4 1355.3,850.8 1355.7,838.9 1356.1,853.1 1356.5,844.8 1356.9,837.8 1357.3,839.6 1357.7,840.7 1358.1,848.1 1358.5,836.9 1358.9,847.6 1359.4,844.2 1359.8,840.7 1360.2,850.5 1360.6,840.1 1361.0,847.1 1361.4,839.4 1361.8,844.3 1362.2,832.5 1362.6,838.4 1363.0,842.1 1363.4,840.4 1363.8,829.4 1364.3,835.2 1364.7,840.9 1365.1,835.6 1365.5,842.8 1365.9,825.8 1366.3,838.2 1366.7,846.8 1367.1,841.6 1367.5,847.7 1367.9,831.5 1368.3,837.6 1368.7,836.1 1369.1,840.1 1369.6,830.1 1370.0,840.7 1370.4,848.0 1370.8,851.8 1371.2,855.2 1371.6,830.9 1372.0,835.5 1372.4,831.7 1372.8,832.1 1373.2,841.9 1373.6,853.2 1374.0,842.3 1374.5,842.8 1374.9,844.1 1375.3,842.2 1375.7,840.1 1376.1,835.3 1376.5,838.5 1376.9,831.9 1377.3,835.0 1377.7,846.5 1378.1,833.5 1378.5,830.0 1378.9,844.4 1379.3,834.5 1379.8,841.7 1380.2,836.7 1380.6,840.3 1381.0,833.5 1381.4,832.4 1381.8,836.8 1382.2,850.2 1382.6,843.8 1383.0,835.3 1383.4,841.6 1383.8,840.3 1384.2,832.7 1384.7,839.3 1385.1,846.0 1385.5,833.8 1385.9,833.8 1386.3,829.4 1386.7,825.2 1387.1,832.3 1387.5,832.4 1387.9,832.7 1388.3,831.4 1388.7,847.6 1389.1,838.6 1389.5,837.4 1390.0,838.1 1390.4,847.0 1390.8,843.8 1391.2,832.0 1391.6,846.7 1392.0,833.0 1392.4,844.3 1392.8,843.1 1393.2,826.1 1393.6,830.1 1394.0,849.9 1394.4,841.6 1394.9,839.1 1395.3,847.6 1395.7,847.5 1396.1,837.7 1396.5,849.5 1396.9,842.2 1397.3,828.0 1397.7,848.2 1398.1,830.6 1398.5,832.9 1398.9,846.2 1399.3,828.7 1399.7,840.2 1400.2,845.0 1400.6,837.0 1401.0,843.9 1401.4,835.4 1401.8,844.9 1402.2,847.8 1402.6,845.7 1403.0,840.2 1403.4,831.4 1403.8,836.6 1404.2,830.2 1404.6,831.5 1405.1,833.8 1405.5,843.2 1405.9,843.3 1406.3,823.0 1406.7,844.4 1407.1,839.1 1407.5,838.2 1407.9,837.1 1408.3,843.6 1408.7,830.7 1409.1,845.5 1409.5,849.1 1409.9,833.2 1410.4,838.2 1410.8,834.3 1411.2,836.3 1411.6,827.4 1412.0,845.3 1412.4,849.7 1412.8,831.7 1413.2,849.2 1413.6,828.3 1414.0,826.4 1414.4,849.1 1414.8,847.2 1415.3,833.1 1415.7,842.8 1416.1,831.7 1416.5,842.8 1416.9,853.3 1417.3,837.2 1417.7,839.9 1418.1,846.9 1418.5,833.5 1418.9,840.1 1419.3,833.6 1419.7,846.1 1420.1,843.1 1420.6,840.7 1421.0,848.2 1421.4,837.0 1421.8,845.5 1422.2,835.1 1422.6,838.8 1423.0,847.2 1423.4,850.6 1423.8,844.2 1424.2,849.6 1424.6,837.2 1425.0,833.4 1425.5,838.4 1425.9,842.6 1426.3,844.7 1426.7,850.0 1427.1,828.1 1427.5,838.5 1427.9,829.8 1428.3,835.0 1428.7,847.6 1429.1,843.2 1429.5,840.8 1429.9,840.5 1430.3,833.2 1430.8,850.4 1431.2,841.2 1431.6,846.6 1432.0,828.9 1432.4,846.2 1432.8,844.8 1433.2,838.7 1433.6,846.5 1434.0,834.3 1434.4,844.9 1434.8,847.7 1435.2,840.9 1435.7,837.1 1436.1,848.0 1436.5,841.8 1436.9,842.9 1437.3,848.6 1437.7,848.4 1438.1,829.2 1438.5,840.4 1438.9,840.1 1439.3,836.5 1439.7,859.3 1440.1,850.2 1440.5,844.4 1441.0,844.0 1441.4,835.2 1441.8,821.5 1442.2,845.0 1442.6,838.4 1443.0,834.4 1443.4,844.3 1443.8,821.5 1444.2,843.6 1444.6,837.5 1445.0,833.1 1445.4,843.7 1445.9,837.7 1446.3,837.7 1446.7,840.8 1447.1,827.5 1447.5,841.8 1447.9,845.3 1448.3,845.3 1448.7,848.3 1449.1,844.0 1449.5,842.6 1449.9,833.3 1450.3,838.6 1450.7,826.9 1451.2,846.1 1451.6,838.3 1452.0,838.8 1452.4,835.6 1452.8,837.4 1453.2,835.5 1453.6,836.5 1454.0,842.9 1454.4,844.1 1454.8,845.2 1455.2,852.4 1455.6,842.1 1456.1,834.3 1456.5,844.2 1456.9,846.5 1457.3,837.7 1457.7,842.8 1458.1,842.6 1458.5,840.4 1458.9,832.9 1459.3,847.7 1459.7,834.6 1460.1,851.0 1460.5,841.2 1460.9,833.8 1461.4,842.9 1461.8,839.2 1462.2,843.3 1462.6,844.3 1463.0,842.9 1463.4,832.4 1463.8,834.6 1464.2,841.9 1464.6,853.0 1465.0,823.6 1465.4,840.7 1465.8,834.3 1466.3,847.6 1466.7,844.0 1467.1,837.9 1467.5,825.8 1467.9,852.8 1468.3,845.1 1468.7,841.6 1469.1,839.8 1469.5,831.7 1469.9,836.7 1470.3,845.5 1470.7,827.0 1471.1,839.8 1471.6,833.3 1472.0,837.1 1472.4,838.8 1472.8,844.6 1473.2,854.2 1473.6,826.0 1474.0,829.7 1474.4,846.1 1474.8,835.2 1475.2,841.0 1475.6,847.9 1476.0,830.3 1476.5,838.8 1476.9,863.2 1477.3,843.5 1477.7,852.4 1478.1,844.0 1478.5,835.8 1478.9,840.6 1479.3,832.1 1479.7,827.4 1480.1,831.4 1480.5,842.4 1480.9,837.1 1481.3,844.3 1481.8,842.8 1482.2,834.0 1482.6,850.4 1483.0,843.1 1483.4,840.8 1483.8,847.3 1484.2,836.9 1484.6,839.9 1485.0,850.2 1485.4,842.8 1485.8,823.7 1486.2,837.2 1486.7,828.9 1487.1,827.8 1487.5,844.3 1487.9,846.9 1488.3,842.7 1488.7,822.7 1489.1,841.0 1489.5,825.5 1489.9,834.7 1490.3,855.9 1490.7,832.5 1491.1,829.3 1491.5,841.3 1492.0,849.0 1492.4,833.5 1492.8,826.1 1493.2,841.8 1493.6,835.3 1494.0,842.1 1494.4,840.2 1494.8,843.5 1495.2,848.9 1495.6,838.5 1496.0,848.4 1496.4,848.9 1496.9,835.4 1497.3,833.9 1497.7,842.9 1498.1,830.9 1498.5,837.3 1498.9,834.2 1499.3,840.7 1499.7,835.3 1500.1,821.2 1500.5,850.8 1500.9,825.3 1501.3,848.0 1501.7,846.1 1502.2,857.7 1502.6,837.9 1503.0,836.5 1503.4,851.2 1503.8,830.4 1504.2,841.7 1504.6,829.7 1505.0,839.0 1505.4,831.9 1505.8,849.3 1506.2,839.5 1506.6,843.9 1507.1,837.1 1507.5,841.1 1507.9,833.1 1508.3,831.4 1508.7,839.0 1509.1,826.0 1509.5,838.8 1509.9,847.9 1510.3,831.9 1510.7,842.2 1511.1,820.8 1511.5,841.7 1511.9,841.6 1512.4,831.3 1512.8,832.1 1513.2,824.2 1513.6,826.3 1514.0,828.6 1514.4,826.3 1514.8,829.8 1515.2,816.5 1515.6,842.5 1516.0,822.6 1516.4,807.3 1516.8,830.8 1517.3,829.6 1517.7,811.5 1518.1,823.4 1518.5,833.3 1518.9,832.0 1519.3,837.3 1519.7,841.4 1520.1,852.8 1520.5,833.6 1520.9,819.6 1521.3,839.1 1521.7,852.2 1522.1,854.7 1522.6,838.4 1523.0,844.8 1523.4,839.1 1523.8,838.8 1524.2,851.1 1524.6,837.8 1525.0,846.8 1525.4,834.9 1525.8,845.5 1526.2,843.1 1526.6,837.6 1527.0,845.9 1527.5,845.2 1527.9,844.8 1528.3,837.4 1528.7,840.8 1529.1,837.3 1529.5,838.5 1529.9,832.8 1530.3,850.0 1530.7,839.6 1531.1,853.7 1531.5,850.6 1531.9,850.4 1532.3,832.1 1532.8,842.1 1533.2,834.1 1533.6,839.8 1534.0,862.1 1534.4,842.7 1534.8,852.8 1535.2,856.4 1535.6,846.1 1536.0,844.4 1536.4,841.7 1536.8,854.8 1537.2,850.8 1537.7,850.6 1538.1,834.4 1538.5,843.2 1538.9,839.7 1539.3,840.0 1539.7,837.9 1540.1,847.6 1540.5,853.8 1540.9,855.6 1541.3,837.6 1541.7,846.9 1542.1,842.2 1542.5,841.8 1543.0,844.4 1543.4,844.0 1543.8,851.6 1544.2,845.6 1544.6,840.9 1545.0,847.3 1545.4,854.6 1545.8,827.8 1546.2,829.0 1546.6,831.3 1547.0,842.7 1547.4,842.0 1547.9,847.7 1548.3,851.0 1548.7,849.9 1549.1,854.3 1549.5,855.6 1549.9,842.5 1550.3,847.8 1550.7,833.0 1551.1,865.2 1551.5,835.7 1551.9,858.6 1552.3,849.3 1552.7,840.0 1553.2,849.0 1553.6,853.0 1554.0,840.4 1554.4,847.8 1554.8,844.4 1555.2,847.6 1555.6,842.1 1556.0,841.5 1556.4,843.7 1556.8,847.8 1557.2,849.4 1557.6,846.5 1558.1,856.3 1558.5,838.7 1558.9,864.9 1559.3,829.1 1559.7,856.8 1560.1,857.2 1560.5,845.7 1560.9,843.7 1561.3,848.0 1561.7,823.6 1562.1,845.8 1562.5,841.8 1562.9,859.9 1563.4,850.5 1563.8,837.3 1564.2,852.1 1564.6,848.2 1565.0,853.1 1565.4,846.9 1565.8,856.7 1566.2,853.9 1566.6,846.3 1567.0,847.3 1567.4,845.9 1567.8,845.5 1568.3,852.2 1568.7,846.4 1569.1,837.7 1569.5,842.0 1569.9,846.4 1570.3,853.8 1570.7,847.4 1571.1,852.1 1571.5,843.3 1571.9,843.0 1572.3,853.3 1572.7,840.5 1573.1,846.1 1573.6,847.6 1574.0,844.6 1574.4,857.6 1574.8,852.5 1575.2,839.4 1575.6,851.6 1576.0,846.6 1576.4,852.5 1576.8,850.7 1577.2,852.4 1577.6,855.2 1578.0,839.9 1578.5,851.7 1578.9,846.5 1579.3,845.4 1579.7,840.9 1580.1,843.5 1580.5,862.3 1580.9,834.5 1581.3,852.3 1581.7,844.9 1582.1,847.6 1582.5,831.2 1582.9,854.3 1583.3,841.7 1583.8,841.2 1584.2,837.4 1584.6,863.2 1585.0,836.0 1585.4,853.3 1585.8,842.7 1586.2,840.2 1586.6,845.7 1587.0,846.3 1587.4,861.7 1587.8,847.4 1588.2,836.9 1588.7,852.3 1589.1,843.9 1589.5,849.6 1589.9,840.0 1590.3,858.9 1590.7,834.2 1591.1,846.6 1591.5,849.1 1591.9,845.7 1592.3,843.7 1592.7,834.9 1593.1,837.5 1593.5,833.3 1594.0,845.9 1594.4,848.1 1594.8,847.4 1595.2,843.9 1595.6,831.7 1596.0,834.4 1596.4,856.3 1596.8,830.6 1597.2,847.8 1597.6,852.5 1598.0,852.3 1598.4,857.5 1598.9,858.3 1599.3,847.2 1599.7,843.7 1600.1,855.3 1600.5,836.9 1600.9,850.9 1601.3,844.3 1601.7,859.2 1602.1,851.2 1602.5,847.2 1602.9,845.7 1603.3,858.4 1603.7,848.8 1604.2,838.2 1604.6,840.0 1605.0,856.8 1605.4,845.7 1605.8,843.3 1606.2,853.1 1606.6,850.7 1607.0,849.9 1607.4,868.9 1607.8,846.7 1608.2,842.2 1608.6,840.4 1609.1,849.2 1609.5,852.0 1609.9,841.2 1610.3,863.8 1610.7,839.5 1611.1,850.3 1611.5,853.8 1611.9,850.3 1612.3,846.2 1612.7,854.6 1613.1,851.3 1613.5,832.0 1613.9,862.9 1614.4,842.7 1614.8,845.5 1615.2,856.2 1615.6,861.3 1616.0,848.8 1616.4,836.2 1616.8,857.2 1617.2,846.8 1617.6,842.2 1618.0,851.5 1618.4,860.9 1618.8,844.6 1619.3,848.3 1619.7,844.1 1620.1,854.8 1620.5,862.7 1620.9,842.2 1621.3,845.9 1621.7,850.6 1622.1,837.2 1622.5,846.1 1622.9,856.2 1623.3,840.1 1623.7,853.9 1624.1,848.1 1624.6,859.3 1625.0,851.4 1625.4,851.8 1625.8,844.6 1626.2,851.4 1626.6,851.3 1627.0,859.9 1627.4,850.4 1627.8,844.4 1628.2,853.3 1628.6,852.6 1629.0,847.6 1629.5,841.1 1629.9,853.0 1630.3,849.6 1630.7,843.1 1631.1,847.7 1631.5,855.6 1631.9,852.2 1632.3,841.5 1632.7,854.5 1633.1,858.7 1633.5,848.6 1633.9,837.2 1634.3,849.6 1634.8,849.8 1635.2,838.3 1635.6,849.2 1636.0,846.5 1636.4,852.5 1636.8,845.4 1637.2,853.1 1637.6,846.7 1638.0,861.7 1638.4,841.0 1638.8,840.5 1639.2,857.1 1639.7,832.5 1640.1,856.6 1640.5,861.8 1640.9,858.8 1641.3,841.1 1641.7,846.5 1642.1,846.4 1642.5,849.5 1642.9,843.0 1643.3,844.9 1643.7,857.9 1644.1,842.8 1644.5,847.4 1645.0,842.6 1645.4,834.1 1645.8,850.8 1646.2,854.5 1646.6,851.9 1647.0,858.2 1647.4,848.0 1647.8,846.4 1648.2,850.7 1648.6,838.3 1649.0,838.4 1649.4,845.6 1649.9,841.6 1650.3,844.5 1650.7,834.7 1651.1,831.6 1651.5,855.0 1651.9,847.8 1652.3,846.9 1652.7,851.2 1653.1,840.7 1653.5,852.1 1653.9,846.6 1654.3,861.6 1654.7,860.8 1655.2,855.6 1655.6,846.7 1656.0,845.6 1656.4,856.8 1656.8,846.1 1657.2,848.4 1657.6,860.7 1658.0,842.7 1658.4,841.9 1658.8,844.7 1659.2,833.1 1659.6,837.0 1660.1,853.8 1660.5,850.9 1660.9,843.4 1661.3,849.0 1661.7,842.4 1662.1,858.1 1662.5,851.7 1662.9,853.9 1663.3,846.9 1663.7,844.3 1664.1,838.7 1664.5,846.6 1664.9,854.5 1665.4,846.2 1665.8,847.5 1666.2,841.0 1666.6,840.9 1667.0,847.3 1667.4,839.9 1667.8,855.2 1668.2,837.3 1668.6,855.8 1669.0,849.7 1669.4,853.6 1669.8,846.6 1670.3,865.6 1670.7,849.3 1671.1,854.5 1671.5,847.5 1671.9,856.3 1672.3,851.4 1672.7,851.2 1673.1,848.2 1673.5,836.1 1673.9,850.6 1674.3,843.4 1674.7,859.3 1675.1,844.0 1675.6,849.0 1676.0,852.6 1676.4,843.1 1676.8,868.6 1677.2,846.3 1677.6,853.4 1678.0,846.9 1678.4,845.6 1678.8,840.1 1679.2,850.2 1679.6,846.8 1680.0,852.5 1680.5,853.8 1680.9,856.3 1681.3,844.8 1681.7,841.9 1682.1,832.7 1682.5,859.9 1682.9,842.4 1683.3,851.1 1683.7,839.4 1684.1,849.6 1684.5,855.3 1684.9,854.1 1685.3,846.8 1685.8,841.3 1686.2,853.4 1686.6,845.3 1687.0,850.9 1687.4,848.1 1687.8,837.3 1688.2,845.2 1688.6,866.4 1689.0,854.2 1689.4,848.1 1689.8,855.7 1690.2,841.8 1690.7,848.3 1691.1,864.4 1691.5,852.1 1691.9,846.3 1692.3,842.5 1692.7,854.0 1693.1,850.8 1693.5,834.6 1693.9,847.0 1694.3,845.3 1694.7,847.7 1695.1,840.3 1695.5,852.1 1696.0,846.8 1696.4,856.2 1696.8,840.1 1697.2,835.1 1697.6,845.7 1698.0,844.2 1698.4,846.5 1698.8,860.5 1699.2,844.2 1699.6,841.5 1700.0,844.9 1700.4,845.0 1700.9,851.6 1701.3,846.0 1701.7,854.3 1702.1,838.0 1702.5,844.3 1702.9,848.0 1703.3,849.7"/>
<polyline fill="none" stroke="#000000" stroke-width="2.3" shape-rendering="crispEdges" points="275.3,984.8 275.7,945.1 276.1,977.9 276.5,947.3 276.9,985.7 277.3,942.4 277.7,957.0 278.2,959.3 278.6,935.1 279.0,984.5 279.4,945.6 279.8,950.2 280.2,963.1 280.6,985.2 281.0,960.6 281.4,1007.0 281.8,975.2 282.2,971.8 282.6,984.6 283.1,976.1 283.5,962.1 283.9,971.0 284.3,983.1 284.7,1006.1 285.1,985.8 285.5,989.7 285.9,947.4 286.3,979.0 286.7,983.3 287.1,1011.7 287.5,1009.5 287.9,986.9 288.4,993.7 288.8,984.9 289.2,975.2 289.6,987.2 290.0,981.6 290.4,992.8 290.8,998.8 291.2,985.9 291.6,1006.4 292.0,972.9 292.4,990.8 292.8,994.3 293.3,964.4 293.7,1002.0 294.1,1004.1 294.5,1019.7 294.9,994.2 295.3,1004.7 295.7,1006.1 296.1,973.2 296.5,1002.4 296.9,977.6 297.3,1003.7 297.7,1010.9 298.1,1004.9 298.6,971.9 299.0,1023.4 299.4,1007.3 299.8,1017.9 300.2,994.3 300.6,999.0 301.0,1034.8 301.4,1002.6 301.8,999.7 302.2,1000.9 302.6,1020.8 303.0,984.5 303.5,1002.6 303.9,994.8 304.3,1043.2 304.7,1023.3 305.1,1009.7 305.5,1011.8 305.9,1005.6 306.3,1002.9 306.7,1007.0 307.1,1034.6 307.5,1005.8 307.9,1006.4 308.3,1014.9 308.8,1031.6 309.2,1017.9 309.6,996.7 310.0,1012.8 310.4,1012.6 310.8,994.1 311.2,1002.6 311.6,1018.2 312.0,1007.8 312.4,1037.5 312.8,1019.4 313.2,1008.6 313.7,1014.3 314.1,1003.2 314.5,1007.0 314.9,1027.3 315.3,1016.1 315.7,991.0 316.1,999.3 316.5,1026.3 316.9,1003.0 317.3,1014.9 317.7,1034.6 318.1,1016.9 318.5,1016.7 319.0,1015.5 319.4,1036.0 319.8,1012.3 320.2,1005.5 320.6,1023.8 321.0,1045.4 321.4,1028.6 321.8,1045.2 322.2,1041.2 322.6,1009.9 323.0,1026.4 323.4,1024.6 323.9,1026.6 324.3,1043.5 324.7,1046.4 325.1,1037.8 325.5,1044.6 325.9,1020.7 326.3,1040.2 326.7,1015.6 327.1,1025.5 327.5,1014.1 327.9,1047.6 328.3,1026.0 328.7,1042.5 329.2,1015.4 329.6,1036.4 330.0,1044.8 330.4,1035.7 330.8,1037.5 331.2,1037.6 331.6,1035.3 332.0,1031.7 332.4,1025.9 332.8,1051.2 333.2,1038.3 333.6,1039.6 334.1,1043.4 334.5,1023.1 334.9,1022.2 335.3,1022.9 335.7,1064.3 336.1,1037.8 336.5,1051.1 336.9,1018.3 337.3,1037.5 337.7,1044.2 338.1,1035.9 338.5,1058.0 338.9,1039.5 339.4,1043.2 339.8,1059.2 340.2,1065.7 340.6,1049.5 341.0,1039.5 341.4,1041.9 341.8,1061.3 342.2,1032.1 342.6,1033.1 343.0,1033.9 343.4,1059.5 343.8,1051.8 344.3,1035.0 344.7,1037.0 345.1,1046.4 345.5,1040.0 345.9,1033.4 346.3,1036.2 346.7,1044.4 347.1,1039.2 347.5,1046.7 347.9,1042.6 348.3,1038.1 348.7,1052.9 349.1,1053.4 349.6,1022.6 350.0,1050.9 350.4,1041.8 350.8,1035.0 351.2,1057.3 351.6,1051.2 352.0,1055.2 352.4,1041.4 352.8,1070.8 353.2,1054.8 353.6,1040.9 354.0,1072.5 354.5,1038.3 354.9,1067.8 355.3,1045.3 355.7,1041.5 356.1,1040.1 356.5,1036.8 356.9,1038.0 357.3,1054.2 357.7,1048.7 358.1,1029.8 358.5,1052.7 358.9,1032.0 359.3,1056.8 359.8,1045.0 360.2,1048.2 360.6,1065.8 361.0,1026.4 361.4,1079.0 361.8,1089.8 362.2,1065.6 362.6,1059.5 363.0,1044.4 363.4,1066.4 363.8,1051.0 364.2,1050.1 364.7,1044.2 365.1,1071.2 365.5,1064.8 365.9,1037.3 366.3,1053.8 366.7,1039.5 367.1,1066.8 367.5,1044.9 367.9,1055.3 368.3,1063.3 368.7,1054.4 369.1,1042.1 369.5,1051.9 370.0,1041.4 370.4,1075.0 370.8,1069.2 371.2,1037.3 371.6,1044.7 372.0,1085.6 372.4,1066.9 372.8,1055.5 373.2,1070.6 373.6,1063.9 374.0,1069.4 374.4,1055.7 374.9,1079.8 375.3,1063.6 375.7,1046.9 376.1,1060.5 376.5,1057.5 376.9,1066.2 377.3,1065.0 377.7,1063.3 378.1,1052.2 378.5,1064.9 378.9,1055.8 379.3,1081.8 379.7,1049.6 380.2,1059.9 380.6,1057.4 381.0,1051.9 381.4,1068.5 381.8,1067.5 382.2,1066.4 382.6,1082.0 383.0,1058.0 383.4,1070.0 383.8,1066.0 384.2,1068.3 384.6,1050.6 385.1,1051.6 385.5,1075.2 385.9,1052.2 386.3,1078.6 386.7,1083.5 387.1,1059.8 387.5,1070.4 387.9,1068.7 388.3,1084.0 388.7,1091.1 389.1,1076.2 389.5,1077.1 389.9,1081.4 390.4,1056.7 390.8,1066.8 391.2,1077.6 391.6,1062.4 392.0,1086.7 392.4,1057.5 392.8,1066.0 393.2,1069.4 393.6,1075.8 394.0,1058.1 394.4,1064.2 394.8,1072.6 395.3,1069.6 395.7,1075.1 396.1,1059.6 396.5,1056.4 396.9,1037.2 397.3,1053.9 397.7,1062.9 398.1,1051.9 398.5,1063.7 398.9,1077.4 399.3,1062.9 399.7,1078.3 400.1,1076.5 400.6,1068.8 401.0,1076.5 401.4,1078.5 401.8,1053.9 402.2,1086.4 402.6,1049.7 403.0,1072.0 403.4,1062.5 403.8,1063.2 404.2,1071.6 404.6,1065.2 405.0,1067.3 405.5,1069.0 405.9,1059.9 406.3,1072.2 406.7,1057.9 407.1,1075.9 407.5,1057.1 407.9,1073.0 408.3,1064.8 408.7,1086.6 409.1,1060.3 409.5,1083.9 409.9,1066.9 410.3,1053.7 410.8,1086.6 411.2,1082.2 411.6,1090.0 412.0,1067.0 412.4,1081.7 412.8,1088.5 413.2,1074.2 413.6,1103.6 414.0,1070.2 414.4,1083.9 414.8,1063.7 415.2,1065.4 415.7,1069.5 416.1,1072.8 416.5,1076.4 416.9,1079.3 417.3,1050.6 417.7,1075.0 418.1,1067.6 418.5,1054.1 418.9,1065.5 419.3,1080.5 419.7,1078.6 420.1,1056.4 420.5,1066.0 421.0,1066.9 421.4,1086.3 421.8,1068.7 422.2,1063.2 422.6,1070.8 423.0,1044.1 423.4,1071.9 423.8,1081.1 424.2,1075.0 424.6,1050.8 425.0,1096.8 425.4,1077.0 425.9,1069.2 426.3,1069.6 426.7,1079.7 427.1,1069.3 427.5,1069.4 427.9,1077.6 428.3,1059.3 428.7,1079.2 429.1,1060.9 429.5,1076.0 429.9,1082.7 430.3,1077.1 430.7,1080.4 431.2,1067.6 431.6,1063.4 432.0,1083.1 432.4,1070.5 432.8,1063.0 433.2,1066.4 433.6,1064.5 434.0,1080.1 434.4,1078.7 434.8,1088.2 435.2,1060.6 435.6,1073.2 436.1,1071.8 436.5,1050.4 436.9,1072.1 437.3,1079.4 437.7,1064.0 438.1,1059.4 438.5,1098.0 438.9,1058.4 439.3,1089.1 439.7,1076.3 440.1,1077.5 440.5,1067.3 440.9,1062.3 441.4,1088.5 441.8,1093.0 442.2,1063.9 442.6,1085.9 443.0,1072.9 443.4,1081.3 443.8,1070.6 444.2,1065.3 444.6,1056.1 445.0,1054.1 445.4,1071.3 445.8,1070.0 446.3,1059.7 446.7,1054.8 447.1,1063.6 447.5,1076.5 447.9,1081.5 448.3,1082.8 448.7,1072.6 449.1,1079.8 449.5,1058.6 449.9,1088.7 450.3,1072.8 450.7,1062.9 451.1,1061.3 451.6,1059.6 452.0,1067.8 452.4,1080.2 452.8,1063.2 453.2,1080.9 453.6,1072.7 454.0,1053.0 454.4,1059.0 454.8,1060.9 455.2,1066.1 455.6,1090.3 456.0,1096.3 456.5,1073.7 456.9,1073.9 457.3,1062.5 457.7,1082.7 458.1,1061.7 458.5,1065.6 458.9,1071.6 459.3,1080.1 459.7,1073.7 460.1,1046.0 460.5,1074.7 460.9,1066.7 461.3,1074.4 461.8,1085.4 462.2,1053.9 462.6,1073.1 463.0,1080.9 463.4,1054.6 463.8,1085.3 464.2,1077.7 464.6,1074.0 465.0,1062.5 465.4,1075.5 465.8,1078.6 466.2,1062.4 466.7,1064.3 467.1,1061.5 467.5,1073.5 467.9,1074.3 468.3,1080.3 468.7,1074.4 469.1,1066.5 469.5,1071.0 469.9,1061.5 470.3,1081.2 470.7,1060.6 471.1,1061.7 471.5,1071.5 472.0,1050.9 472.4,1075.6 472.8,1085.0 473.2,1077.6 473.6,1078.3 474.0,1076.1 474.4,1071.2 474.8,1070.3 475.2,1058.6 475.6,1074.3 476.0,1079.9 476.4,1090.9 476.9,1066.3 477.3,1074.4 477.7,1075.5 478.1,1066.3 478.5,1065.5 478.9,1065.9 479.3,1067.2 479.7,1087.0 480.1,1052.2 480.5,1057.4 480.9,1054.9 481.3,1073.1 481.7,1075.7 482.2,1059.3 482.6,1079.2 483.0,1058.5 483.4,1085.5 483.8,1070.3 484.2,1079.4 484.6,1054.6 485.0,1078.8 485.4,1070.6 485.8,1063.0 486.2,1052.3 486.6,1077.5 487.1,1076.6 487.5,1065.4 487.9,1079.2 488.3,1079.5 488.7,1081.1 489.1,1058.7 489.5,1076.8 489.9,1071.3 490.3,1062.3 490.7,1071.3 491.1,1064.0 491.5,1081.6 491.9,1068.4 492.4,1074.0 492.8,1079.3 493.2,1090.0 493.6,1077.5 494.0,1057.3 494.4,1086.2 494.8,1072.9 495.2,1082.6 495.6,1072.1 496.0,1066.9 496.4,1055.7 496.8,1072.4 497.3,1079.1 497.7,1064.8 498.1,1064.6 498.5,1063.2 498.9,1069.0 499.3,1071.8 499.7,1079.6 500.1,1067.2 500.5,1072.8 500.9,1059.9 501.3,1081.1 501.7,1070.9 502.1,1056.1 502.6,1060.8 503.0,1069.0 503.4,1083.1 503.8,1071.6 504.2,1088.1 504.6,1075.9 505.0,1061.8 505.4,1062.9 505.8,1089.3 506.2,1063.0 506.6,1062.3 507.0,1061.2 507.5,1056.7 507.9,1079.0 508.3,1080.5 508.7,1059.5 509.1,1089.0 509.5,1081.2 509.9,1067.2 510.3,1055.2 510.7,1066.2 511.1,1066.1 511.5,1078.0 511.9,1065.9 512.3,1080.4 512.8,1096.5 513.2,1062.1 513.6,1063.7 514.0,1083.5 514.4,1089.6 514.8,1049.7 515.2,1063.8 515.6,1052.2 516.0,1073.7 516.4,1071.0 516.8,1061.1 517.2,1072.3 517.7,1082.5 518.1,1035.4 518.5,1051.8 518.9,1060.6 519.3,1068.6 519.7,1073.6 520.1,1071.2 520.5,1088.5 520.9,1070.0 521.3,1060.8 521.7,1060.1 522.1,1046.4 522.5,1066.8 523.0,1074.5 523.4,1056.2 523.8,1077.9 524.2,1054.1 524.6,1075.5 525.0,1066.3 525.4,1086.8 525.8,1071.5 526.2,1070.7 526.6,1063.9 527.0,1055.7 527.4,1061.2 527.9,1057.1 528.3,1051.1 528.7,1080.9 529.1,1078.8 529.5,1073.3 529.9,1073.6 530.3,1052.2 530.7,1037.4 531.1,1072.9 531.5,1072.5 531.9,1073.0 532.3,1076.1 532.7,1074.3 533.2,1059.3 533.6,1073.8 534.0,1073.0 534.4,1083.6 534.8,1073.6 535.2,1068.8 535.6,1068.4 536.0,1057.1 536.4,1062.2 536.8,1075.4 537.2,1044.8 537.6,1055.5 538.1,1073.6 538.5,1057.7 538.9,1046.9 539.3,1069.6 539.7,1071.2 540.1,1068.7 540.5,1067.2 540.9,1048.7 541.3,1092.7 541.7,1055.2 542.1,1055.9 542.5,1070.7 542.9,1070.1 543.4,1064.0 543.8,1065.7 544.2,1070.3 544.6,1067.2 545.0,1054.0 545.4,1064.1 545.8,1066.4 546.2,1066.1 546.6,1061.6 547.0,1050.9 547.4,1066.8 547.8,1069.0 548.3,1065.3 548.7,1043.2 549.1,1064.7 549.5,1077.3 549.9,1065.6 550.3,1055.1 550.7,1063.2 551.1,1058.8 551.5,1056.0 551.9,1065.2 552.3,1062.4 552.7,1051.2 553.1,1078.5 553.6,1069.7 554.0,1040.5 554.4,1057.0 554.8,1057.8 555.2,1030.4 555.6,1044.7 556.0,1069.7 556.4,1057.6 556.8,1062.6 557.2,1060.0 557.6,1058.1 558.0,1052.2 558.5,1043.5 558.9,1038.4 559.3,1048.4 559.7,1066.1 560.1,1067.5 560.5,1071.1 560.9,1055.1 561.3,1047.5 561.7,1072.3 562.1,1067.7 562.5,1061.9 562.9,1061.2 563.3,1051.3 563.8,1069.3 564.2,1036.7 564.6,1051.7 565.0,1062.3 565.4,1056.1 565.8,1072.9 566.2,1060.2 566.6,1048.1 567.0,1046.8 567.4,1032.0 567.8,1068.6 568.2,1056.8 568.7,1062.4 569.1,1042.4 569.5,1044.0 569.9,1060.9 570.3,1049.3 570.7,1054.2 571.1,1071.2 571.5,1059.3 571.9,1059.1 572.3,1057.5 572.7,1049.6 573.1,1062.8 573.5,1057.0 574.0,1080.6 574.4,1062.2 574.8,1037.0 575.2,1051.2 575.6,1045.0 576.0,1070.3 576.4,1053.1 576.8,1040.8 577.2,1050.3 577.6,1065.3 578.0,1062.5 578.4,1055.4 578.9,1055.3 579.3,1039.7 579.7,1048.9 580.1,1051.1 580.5,1043.5 580.9,1054.5 581.3,1040.2 581.7,1062.5 582.1,1044.1 582.5,1041.0 582.9,1038.8 583.3,1047.0 583.7,1054.4 584.2,1053.2 584.6,1042.1 585.0,1051.5 585.4,1037.9 585.8,1048.1 586.2,1054.6 586.6,1050.2 587.0,1042.5 587.4,1039.5 587.8,1050.8 588.2,1047.2 588.6,1027.9 589.1,1036.7 589.5,1044.1 589.9,1048.5 590.3,1045.6 590.7,1061.1 591.1,1034.4 591.5,1061.3 591.9,1042.1 592.3,1049.8 592.7,1042.3 593.1,1048.6 593.5,1030.7 593.9,1061.6 594.4,1040.8 594.8,1045.1 595.2,1022.1 595.6,1045.3 596.0,1039.3 596.4,1054.1 596.8,1049.8 597.2,1040.7 597.6,1030.7 598.0,1060.1 598.4,1041.9 598.8,1056.2 599.3,1056.1 599.7,1060.9 600.1,1031.2 600.5,1032.7 600.9,1040.4 601.3,1037.1 601.7,1052.0 602.1,1047.8 602.5,1051.2 602.9,1046.3 603.3,1048.8 603.7,1049.3 604.1,1045.4 604.6,1038.2 605.0,1056.7 605.4,1040.0 605.8,1026.5 606.2,1023.1 606.6,1048.7 607.0,1039.3 607.4,1038.2 607.8,1028.6 608.2,1045.0 608.6,1053.0 609.0,1046.0 609.5,1031.1 609.9,1040.6 610.3,1043.7 610.7,1031.9 611.1,1029.2 611.5,1029.3 611.9,1061.0 612.3,1056.4 612.7,1040.4 613.1,1043.1 613.5,1053.4 613.9,1052.7 614.3,1049.0 614.8,1031.9 615.2,1031.3 615.6,1040.5 616.0,1049.2 616.4,1047.6 616.8,1039.7 617.2,1032.8 617.6,1057.7 618.0,1031.4 618.4,1041.9 618.8,1042.8 619.2,1045.7 619.7,1055.5 620.1,1020.0 620.5,1011.1 620.9,1045.1 621.3,1051.0 621.7,1049.7 622.1,1047.5 622.5,1039.4 622.9,1037.7 623.3,1060.6 623.7,1031.8 624.1,1051.3 624.5,1037.1 625.0,1039.2 625.4,1028.5 625.8,1035.5 626.2,1030.6 626.6,1020.4 627.0,1026.2 627.4,1017.2 627.8,1045.7 628.2,1025.3 628.6,1031.3 629.0,1053.3 629.4,1042.8 629.9,1031.1 630.3,1045.8 630.7,1038.8 631.1,1042.2 631.5,1026.4 631.9,1044.6 632.3,1038.0 632.7,1031.1 633.1,1025.3 633.5,1032.3 633.9,1026.1 634.3,1036.5 634.7,1036.6 635.2,1026.7 635.6,1048.7 636.0,1044.0 636.4,1020.6 636.8,1050.5 637.2,1026.5 637.6,1017.4 638.0,1032.0 638.4,1041.8 638.8,1043.0 639.2,1017.6 639.6,1022.7 640.1,1016.9 640.5,1025.1 640.9,1015.3 641.3,1006.5 641.7,1001.6 642.1,998.1 642.5,997.1 642.9,992.9 643.3,990.1 643.7,1016.4 644.1,1006.8 644.5,1012.8 644.9,1012.6 645.4,1024.5 645.8,1018.5 646.2,1032.5 646.6,1029.1 647.0,1046.5 647.4,1015.2 647.8,1050.8 648.2,1039.6 648.6,1026.7 649.0,1043.7 649.4,1034.4 649.8,1041.9 650.3,1035.5 650.7,1039.5 651.1,1037.4 651.5,1034.2 651.9,1031.8 652.3,1044.6 652.7,1046.1 653.1,1046.3 653.5,1034.3 653.9,1039.1 654.3,1040.7 654.7,1040.5 655.1,1038.2 655.6,1043.7 656.0,1033.3 656.4,1043.9 656.8,1027.2 657.2,1035.5 657.6,1033.3 658.0,1033.5 658.4,1047.8 658.8,1023.8 659.2,1034.5 659.6,1036.0 660.0,1042.6 660.5,1027.2 660.9,1024.9 661.3,1030.1 661.7,1036.0 662.1,1040.2 662.5,1053.8 662.9,1054.4 663.3,1045.2 663.7,1040.3 664.1,1046.4 664.5,1042.6 664.9,1036.0 665.3,1034.2 665.8,1056.2 666.2,1043.1 666.6,1030.8 667.0,1049.9 667.4,1029.5 667.8,1034.8 668.2,1040.5 668.6,1037.4 669.0,1035.4 669.4,1032.9 669.8,1031.5 670.2,1027.3 670.7,1041.8 671.1,1050.6 671.5,1030.7 671.9,1045.5 672.3,1047.7 672.7,1027.9 673.1,1049.9 673.5,1049.0 673.9,1040.3 674.3,1034.2 674.7,1047.4 675.1,1045.4 675.5,1034.8 676.0,1017.5 676.4,1054.4 676.8,1014.9 677.2,1041.2 677.6,1016.4 678.0,1037.5 678.4,1036.4 678.8,1042.4 679.2,1046.2 679.6,1048.6 680.0,1032.6 680.4,1051.2 680.9,1049.2 681.3,1034.3 681.7,1047.3 682.1,1035.7 682.5,1045.5 682.9,1031.8 683.3,1046.5 683.7,1057.7 684.1,1039.6 684.5,1047.0 684.9,1063.8 685.3,1071.8 685.7,1034.1 686.2,1041.5 686.6,1023.1 687.0,1030.2 687.4,1063.9 687.8,1042.5 688.2,1042.1 688.6,1042.6 689.0,1057.8 689.4,1033.9 689.8,1039.2 690.2,1044.6 690.6,1040.2 691.1,1050.2 691.5,1063.2 691.9,1042.4 692.3,1049.6 692.7,1062.9 693.1,1049.3 693.5,1037.9 693.9,1055.6 694.3,1056.7 694.7,1065.4 695.1,1048.6 695.5,1060.4 695.9,1062.1 696.4,1029.7 696.8,1048.3 697.2,1068.8 697.6,1041.4 698.0,1063.3 698.4,1047.8 698.8,1035.6 699.2,1025.2 699.6,1043.1 700.0,1036.7 700.4,1068.3 700.8,1027.4 701.3,1060.2 701.7,1048.1 702.1,1060.9 702.5,1036.2 702.9,1053.8 703.3,1041.8 703.7,1058.7 704.1,1066.4 704.5,1057.1 704.9,1052.2 705.3,1060.6 705.7,1058.5 706.1,1045.7 706.6,1030.7 707.0,1048.1 707.4,1030.3 707.8,1044.3 708.2,1078.3 708.6,1068.9 709.0,1047.7 709.4,1057.2 709.8,1070.2 710.2,1053.4 710.6,1035.8 711.0,1037.1 711.5,1068.4 711.9,1069.0 712.3,1067.8 712.7,1060.5 713.1,1058.5 713.5,1058.7 713.9,1052.4 714.3,1059.2 714.7,1061.1 715.1,1045.7 715.5,1076.6 715.9,1062.6 716.3,1066.0 716.8,1049.5 717.2,1056.9 717.6,1053.1 718.0,1045.6 718.4,1050.5 718.8,1079.9 719.2,1060.6 719.6,1064.3 720.0,1059.0 720.4,1058.8 720.8,1050.3 721.2,1062.3 721.7,1049.4 722.1,1061.6 722.5,1043.9 722.9,1049.7 723.3,1053.6 723.7,1062.1 724.1,1046.3 724.5,1059.0 724.9,1061.4 725.3,1064.8 725.7,1058.6 726.1,1059.0 726.5,1056.3 727.0,1045.1 727.4,1061.5 727.8,1052.0 728.2,1058.6 728.6,1072.4 729.0,1064.7 729.4,1059.6 729.8,1054.7 730.2,1051.3 730.6,1044.6 731.0,1057.9 731.4,1071.5 731.9,1061.0 732.3,1048.4 732.7,1066.9 733.1,1048.1 733.5,1049.0 733.9,1066.6 734.3,1063.3 734.7,1073.0 735.1,1046.5 735.5,1060.5 735.9,1059.5 736.3,1056.2 736.7,1057.0 737.2,1039.1 737.6,1057.2 738.0,1047.6 738.4,1058.4 738.8,1047.9 739.2,1065.1 739.6,1060.0 740.0,1056.2 740.4,1057.6 740.8,1051.0 741.2,1068.2 741.6,1062.2 742.1,1058.7 742.5,1057.7 742.9,1057.8 743.3,1059.9 743.7,1054.4 744.1,1045.4 744.5,1039.6 744.9,1044.9 745.3,1067.9 745.7,1051.8 746.1,1065.3 746.5,1073.5 746.9,1062.1 747.4,1058.2 747.8,1059.8 748.2,1070.1 748.6,1054.0 749.0,1067.3 749.4,1082.0 749.8,1069.1 750.2,1067.9 750.6,1066.6 751.0,1060.9 751.4,1050.1 751.8,1070.8 752.3,1071.5 752.7,1049.2 753.1,1064.7 753.5,1076.0 753.9,1072.3 754.3,1071.1 754.7,1057.0 755.1,1055.6 755.5,1064.9 755.9,1075.7 756.3,1059.3 756.7,1081.9 757.1,1054.4 757.6,1059.5 758.0,1076.2 758.4,1051.3 758.8,1071.6 759.2,1070.5 759.6,1070.4 760.0,1065.2 760.4,1063.6 760.8,1053.2 761.2,1062.7 761.6,1060.0 762.0,1050.9 762.5,1053.0 762.9,1071.9 763.3,1060.5 763.7,1057.3 764.1,1063.9 764.5,1047.9 764.9,1070.6 765.3,1073.6 765.7,1083.8 766.1,1063.3 766.5,1074.2 766.9,1060.2 767.3,1058.5 767.8,1059.8 768.2,1067.1 768.6,1061.1 769.0,1066.6 769.4,1057.8 769.8,1056.0 770.2,1072.5 770.6,1053.1 771.0,1061.8 771.4,1077.2 771.8,1066.9 772.2,1068.0 772.7,1061.3 773.1,1057.9 773.5,1073.7 773.9,1063.4 774.3,1065.5 774.7,1071.1 775.1,1056.7 775.5,1065.8 775.9,1033.2 776.3,1078.4 776.7,1075.0 777.1,1051.2 777.5,1067.7 778.0,1066.2 778.4,1051.9 778.8,1061.3 779.2,1057.5 779.6,1057.5 780.0,1061.1 780.4,1069.4 780.8,1057.7 781.2,1059.2 781.6,1058.0 782.0,1050.6 782.4,1065.6 782.9,1081.4 783.3,1074.8 783.7,1054.2 784.1,1068.5 784.5,1058.0 784.9,1074.9 785.3,1049.1 785.7,1078.1 786.1,1051.9 786.5,1071.9 786.9,1079.1 787.3,1067.9 787.7,1081.0 788.2,1065.2 788.6,1082.4 789.0,1062.7 789.4,1067.4 789.8,1073.0 790.2,1090.3 790.6,1061.5 791.0,1060.4 791.4,1079.8 791.8,1069.4 792.2,1061.6 792.6,1066.3 793.1,1076.4 793.5,1061.2 793.9,1060.2 794.3,1072.6 794.7,1074.3 795.1,1063.3 795.5,1067.1 795.9,1079.7 796.3,1057.3 796.7,1059.5 797.1,1081.5 797.5,1077.1 797.9,1084.8 798.4,1072.6 798.8,1070.9 799.2,1074.1 799.6,1055.3 800.0,1059.7 800.4,1074.8 800.8,1075.1 801.2,1077.0 801.6,1075.0 802.0,1070.9 802.4,1059.0 802.8,1073.9 803.3,1071.7 803.7,1055.0 804.1,1076.4 804.5,1071.8 804.9,1075.1 805.3,1061.1 805.7,1064.4 806.1,1095.0 806.5,1064.7 806.9,1066.6 807.3,1077.2 807.7,1049.2 808.1,1070.6 808.6,1074.7 809.0,1076.8 809.4,1074.8 809.8,1055.3 810.2,1071.0 810.6,1073.4 811.0,1048.0 811.4,1072.9 811.8,1064.6 812.2,1070.3 812.6,1069.5 813.0,1067.6 813.5,1073.4 813.9,1072.0 814.3,1077.5 814.7,1072.2 815.1,1061.0 815.5,1083.0 815.9,1070.0 816.3,1054.2 816.7,1072.8 817.1,1071.1 817.5,1075.6 817.9,1080.2 818.3,1069.8 818.8,1060.5 819.2,1076.4 819.6,1062.9 820.0,1065.6 820.4,1072.0 820.8,1062.5 821.2,1062.0 821.6,1079.2 822.0,1067.5 822.4,1070.6 822.8,1063.9 823.2,1065.2 823.7,1060.9 824.1,1067.2 824.5,1064.1 824.9,1064.3 825.3,1060.1 825.7,1087.8 826.1,1074.1 826.5,1058.1 826.9,1051.3 827.3,1070.8 827.7,1063.2 828.1,1057.2 828.5,1066.6 829.0,1055.1 829.4,1075.9 829.8,1060.2 830.2,1049.8 830.6,1044.7 831.0,1073.7 831.4,1053.4 831.8,1054.6 832.2,1059.5 832.6,1049.3 833.0,1045.2 833.4,1049.8 833.9,1058.6 834.3,1056.3 834.7,1048.6 835.1,1052.8 835.5,1069.4 835.9,1065.2 836.3,1052.3 836.7,1057.6 837.1,1053.9 837.5,1057.6 837.9,1070.6 838.3,1045.2 838.7,1051.0 839.2,1043.4 839.6,1039.6 840.0,1029.1 840.4,1012.0 840.8,1003.5 841.2,976.2 841.6,970.6 842.0,961.3 842.4,956.2 842.8,938.9 843.2,911.8 843.6,888.4 844.1,867.5 844.5,850.3 844.9,861.5 845.3,863.2 845.7,855.7 846.1,848.8 846.5,858.2 846.9,900.2 847.3,902.3 847.7,910.9 848.1,944.1 848.5,954.3 848.9,954.8 849.4,990.8 849.8,1006.4 850.2,1029.8 850.6,1022.2 851.0,1045.7 851.4,1053.2 851.8,1056.1 852.2,1058.1 852.6,1061.8 853.0,1063.0 853.4,1067.4 853.8,1073.4 854.3,1067.7 854.7,1063.5 855.1,1066.3 855.5,1067.4 855.9,1068.0 856.3,1070.9 856.7,1058.0 857.1,1074.2 857.5,1088.4 857.9,1079.4 858.3,1067.0 858.7,1059.4 859.1,1070.3 859.6,1070.0 860.0,1072.9 860.4,1064.8 860.8,1065.1 861.2,1078.4 861.6,1070.7 862.0,1082.6 862.4,1064.3 862.8,1059.2 863.2,1077.8 863.6,1065.7 864.0,1067.4 864.5,1080.3 864.9,1070.9 865.3,1080.9 865.7,1069.2 866.1,1075.7 866.5,1078.6 866.9,1083.3 867.3,1081.4 867.7,1072.1 868.1,1072.7 868.5,1083.4 868.9,1084.6 869.3,1084.2 869.8,1064.2 870.2,1063.1 870.6,1077.2 871.0,1067.6 871.4,1072.9 871.8,1077.5 872.2,1074.5 872.6,1078.4 873.0,1091.0 873.4,1068.1 873.8,1078.5 874.2,1071.8 874.7,1074.6 875.1,1068.6 875.5,1081.6 875.9,1075.3 876.3,1092.3 876.7,1086.8 877.1,1066.0 877.5,1084.0 877.9,1076.8 878.3,1076.8 878.7,1088.9 879.1,1098.0 879.5,1069.9 880.0,1071.5 880.4,1072.8 880.8,1084.4 881.2,1074.9 881.6,1087.5 882.0,1060.3 882.4,1072.2 882.8,1087.6 883.2,1090.6 883.6,1070.9 884.0,1069.2 884.4,1077.2 884.9,1077.2 885.3,1077.4 885.7,1075.0 886.1,1103.0 886.5,1089.7 886.9,1075.3 887.3,1076.2 887.7,1082.0 888.1,1086.4 888.5,1096.1 888.9,1092.8 889.3,1084.8 889.7,1078.6 890.2,1091.4 890.6,1090.0 891.0,1074.8 891.4,1068.7 891.8,1080.5 892.2,1085.1 892.6,1081.1 893.0,1077.8 893.4,1074.4 893.8,1094.9 894.2,1080.9 894.6,1073.7 895.1,1072.9 895.5,1084.9 895.9,1072.3 896.3,1093.1 896.7,1068.1 897.1,1072.6 897.5,1065.9 897.9,1083.6 898.3,1065.9 898.7,1065.7 899.1,1082.3 899.5,1085.8 899.9,1071.1 900.4,1087.4 900.8,1082.9 901.2,1058.5 901.6,1079.6 902.0,1086.5 902.4,1074.3 902.8,1064.8 903.2,1069.6 903.6,1064.4 904.0,1073.1 904.4,1079.8 904.8,1072.8 905.3,1073.0 905.7,1086.7 906.1,1070.3 906.5,1080.7 906.9,1059.8 907.3,1063.9 907.7,1076.1 908.1,1080.9 908.5,1079.3 908.9,1078.0 909.3,1072.9 909.7,1077.6 910.1,1080.5 910.6,1071.0 911.0,1056.4 911.4,1065.6 911.8,1090.9 912.2,1074.1 912.6,1072.9 913.0,1069.4 913.4,1078.4 913.8,1072.7 914.2,1086.5 914.6,1083.2 915.0,1063.8 915.5,1074.6 915.9,1080.3 916.3,1076.8 916.7,1080.8 917.1,1086.0 917.5,1080.6 917.9,1075.1 918.3,1086.1 918.7,1081.7 919.1,1079.5 919.5,1080.4 919.9,1101.2 920.3,1087.7 920.8,1080.0 921.2,1084.1 921.6,1081.6 922.0,1082.7 922.4,1083.3 922.8,1093.2 923.2,1087.1 923.6,1082.6 924.0,1097.7 924.4,1090.7 924.8,1089.0 925.2,1090.4 925.7,1087.8 926.1,1094.7 926.5,1083.2 926.9,1082.8 927.3,1092.1 927.7,1079.1 928.1,1081.5 928.5,1091.7 928.9,1106.4 929.3,1089.5 929.7,1093.3 930.1,1080.7 930.5,1086.0 931.0,1107.1 931.4,1091.6 931.8,1092.3 932.2,1084.7 932.6,1097.9 933.0,1094.7 933.4,1097.6 933.8,1098.0 934.2,1087.7 934.6,1085.1 935.0,1090.3 935.4,1091.5 935.9,1095.9 936.3,1090.1 936.7,1078.1 937.1,1104.9 937.5,1097.5 937.9,1081.2 938.3,1106.0 938.7,1081.5 939.1,1077.3 939.5,1081.2 939.9,1102.8 940.3,1093.2 940.7,1087.8 941.2,1090.2 941.6,1100.4 942.0,1087.1 942.4,1095.5 942.8,1092.6 943.2,1092.6 943.6,1099.1 944.0,1093.0 944.4,1097.2 944.8,1092.8 945.2,1082.4 945.6,1088.6 946.1,1096.7 946.5,1114.0 946.9,1090.2 947.3,1102.3 947.7,1087.9 948.1,1098.1 948.5,1102.6 948.9,1094.5 949.3,1093.7 949.7,1087.4 950.1,1090.7 950.5,1087.2 950.9,1086.2 951.4,1072.0 951.8,1061.0 952.2,1054.7 952.6,1048.7 953.0,1048.9 953.4,1050.9 953.8,1032.7 954.2,1053.2 954.6,1052.1 955.0,1049.9 955.4,1061.0 955.8,1063.5 956.3,1069.3 956.7,1082.4 957.1,1091.5 957.5,1090.2 957.9,1098.9 958.3,1099.5 958.7,1100.0 959.1,1100.0 959.5,1099.6 959.9,1081.7 960.3,1098.9 960.7,1082.1 961.1,1105.5 961.6,1091.2 962.0,1093.1 962.4,1089.9 962.8,1101.6 963.2,1089.7 963.6,1095.0 964.0,1090.0 964.4,1097.8 964.8,1088.8 965.2,1099.8 965.6,1095.9 966.0,1090.7 966.5,1095.8 966.9,1092.1 967.3,1088.3 967.7,1093.4 968.1,1077.7 968.5,1095.3 968.9,1099.7 969.3,1090.0 969.7,1098.2 970.1,1102.7 970.5,1088.5 970.9,1108.9 971.3,1091.3 971.8,1101.5 972.2,1097.9 972.6,1105.4 973.0,1093.6 973.4,1096.6 973.8,1104.1 974.2,1107.9 974.6,1100.3 975.0,1104.1 975.4,1086.3 975.8,1089.5 976.2,1096.0 976.7,1099.5 977.1,1101.0 977.5,1107.3 977.9,1097.5 978.3,1101.9 978.7,1101.2 979.1,1091.3 979.5,1082.8 979.9,1096.0 980.3,1095.1 980.7,1106.9 981.1,1100.0 981.5,1103.1 982.0,1094.5 982.4,1093.4 982.8,1101.1 983.2,1107.9 983.6,1087.3 984.0,1095.4 984.4,1086.9 984.8,1089.2 985.2,1102.1 985.6,1099.7 986.0,1093.1 986.4,1096.8 986.9,1107.1 987.3,1090.0 987.7,1103.7 988.1,1096.9 988.5,1079.0 988.9,1103.2 989.3,1111.2 989.7,1093.0 990.1,1094.2 990.5,1090.8 990.9,1097.8 991.3,1097.7 991.7,1106.1 992.2,1101.7 992.6,1097.4 993.0,1094.9 993.4,1105.2 993.8,1094.6 994.2,1095.0 994.6,1102.6 995.0,1103.9 995.4,1092.6 995.8,1093.6 996.2,1115.2 996.6,1085.5 997.1,1099.6 997.5,1094.3 997.9,1111.1 998.3,1093.8 998.7,1093.1 999.1,1097.0 999.5,1091.6 999.9,1105.6 1000.3,1104.3 1000.7,1101.5 1001.1,1103.0 1001.5,1092.3 1001.9,1094.1 1002.4,1103.1 1002.8,1093.9 1003.2,1094.5 1003.6,1087.4 1004.0,1093.8 1004.4,1094.1 1004.8,1097.2 1005.2,1098.1 1005.6,1092.6 1006.0,1102.1 1006.4,1097.5 1006.8,1099.9 1007.3,1097.2 1007.7,1092.4 1008.1,1098.3 1008.5,1095.2 1008.9,1093.6 1009.3,1091.6 1009.7,1076.7 1010.1,1107.9 1010.5,1100.3 1010.9,1107.4 1011.3,1096.1 1011.7,1101.7 1012.1,1093.5 1012.6,1084.3 1013.0,1106.5 1013.4,1102.0 1013.8,1109.2 1014.2,1102.0 1014.6,1109.1 1015.0,1080.3 1015.4,1110.1 1015.8,1095.5 1016.2,1102.2 1016.6,1089.5 1017.0,1089.2 1017.5,1111.0 1017.9,1082.9 1018.3,1102.1 1018.7,1100.8 1019.1,1101.3 1019.5,1090.0 1019.9,1100.4 1020.3,1090.3 1020.7,1091.2 1021.1,1093.6 1021.5,1105.6 1021.9,1096.4 1022.3,1096.8 1022.8,1102.3 1023.2,1104.1 1023.6,1091.2 1024.0,1110.1 1024.4,1100.2 1024.8,1097.9 1025.2,1083.9 1025.6,1094.7 1026.0,1098.7 1026.4,1102.3 1026.8,1099.5 1027.2,1094.9 1027.7,1096.1 1028.1,1088.3 1028.5,1090.1 1028.9,1103.6 1029.3,1095.2 1029.7,1101.7 1030.1,1101.7 1030.5,1109.5 1030.9,1091.7 1031.3,1097.2 1031.7,1082.4 1032.1,1092.5 1032.5,1094.9 1033.0,1110.1 1033.4,1099.1 1033.8,1091.5 1034.2,1110.5 1034.6,1115.3 1035.0,1105.1 1035.4,1100.3 1035.8,1111.1 1036.2,1088.5 1036.6,1100.7 1037.0,1088.3 1037.4,1110.4 1037.9,1105.0 1038.3,1106.6 1038.7,1109.0 1039.1,1096.5 1039.5,1090.2 1039.9,1091.9 1040.3,1105.9 1040.7,1105.4 1041.1,1079.3 1041.5,1114.9 1041.9,1108.0 1042.3,1107.8 1042.7,1104.5 1043.2,1101.9 1043.6,1100.6 1044.0,1099.3 1044.4,1097.3 1044.8,1088.6 1045.2,1099.6 1045.6,1104.3 1046.0,1094.8 1046.4,1099.7 1046.8,1101.0 1047.2,1097.8 1047.6,1094.2 1048.1,1098.4 1048.5,1096.2 1048.9,1086.2 1049.3,1107.9 1049.7,1120.8 1050.1,1100.3 1050.5,1105.1 1050.9,1089.1 1051.3,1096.8 1051.7,1098.0 1052.1,1105.1 1052.5,1094.2 1052.9,1102.4 1053.4,1095.9 1053.8,1105.0 1054.2,1094.9 1054.6,1092.4 1055.0,1094.6 1055.4,1092.1 1055.8,1096.2 1056.2,1091.5 1056.6,1096.9 1057.0,1095.4 1057.4,1096.3 1057.8,1093.7 1058.3,1096.8 1058.7,1107.3 1059.1,1104.9 1059.5,1099.0 1059.9,1108.1 1060.3,1102.6 1060.7,1087.3 1061.1,1091.5 1061.5,1087.8 1061.9,1088.2 1062.3,1109.1 1062.7,1095.2 1063.1,1093.5 1063.6,1109.6 1064.0,1090.3 1064.4,1094.1 1064.8,1104.0 1065.2,1100.9 1065.6,1102.6 1066.0,1107.0 1066.4,1088.8 1066.8,1090.1 1067.2,1106.3 1067.6,1101.4 1068.0,1099.2 1068.5,1098.7 1068.9,1102.5 1069.3,1105.9 1069.7,1090.1 1070.1,1102.0 1070.5,1116.1 1070.9,1096.1 1071.3,1104.3 1071.7,1116.7 1072.1,1096.3 1072.5,1097.9 1072.9,1085.8 1073.3,1095.9 1073.8,1093.5 1074.2,1104.8 1074.6,1110.2 1075.0,1101.0 1075.4,1102.7 1075.8,1092.9 1076.2,1116.0 1076.6,1105.3 1077.0,1106.3 1077.4,1119.5 1077.8,1099.8 1078.2,1099.8 1078.7,1097.0 1079.1,1086.4 1079.5,1111.7 1079.9,1098.1 1080.3,1091.4 1080.7,1091.8 1081.1,1104.1 1081.5,1110.7 1081.9,1101.5 1082.3,1091.9 1082.7,1091.3 1083.1,1104.9 1083.5,1110.3 1084.0,1099.6 1084.4,1081.4 1084.8,1104.1 1085.2,1089.3 1085.6,1100.8 1086.0,1100.7 1086.4,1101.3 1086.8,1088.4 1087.2,1088.6 1087.6,1096.4 1088.0,1100.0 1088.4,1092.0 1088.9,1087.0 1089.3,1081.0 1089.7,1073.2 1090.1,1090.1 1090.5,1083.2 1090.9,1069.1 1091.3,1100.1 1091.7,1098.1 1092.1,1100.1 1092.5,1086.7 1092.9,1093.5 1093.3,1080.0 1093.7,1091.6 1094.2,1092.6 1094.6,1099.1 1095.0,1084.5 1095.4,1100.9 1095.8,1105.2 1096.2,1104.6 1096.6,1102.9 1097.0,1106.9 1097.4,1102.7 1097.8,1093.8 1098.2,1087.3 1098.6,1086.4 1099.1,1096.4 1099.5,1090.8 1099.9,1096.9 1100.3,1098.6 1100.7,1091.0 1101.1,1106.8 1101.5,1086.9 1101.9,1090.8 1102.3,1101.4 1102.7,1097.9 1103.1,1086.9 1103.5,1101.6 1103.9,1088.5 1104.4,1104.0 1104.8,1091.4 1105.2,1089.2 1105.6,1094.3 1106.0,1100.9 1106.4,1103.0 1106.8,1092.4 1107.2,1094.7 1107.6,1098.7 1108.0,1101.3 1108.4,1093.3 1108.8,1103.0 1109.3,1099.4 1109.7,1091.9 1110.1,1102.3 1110.5,1097.5 1110.9,1115.5 1111.3,1109.5 1111.7,1106.7 1112.1,1102.3 1112.5,1105.4 1112.9,1105.7 1113.3,1091.3 1113.7,1107.5 1114.1,1090.8 1114.6,1092.1 1115.0,1094.0 1115.4,1101.3 1115.8,1104.7 1116.2,1108.2 1116.6,1090.5 1117.0,1097.2 1117.4,1094.3 1117.8,1103.4 1118.2,1098.2 1118.6,1124.4 1119.0,1111.2 1119.5,1102.8 1119.9,1086.1 1120.3,1101.1 1120.7,1095.6 1121.1,1102.8 1121.5,1097.1 1121.9,1098.1 1122.3,1083.2 1122.7,1095.5 1123.1,1109.3 1123.5,1099.8 1123.9,1104.2 1124.3,1101.5 1124.8,1095.2 1125.2,1111.5 1125.6,1090.1 1126.0,1109.2 1126.4,1099.8 1126.8,1099.7 1127.2,1091.8 1127.6,1110.8 1128.0,1096.7 1128.4,1098.7 1128.8,1102.0 1129.2,1113.3 1129.7,1097.2 1130.1,1084.9 1130.5,1085.3 1130.9,1090.3 1131.3,1098.0 1131.7,1093.0 1132.1,1091.7 1132.5,1107.8 1132.9,1116.6 1133.3,1106.5 1133.7,1103.5 1134.1,1094.8 1134.5,1102.4 1135.0,1105.1 1135.4,1099.4 1135.8,1101.2 1136.2,1094.0 1136.6,1106.9 1137.0,1092.1 1137.4,1113.7 1137.8,1101.4 1138.2,1094.2 1138.6,1105.8 1139.0,1096.7 1139.4,1094.7 1139.9,1106.7 1140.3,1109.1 1140.7,1087.4 1141.1,1097.8 1141.5,1116.5 1141.9,1095.7 1142.3,1094.8 1142.7,1092.3 1143.1,1078.0 1143.5,1102.3 1143.9,1097.0 1144.3,1101.8 1144.7,1112.1 1145.2,1107.0 1145.6,1106.1 1146.0,1085.2 1146.4,1079.6 1146.8,1106.2 1147.2,1101.4 1147.6,1105.1 1148.0,1103.5 1148.4,1106.7 1148.8,1109.9 1149.2,1109.9 1149.6,1096.9 1150.1,1107.7 1150.5,1090.9 1150.9,1099.2 1151.3,1089.3 1151.7,1106.2 1152.1,1100.2 1152.5,1095.5 1152.9,1094.0 1153.3,1099.9 1153.7,1111.2 1154.1,1111.7 1154.5,1083.9 1154.9,1100.2 1155.4,1107.9 1155.8,1107.0 1156.2,1105.6 1156.6,1089.0 1157.0,1097.0 1157.4,1110.8 1157.8,1097.5 1158.2,1093.5 1158.6,1090.1 1159.0,1106.5 1159.4,1113.2 1159.8,1106.9 1160.3,1097.0 1160.7,1111.5 1161.1,1096.6 1161.5,1098.1 1161.9,1109.5 1162.3,1108.5 1162.7,1107.6 1163.1,1106.9 1163.5,1098.0 1163.9,1101.5 1164.3,1101.4 1164.7,1095.2 1165.1,1096.5 1165.6,1106.9 1166.0,1101.0 1166.4,1091.9 1166.8,1094.9 1167.2,1091.6 1167.6,1088.8 1168.0,1103.0 1168.4,1102.6 1168.8,1098.7 1169.2,1086.8 1169.6,1095.4 1170.0,1084.4 1170.5,1099.3 1170.9,1096.1 1171.3,1099.4 1171.7,1089.1 1172.1,1111.9 1172.5,1104.7 1172.9,1109.8 1173.3,1093.5 1173.7,1095.1 1174.1,1108.8 1174.5,1105.0 1174.9,1093.2 1175.3,1092.6 1175.8,1087.4 1176.2,1096.2 1176.6,1083.7 1177.0,1098.8 1177.4,1090.7 1177.8,1090.0 1178.2,1082.4 1178.6,1094.2 1179.0,1091.9 1179.4,1078.5 1179.8,1070.7 1180.2,1092.8 1180.7,1065.9 1181.1,1084.1 1181.5,1063.3 1181.9,1098.2 1182.3,1086.6 1182.7,1074.0 1183.1,1080.7 1183.5,1088.8 1183.9,1064.9 1184.3,1071.9 1184.7,1092.2 1185.1,1088.4 1185.5,1094.2 1186.0,1093.4 1186.4,1092.0 1186.8,1101.8 1187.2,1104.5 1187.6,1090.6 1188.0,1103.9 1188.4,1094.4 1188.8,1091.9 1189.2,1099.5 1189.6,1090.3 1190.0,1098.7 1190.4,1086.9 1190.9,1101.8 1191.3,1099.4 1191.7,1103.5 1192.1,1097.8 1192.5,1089.1 1192.9,1098.4 1193.3,1105.2 1193.7,1100.4 1194.1,1107.9 1194.5,1088.5 1194.9,1094.4 1195.3,1100.2 1195.7,1096.4 1196.2,1105.5 1196.6,1091.6 1197.0,1095.7 1197.4,1088.6 1197.8,1099.2 1198.2,1097.4 1198.6,1086.0 1199.0,1096.5 1199.4,1106.2 1199.8,1100.2 1200.2,1099.2 1200.6,1114.7 1201.1,1089.3 1201.5,1097.3 1201.9,1085.9 1202.3,1097.1 1202.7,1085.6 1203.1,1098.3 1203.5,1108.1 1203.9,1099.6 1204.3,1103.4 1204.7,1088.5 1205.1,1089.5 1205.5,1095.4 1205.9,1095.2 1206.4,1119.7 1206.8,1093.4 1207.2,1093.6 1207.6,1093.2 1208.0,1092.9 1208.4,1099.8 1208.8,1092.8 1209.2,1091.5 1209.6,1096.9 1210.0,1103.9 1210.4,1089.1 1210.8,1097.1 1211.3,1103.1 1211.7,1117.0 1212.1,1093.9 1212.5,1100.8 1212.9,1104.2 1213.3,1104.1 1213.7,1107.5 1214.1,1092.8 1214.5,1083.5 1214.9,1099.8 1215.3,1101.3 1215.7,1090.9 1216.1,1100.7 1216.6,1090.4 1217.0,1094.6 1217.4,1087.5 1217.8,1091.2 1218.2,1101.4 1218.6,1096.4 1219.0,1101.8 1219.4,1100.4 1219.8,1103.9 1220.2,1091.8 1220.6,1096.1 1221.0,1105.8 1221.5,1104.8 1221.9,1091.7 1222.3,1083.9 1222.7,1101.5 1223.1,1100.8 1223.5,1100.4 1223.9,1084.8 1224.3,1098.1 1224.7,1104.9 1225.1,1098.1 1225.5,1094.7 1225.9,1102.1 1226.3,1090.0 1226.8,1113.6 1227.2,1101.8 1227.6,1089.0 1228.0,1119.8 1228.4,1102.6 1228.8,1091.8 1229.2,1101.5 1229.6,1097.5 1230.0,1100.1 1230.4,1099.6 1230.8,1094.7 1231.2,1103.8 1231.7,1097.0 1232.1,1099.2 1232.5,1089.2 1232.9,1102.6 1233.3,1094.8 1233.7,1099.4 1234.1,1105.5 1234.5,1097.9 1234.9,1101.2 1235.3,1100.2 1235.7,1100.5 1236.1,1096.4 1236.5,1109.2 1237.0,1096.7 1237.4,1096.5 1237.8,1095.4 1238.2,1099.6 1238.6,1109.9 1239.0,1104.4 1239.4,1107.4 1239.8,1092.3 1240.2,1078.8 1240.6,1103.9 1241.0,1096.3 1241.4,1105.5 1241.9,1111.9 1242.3,1105.6 1242.7,1093.9 1243.1,1100.9 1243.5,1095.0 1243.9,1111.1 1244.3,1105.4 1244.7,1097.5 1245.1,1098.3 1245.5,1096.9 1245.9,1111.9 1246.3,1086.9 1246.7,1100.0 1247.2,1092.9 1247.6,1104.6 1248.0,1107.6 1248.4,1093.7 1248.8,1089.5 1249.2,1093.0 1249.6,1104.5 1250.0,1086.1 1250.4,1100.1 1250.8,1106.8 1251.2,1096.2 1251.6,1098.9 1252.1,1092.7 1252.5,1096.1 1252.9,1090.7 1253.3,1097.3 1253.7,1091.0 1254.1,1095.7 1254.5,1112.8 1254.9,1098.8 1255.3,1100.9 1255.7,1098.6 1256.1,1095.9 1256.5,1091.5 1256.9,1097.8 1257.4,1093.2 1257.8,1102.9 1258.2,1097.2 1258.6,1087.8 1259.0,1099.0 1259.4,1094.8 1259.8,1091.9 1260.2,1098.0 1260.6,1098.4 1261.0,1094.1 1261.4,1103.6 1261.8,1112.7 1262.3,1105.8 1262.7,1099.9 1263.1,1093.2 1263.5,1093.1 1263.9,1087.4 1264.3,1093.5 1264.7,1093.2 1265.1,1095.7 1265.5,1099.4 1265.9,1097.8 1266.3,1110.3 1266.7,1100.8 1267.1,1114.8 1267.6,1093.9 1268.0,1090.4 1268.4,1096.9 1268.8,1105.3 1269.2,1100.1 1269.6,1094.3 1270.0,1094.2 1270.4,1099.8 1270.8,1108.7 1271.2,1101.0 1271.6,1100.9 1272.0,1098.5 1272.5,1096.9 1272.9,1102.1 1273.3,1101.1 1273.7,1103.6 1274.1,1099.0 1274.5,1103.1 1274.9,1098.1 1275.3,1096.8 1275.7,1114.2 1276.1,1105.8 1276.5,1103.4 1276.9,1105.5 1277.3,1099.5 1277.8,1109.5 1278.2,1113.0 1278.6,1099.3 1279.0,1111.7 1279.4,1113.1 1279.8,1102.7 1280.2,1091.0 1280.6,1102.7 1281.0,1092.6 1281.4,1107.9 1281.8,1095.8 1282.2,1103.2 1282.7,1104.4 1283.1,1098.3 1283.5,1091.6 1283.9,1109.9 1284.3,1096.0 1284.7,1093.9 1285.1,1102.0 1285.5,1100.0 1285.9,1091.5 1286.3,1097.7 1286.7,1101.3 1287.1,1100.0 1287.5,1104.6 1288.0,1096.4 1288.4,1104.8 1288.8,1112.0 1289.2,1110.1 1289.6,1096.9 1290.0,1104.3 1290.4,1101.4 1290.8,1087.4 1291.2,1091.1 1291.6,1095.3 1292.0,1100.1 1292.4,1087.8 1292.9,1087.2 1293.3,1069.9 1293.7,1081.7 1294.1,1072.3 1294.5,1072.8 1294.9,1067.9 1295.3,1056.5 1295.7,1074.8 1296.1,1045.3 1296.5,1063.9 1296.9,1043.8 1297.3,1021.3 1297.7,1031.2 1298.2,1025.2 1298.6,1022.4 1299.0,1015.4 1299.4,1036.7 1299.8,1009.7 1300.2,1013.7 1300.6,1021.2 1301.0,1045.8 1301.4,1039.5 1301.8,1034.1 1302.2,1035.6 1302.6,1066.2 1303.1,1063.1 1303.5,1058.0 1303.9,1071.3 1304.3,1082.8 1304.7,1059.6 1305.1,1076.8 1305.5,1081.7 1305.9,1091.5 1306.3,1084.0 1306.7,1096.6 1307.1,1089.3 1307.5,1099.8 1307.9,1084.3 1308.4,1114.7 1308.8,1092.9 1309.2,1088.1 1309.6,1084.2 1310.0,1101.3 1310.4,1102.7 1310.8,1099.0 1311.2,1087.0 1311.6,1100.1 1312.0,1113.0 1312.4,1084.5 1312.8,1097.8 1313.3,1100.0 1313.7,1113.6 1314.1,1092.6 1314.5,1109.6 1314.9,1111.0 1315.3,1100.2 1315.7,1101.5 1316.1,1111.4 1316.5,1092.0 1316.9,1099.5 1317.3,1104.9 1317.7,1092.1 1318.1,1103.6 1318.6,1098.4 1319.0,1104.3 1319.4,1099.5 1319.8,1099.6 1320.2,1114.1 1320.6,1097.0 1321.0,1097.1 1321.4,1107.5 1321.8,1100.1 1322.2,1098.6 1322.6,1116.1 1323.0,1102.4 1323.5,1098.5 1323.9,1095.7 1324.3,1096.6 1324.7,1099.2 1325.1,1104.9 1325.5,1113.4 1325.9,1102.8 1326.3,1098.3 1326.7,1093.9 1327.1,1102.3 1327.5,1100.5 1327.9,1108.7 1328.3,1102.6 1328.8,1106.2 1329.2,1105.8 1329.6,1106.6 1330.0,1104.3 1330.4,1116.2 1330.8,1096.5 1331.2,1106.7 1331.6,1102.9 1332.0,1097.4 1332.4,1099.6 1332.8,1109.5 1333.2,1094.7 1333.7,1094.5 1334.1,1098.3 1334.5,1099.4 1334.9,1093.0 1335.3,1108.0 1335.7,1100.7 1336.1,1092.9 1336.5,1100.7 1336.9,1111.6 1337.3,1108.7 1337.7,1103.8 1338.1,1104.3 1338.5,1110.6 1339.0,1090.6 1339.4,1113.8 1339.8,1095.0 1340.2,1103.3 1340.6,1099.0 1341.0,1109.1 1341.4,1101.1 1341.8,1101.8 1342.2,1104.7 1342.6,1099.6 1343.0,1101.0 1343.4,1098.9 1343.9,1104.8 1344.3,1104.2 1344.7,1095.4 1345.1,1102.3 1345.5,1121.5 1345.9,1106.5 1346.3,1099.5 1346.7,1097.4 1347.1,1101.3 1347.5,1107.4 1347.9,1085.8 1348.3,1101.5 1348.7,1099.3 1349.2,1110.8 1349.6,1100.8 1350.0,1108.8 1350.4,1089.7 1350.8,1094.6 1351.2,1106.6 1351.6,1096.6 1352.0,1103.6 1352.4,1102.5 1352.8,1094.5 1353.2,1097.9 1353.6,1105.4 1354.1,1101.3 1354.5,1091.8 1354.9,1094.8 1355.3,1095.5 1355.7,1097.5 1356.1,1104.8 1356.5,1088.4 1356.9,1094.5 1357.3,1103.9 1357.7,1096.2 1358.1,1096.6 1358.5,1091.2 1358.9,1089.3 1359.4,1106.0 1359.8,1102.3 1360.2,1098.7 1360.6,1096.2 1361.0,1094.7 1361.4,1102.9 1361.8,1095.0 1362.2,1095.9 1362.6,1083.7 1363.0,1098.3 1363.4,1090.2 1363.8,1099.1 1364.3,1092.6 1364.7,1096.0 1365.1,1105.7 1365.5,1088.9 1365.9,1094.3 1366.3,1086.2 1366.7,1095.5 1367.1,1096.2 1367.5,1089.2 1367.9,1090.3 1368.3,1108.7 1368.7,1092.8 1369.1,1099.2 1369.6,1100.1 1370.0,1101.2 1370.4,1093.7 1370.8,1088.2 1371.2,1103.4 1371.6,1105.5 1372.0,1090.6 1372.4,1104.4 1372.8,1094.8 1373.2,1107.5 1373.6,1105.1 1374.0,1088.2 1374.5,1103.3 1374.9,1095.0 1375.3,1084.5 1375.7,1098.2 1376.1,1091.6 1376.5,1086.1 1376.9,1101.4 1377.3,1098.7 1377.7,1090.4 1378.1,1096.4 1378.5,1085.2 1378.9,1097.3 1379.3,1084.1 1379.8,1089.0 1380.2,1090.5 1380.6,1099.2 1381.0,1104.3 1381.4,1085.7 1381.8,1100.0 1382.2,1096.8 1382.6,1103.9 1383.0,1097.3 1383.4,1087.3 1383.8,1092.8 1384.2,1081.9 1384.7,1099.5 1385.1,1100.0 1385.5,1101.0 1385.9,1095.2 1386.3,1095.7 1386.7,1085.9 1387.1,1095.4 1387.5,1087.0 1387.9,1097.6 1388.3,1094.4 1388.7,1095.7 1389.1,1079.1 1389.5,1094.6 1390.0,1082.9 1390.4,1099.8 1390.8,1093.7 1391.2,1089.4 1391.6,1094.4 1392.0,1094.1 1392.4,1092.9 1392.8,1084.6 1393.2,1090.2 1393.6,1083.7 1394.0,1087.6 1394.4,1083.3 1394.9,1100.6 1395.3,1102.1 1395.7,1099.3 1396.1,1092.0 1396.5,1090.7 1396.9,1095.4 1397.3,1100.4 1397.7,1093.6 1398.1,1087.4 1398.5,1081.0 1398.9,1099.3 1399.3,1099.9 1399.7,1093.7 1400.2,1086.7 1400.6,1105.7 1401.0,1102.2 1401.4,1103.2 1401.8,1102.9 1402.2,1096.2 1402.6,1087.1 1403.0,1090.8 1403.4,1094.8 1403.8,1101.6 1404.2,1091.5 1404.6,1101.5 1405.1,1090.6 1405.5,1098.8 1405.9,1096.8 1406.3,1101.4 1406.7,1082.9 1407.1,1092.4 1407.5,1090.2 1407.9,1088.8 1408.3,1109.3 1408.7,1096.2 1409.1,1102.2 1409.5,1085.9 1409.9,1090.9 1410.4,1093.0 1410.8,1096.8 1411.2,1098.4 1411.6,1106.1 1412.0,1092.3 1412.4,1102.3 1412.8,1097.3 1413.2,1098.6 1413.6,1097.1 1414.0,1092.0 1414.4,1104.6 1414.8,1088.6 1415.3,1097.8 1415.7,1088.6 1416.1,1102.7 1416.5,1092.4 1416.9,1084.8 1417.3,1096.5 1417.7,1085.4 1418.1,1098.0 1418.5,1099.3 1418.9,1095.6 1419.3,1085.4 1419.7,1106.5 1420.1,1082.0 1420.6,1091.7 1421.0,1084.4 1421.4,1091.9 1421.8,1096.0 1422.2,1103.3 1422.6,1095.6 1423.0,1096.2 1423.4,1098.9 1423.8,1111.2 1424.2,1095.3 1424.6,1087.0 1425.0,1098.1 1425.5,1097.3 1425.9,1103.4 1426.3,1096.3 1426.7,1091.4 1427.1,1107.7 1427.5,1093.7 1427.9,1081.0 1428.3,1096.9 1428.7,1098.5 1429.1,1100.1 1429.5,1101.9 1429.9,1096.9 1430.3,1094.9 1430.8,1105.9 1431.2,1081.3 1431.6,1103.6 1432.0,1105.4 1432.4,1097.3 1432.8,1099.4 1433.2,1093.3 1433.6,1109.3 1434.0,1097.2 1434.4,1094.2 1434.8,1098.3 1435.2,1087.9 1435.7,1106.8 1436.1,1109.3 1436.5,1098.6 1436.9,1091.5 1437.3,1101.1 1437.7,1097.2 1438.1,1114.3 1438.5,1100.3 1438.9,1104.2 1439.3,1092.1 1439.7,1100.2 1440.1,1102.2 1440.5,1099.1 1441.0,1108.0 1441.4,1097.6 1441.8,1091.8 1442.2,1091.4 1442.6,1100.9 1443.0,1099.6 1443.4,1104.8 1443.8,1098.5 1444.2,1097.7 1444.6,1099.7 1445.0,1103.2 1445.4,1103.2 1445.9,1095.1 1446.3,1103.0 1446.7,1099.0 1447.1,1094.7 1447.5,1097.4 1447.9,1094.1 1448.3,1100.4 1448.7,1101.4 1449.1,1104.8 1449.5,1101.2 1449.9,1094.4 1450.3,1108.3 1450.7,1103.1 1451.2,1102.6 1451.6,1094.5 1452.0,1097.4 1452.4,1098.2 1452.8,1092.0 1453.2,1087.7 1453.6,1098.8 1454.0,1096.9 1454.4,1082.7 1454.8,1099.1 1455.2,1110.8 1455.6,1101.7 1456.1,1100.6 1456.5,1100.6 1456.9,1105.3 1457.3,1099.8 1457.7,1104.2 1458.1,1101.5 1458.5,1100.2 1458.9,1102.4 1459.3,1092.0 1459.7,1086.9 1460.1,1096.2 1460.5,1098.3 1460.9,1095.2 1461.4,1097.7 1461.8,1101.1 1462.2,1103.3 1462.6,1102.1 1463.0,1093.0 1463.4,1095.8 1463.8,1108.0 1464.2,1087.1 1464.6,1096.7 1465.0,1108.8 1465.4,1102.1 1465.8,1098.7 1466.3,1100.0 1466.7,1086.9 1467.1,1079.4 1467.5,1101.6 1467.9,1092.2 1468.3,1085.3 1468.7,1086.6 1469.1,1096.7 1469.5,1096.3 1469.9,1092.1 1470.3,1104.2 1470.7,1103.9 1471.1,1107.7 1471.6,1103.8 1472.0,1103.1 1472.4,1108.1 1472.8,1089.2 1473.2,1094.0 1473.6,1101.0 1474.0,1092.1 1474.4,1097.7 1474.8,1096.7 1475.2,1100.0 1475.6,1088.9 1476.0,1095.4 1476.5,1100.4 1476.9,1089.1 1477.3,1096.6 1477.7,1089.0 1478.1,1106.0 1478.5,1095.0 1478.9,1107.5 1479.3,1095.1 1479.7,1101.8 1480.1,1093.8 1480.5,1095.2 1480.9,1082.8 1481.3,1107.2 1481.8,1098.7 1482.2,1090.9 1482.6,1083.9 1483.0,1090.6 1483.4,1098.6 1483.8,1092.8 1484.2,1078.6 1484.6,1093.2 1485.0,1094.8 1485.4,1101.9 1485.8,1098.3 1486.2,1096.9 1486.7,1100.2 1487.1,1093.7 1487.5,1102.5 1487.9,1101.5 1488.3,1080.3 1488.7,1090.1 1489.1,1108.1 1489.5,1089.7 1489.9,1087.0 1490.3,1098.4 1490.7,1095.5 1491.1,1090.7 1491.5,1110.3 1492.0,1085.6 1492.4,1092.5 1492.8,1100.9 1493.2,1096.9 1493.6,1095.8 1494.0,1100.5 1494.4,1092.7 1494.8,1102.4 1495.2,1093.6 1495.6,1097.9 1496.0,1103.7 1496.4,1092.7 1496.9,1106.1 1497.3,1099.5 1497.7,1105.8 1498.1,1092.7 1498.5,1093.9 1498.9,1082.9 1499.3,1095.2 1499.7,1095.4 1500.1,1093.3 1500.5,1097.1 1500.9,1106.8 1501.3,1101.2 1501.7,1097.4 1502.2,1091.0 1502.6,1082.0 1503.0,1107.0 1503.4,1071.9 1503.8,1102.0 1504.2,1104.8 1504.6,1087.5 1505.0,1088.9 1505.4,1087.7 1505.8,1085.2 1506.2,1097.4 1506.6,1095.2 1507.1,1095.8 1507.5,1096.9 1507.9,1097.8 1508.3,1097.9 1508.7,1100.7 1509.1,1092.9 1509.5,1098.1 1509.9,1097.2 1510.3,1080.9 1510.7,1094.6 1511.1,1099.4 1511.5,1083.8 1511.9,1086.4 1512.4,1074.9 1512.8,1075.7 1513.2,1073.7 1513.6,1059.6 1514.0,1066.2 1514.4,1073.2 1514.8,1072.3 1515.2,1074.7 1515.6,1052.1 1516.0,1059.2 1516.4,1078.1 1516.8,1053.3 1517.3,1078.6 1517.7,1047.3 1518.1,1066.1 1518.5,1085.5 1518.9,1067.5 1519.3,1080.0 1519.7,1097.8 1520.1,1090.1 1520.5,1090.6 1520.9,1080.6 1521.3,1094.3 1521.7,1089.4 1522.1,1090.1 1522.6,1103.1 1523.0,1117.4 1523.4,1102.2 1523.8,1113.2 1524.2,1086.3 1524.6,1084.5 1525.0,1097.5 1525.4,1103.7 1525.8,1090.8 1526.2,1110.6 1526.6,1106.7 1527.0,1092.4 1527.5,1099.0 1527.9,1105.2 1528.3,1096.1 1528.7,1099.2 1529.1,1094.3 1529.5,1094.8 1529.9,1098.4 1530.3,1086.7 1530.7,1097.5 1531.1,1109.0 1531.5,1092.0 1531.9,1111.3 1532.3,1098.3 1532.8,1086.3 1533.2,1101.8 1533.6,1094.5 1534.0,1102.7 1534.4,1083.8 1534.8,1108.7 1535.2,1097.5 1535.6,1105.1 1536.0,1103.0 1536.4,1095.6 1536.8,1099.4 1537.2,1099.0 1537.7,1090.3 1538.1,1101.5 1538.5,1107.8 1538.9,1096.0 1539.3,1093.1 1539.7,1100.5 1540.1,1084.6 1540.5,1084.4 1540.9,1104.1 1541.3,1091.3 1541.7,1092.1 1542.1,1107.8 1542.5,1107.7 1543.0,1100.3 1543.4,1088.1 1543.8,1096.7 1544.2,1093.4 1544.6,1103.8 1545.0,1098.1 1545.4,1084.8 1545.8,1092.8 1546.2,1108.4 1546.6,1109.0 1547.0,1090.0 1547.4,1106.2 1547.9,1100.4 1548.3,1101.9 1548.7,1093.5 1549.1,1113.0 1549.5,1107.5 1549.9,1097.4 1550.3,1080.1 1550.7,1106.3 1551.1,1096.0 1551.5,1098.2 1551.9,1104.1 1552.3,1099.5 1552.7,1095.2 1553.2,1102.5 1553.6,1108.3 1554.0,1094.7 1554.4,1096.9 1554.8,1089.5 1555.2,1098.4 1555.6,1094.0 1556.0,1100.1 1556.4,1104.2 1556.8,1108.3 1557.2,1096.8 1557.6,1095.7 1558.1,1106.3 1558.5,1098.4 1558.9,1100.6 1559.3,1093.2 1559.7,1102.0 1560.1,1096.9 1560.5,1092.7 1560.9,1090.8 1561.3,1113.5 1561.7,1105.3 1562.1,1108.4 1562.5,1088.6 1562.9,1102.5 1563.4,1107.2 1563.8,1092.7 1564.2,1088.4 1564.6,1101.7 1565.0,1105.2 1565.4,1095.0 1565.8,1108.1 1566.2,1112.9 1566.6,1095.0 1567.0,1096.1 1567.4,1098.3 1567.8,1090.9 1568.3,1094.7 1568.7,1098.6 1569.1,1102.8 1569.5,1107.9 1569.9,1101.6 1570.3,1108.0 1570.7,1112.1 1571.1,1110.1 1571.5,1101.3 1571.9,1099.3 1572.3,1098.9 1572.7,1103.0 1573.1,1111.8 1573.6,1099.3 1574.0,1087.6 1574.4,1108.0 1574.8,1091.9 1575.2,1107.3 1575.6,1101.0 1576.0,1114.7 1576.4,1093.8 1576.8,1101.4 1577.2,1095.3 1577.6,1113.7 1578.0,1099.9 1578.5,1096.1 1578.9,1112.5 1579.3,1098.1 1579.7,1112.5 1580.1,1093.5 1580.5,1114.6 1580.9,1114.0 1581.3,1111.5 1581.7,1100.5 1582.1,1111.6 1582.5,1110.2 1582.9,1093.0 1583.3,1104.2 1583.8,1099.7 1584.2,1101.3 1584.6,1111.6 1585.0,1103.6 1585.4,1110.0 1585.8,1098.6 1586.2,1090.5 1586.6,1100.3 1587.0,1096.2 1587.4,1102.0 1587.8,1102.7 1588.2,1105.4 1588.7,1097.0 1589.1,1108.6 1589.5,1114.6 1589.9,1113.3 1590.3,1098.9 1590.7,1104.7 1591.1,1097.3 1591.5,1106.0 1591.9,1092.8 1592.3,1110.3 1592.7,1100.2 1593.1,1102.8 1593.5,1113.3 1594.0,1110.0 1594.4,1105.9 1594.8,1119.3 1595.2,1101.7 1595.6,1107.8 1596.0,1105.6 1596.4,1106.8 1596.8,1112.7 1597.2,1093.4 1597.6,1100.8 1598.0,1109.9 1598.4,1103.3 1598.9,1111.0 1599.3,1107.0 1599.7,1106.5 1600.1,1095.9 1600.5,1119.1 1600.9,1112.9 1601.3,1110.4 1601.7,1097.8 1602.1,1091.7 1602.5,1097.2 1602.9,1101.1 1603.3,1110.8 1603.7,1108.3 1604.2,1113.0 1604.6,1102.2 1605.0,1097.7 1605.4,1101.1 1605.8,1099.5 1606.2,1101.8 1606.6,1105.0 1607.0,1102.1 1607.4,1106.0 1607.8,1099.4 1608.2,1112.1 1608.6,1109.2 1609.1,1106.0 1609.5,1106.2 1609.9,1098.1 1610.3,1106.5 1610.7,1113.9 1611.1,1118.2 1611.5,1097.8 1611.9,1103.6 1612.3,1100.3 1612.7,1102.3 1613.1,1121.8 1613.5,1110.9 1613.9,1096.1 1614.4,1103.3 1614.8,1099.0 1615.2,1098.6 1615.6,1099.8 1616.0,1115.9 1616.4,1105.3 1616.8,1102.9 1617.2,1094.1 1617.6,1111.7 1618.0,1116.4 1618.4,1109.5 1618.8,1109.4 1619.3,1102.5 1619.7,1104.0 1620.1,1098.4 1620.5,1101.3 1620.9,1115.0 1621.3,1109.6 1621.7,1113.5 1622.1,1107.7 1622.5,1096.2 1622.9,1101.2 1623.3,1111.5 1623.7,1109.8 1624.1,1109.9 1624.6,1096.1 1625.0,1122.6 1625.4,1095.4 1625.8,1107.0 1626.2,1096.4 1626.6,1095.5 1627.0,1114.2 1627.4,1105.7 1627.8,1113.5 1628.2,1105.3 1628.6,1102.7 1629.0,1118.8 1629.5,1108.2 1629.9,1103.3 1630.3,1094.3 1630.7,1099.5 1631.1,1096.9 1631.5,1111.0 1631.9,1105.2 1632.3,1110.3 1632.7,1116.1 1633.1,1104.8 1633.5,1103.1 1633.9,1108.6 1634.3,1119.8 1634.8,1105.5 1635.2,1111.5 1635.6,1109.7 1636.0,1119.1 1636.4,1104.0 1636.8,1117.4 1637.2,1115.4 1637.6,1104.9 1638.0,1105.1 1638.4,1105.9 1638.8,1095.5 1639.2,1103.2 1639.7,1102.1 1640.1,1104.4 1640.5,1113.1 1640.9,1107.5 1641.3,1105.9 1641.7,1104.0 1642.1,1100.7 1642.5,1118.9 1642.9,1094.3 1643.3,1096.7 1643.7,1094.0 1644.1,1101.8 1644.5,1109.2 1645.0,1092.0 1645.4,1102.0 1645.8,1098.8 1646.2,1101.6 1646.6,1095.8 1647.0,1106.5 1647.4,1096.5 1647.8,1099.8 1648.2,1100.3 1648.6,1102.6 1649.0,1105.5 1649.4,1111.8 1649.9,1098.8 1650.3,1101.5 1650.7,1112.4 1651.1,1102.7 1651.5,1103.3 1651.9,1100.6 1652.3,1114.5 1652.7,1103.2 1653.1,1100.8 1653.5,1102.0 1653.9,1110.3 1654.3,1107.6 1654.7,1100.3 1655.2,1107.7 1655.6,1104.3 1656.0,1110.1 1656.4,1109.7 1656.8,1107.5 1657.2,1114.0 1657.6,1108.7 1658.0,1106.3 1658.4,1108.1 1658.8,1114.8 1659.2,1103.9 1659.6,1111.4 1660.1,1102.8 1660.5,1123.6 1660.9,1103.2 1661.3,1108.7 1661.7,1107.7 1662.1,1102.6 1662.5,1103.4 1662.9,1096.7 1663.3,1118.0 1663.7,1113.2 1664.1,1112.5 1664.5,1112.2 1664.9,1121.3 1665.4,1095.4 1665.8,1102.8 1666.2,1109.6 1666.6,1109.8 1667.0,1104.5 1667.4,1103.9 1667.8,1100.3 1668.2,1101.0 1668.6,1112.3 1669.0,1107.5 1669.4,1094.3 1669.8,1109.4 1670.3,1108.2 1670.7,1105.3 1671.1,1098.6 1671.5,1104.8 1671.9,1105.0 1672.3,1112.2 1672.7,1100.4 1673.1,1087.1 1673.5,1105.6 1673.9,1115.9 1674.3,1103.8 1674.7,1105.6 1675.1,1106.3 1675.6,1093.5 1676.0,1103.5 1676.4,1099.0 1676.8,1107.5 1677.2,1109.4 1677.6,1105.1 1678.0,1102.4 1678.4,1103.5 1678.8,1107.2 1679.2,1104.1 1679.6,1111.5 1680.0,1104.0 1680.5,1113.4 1680.9,1106.3 1681.3,1110.7 1681.7,1102.1 1682.1,1107.7 1682.5,1096.4 1682.9,1104.3 1683.3,1098.8 1683.7,1105.6 1684.1,1114.7 1684.5,1105.3 1684.9,1101.4 1685.3,1106.8 1685.8,1095.9 1686.2,1120.0 1686.6,1102.0 1687.0,1106.9 1687.4,1091.6 1687.8,1102.5 1688.2,1101.2 1688.6,1106.5 1689.0,1107.6 1689.4,1092.5 1689.8,1100.4 1690.2,1098.8 1690.7,1107.1 1691.1,1115.3 1691.5,1105.0 1691.9,1100.9 1692.3,1107.2 1692.7,1103.6 1693.1,1108.6 1693.5,1106.7 1693.9,1101.9 1694.3,1108.4 1694.7,1112.4 1695.1,1104.9 1695.5,1117.6 1696.0,1105.4 1696.4,1111.3 1696.8,1106.1 1697.2,1115.6 1697.6,1111.0 1698.0,1103.7 1698.4,1108.1 1698.8,1116.9 1699.2,1099.6 1699.6,1111.2 1700.0,1102.7 1700.4,1101.2 1700.9,1089.5 1701.3,1113.7 1701.7,1103.1 1702.1,1096.2 1702.5,1103.0 1702.9,1112.9 1703.3,1109.3"/>
<rect x="173.5" y="17.5" width="1632" height="1217" fill="none" stroke="#000" stroke-width="5"/>
<path d="M173.3,1237V1258M275.3,1237V1247M377.3,1237V1258M479.3,1237V1247M581.3,1237V1258M683.3,1237V1247M785.3,1237V1258M887.3,1237V1247M989.3,1237V1258M1091.3,1237V1247M1193.3,1237V1258M1295.3,1237V1247M1397.3,1237V1258M1499.3,1237V1247M1601.3,1237V1258M1703.3,1237V1247M1805.3,1237V1258" stroke="#000" stroke-width="5" fill="none"/>
<g font-family="Liberation Serif, serif" font-size="53" text-anchor="middle" fill="#000"><text x="173.3" y="1318.5">0</text><text x="377.3" y="1318.5">10</text><text x="581.3" y="1318.5">20</text><text x="785.3" y="1318.5">30</text><text x="989.3" y="1318.5">40</text><text x="1193.3" y="1318.5">50</text><text x="1397.3" y="1318.5">60</text><text x="1601.3" y="1318.5">70</text><text x="1805.3" y="1318.5">80</text></g>
<text transform="translate(988,1424) scale(1.024,1)" x="0" y="0" font-family="Liberation Serif, serif" font-size="84" text-anchor="middle" fill="#000">2 Theta(&#176;)</text>
<text transform="translate(67,628.9) rotate(-90)" x="0" y="0" font-family="Liberation Serif, serif" font-size="85" text-anchor="middle" fill="#000">Intensity(a.u.)</text>
<text transform="translate(180.9,88.6) scale(0.969,1)" font-family="Liberation Serif, serif" font-size="70" fill="#000">MCM-41</text>
<rect x="277" y="109" width="23" height="23" fill="#000"/>
<text transform="translate(757.2,80.5) scale(0.9786,1)" font-family="Liberation Serif, serif" font-size="70" fill="#FF0000">Nb<tspan dy="16">2</tspan><tspan dy="-16">O</tspan><tspan dy="16">5</tspan></text>
<rect x="835" y="112" width="23" height="23" fill="#FF0000"/>
<text transform="translate(863.3,190.5) scale(0.982,1)" font-family="Liberation Serif, serif" font-size="70" fill="#FF8000">MnO</text>
<rect x="899" y="249" width="23" height="23" fill="#FF8000"/>
<text transform="translate(966.3,251.6) scale(0.971,1)" font-family="Liberation Serif, serif" font-size="70" fill="#9600FF">Mn<tspan dy="16">2</tspan><tspan dy="-16">O</tspan><tspan dy="16">3</tspan></text>
<rect x="943" y="242" width="24" height="24" fill="#9600FF"/>
<text transform="translate(1193.2,173.7) scale(0.97,1)" font-family="Liberation Serif, serif" font-size="70" fill="#9600FF">Mn<tspan dy="16">2</tspan><tspan dy="-16">O</tspan><tspan dy="16">3</tspan></text>
<rect x="1288" y="230" width="24" height="24" fill="#9600FF"/>
<text transform="translate(1454.1,205) scale(0.986,1)" font-family="Liberation Serif, serif" font-size="70" fill="#FF0080">MnO<tspan dy="16">2</tspan></text>
<rect x="1503" y="254" width="24" height="24" fill="#FF0080"/>
<text transform="translate(1460.3,396) scale(0.99,1)" font-family="Liberation Serif, serif" font-size="51.5" fill="#000">Nb-Mn/M4</text>
<text transform="translate(1470.4,665) scale(0.985,1)" font-family="Liberation Serif, serif" font-size="51.5" fill="#000">Nb-Mn/M3</text>
<text transform="translate(1472.4,925) scale(0.997,1)" font-family="Liberation Serif, serif" font-size="51.5" fill="#000">Nb-Mn/M2</text>
<text transform="translate(1468.3,1182.8) scale(0.976,1)" font-family="Liberation Serif, serif" font-size="51.5" fill="#000">Nb-Mn/M1</text>
</svg>
</body></html>
